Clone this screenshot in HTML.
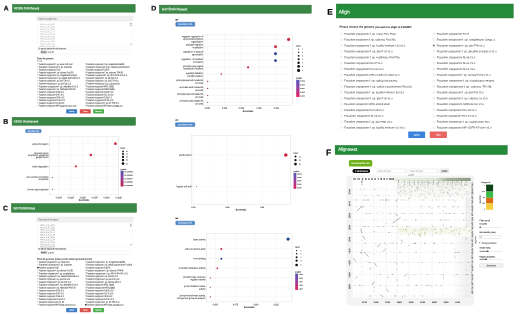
<!DOCTYPE html>
<html><head><meta charset="utf-8"><style>
html,body{margin:0;padding:0;background:#fff;width:520px;height:314px;overflow:hidden}
svg{display:block;font-family:"Liberation Sans",sans-serif;will-change:transform;text-rendering:geometricPrecision}
</style></head><body>
<svg width="520" height="314" viewBox="0 0 520 314">
<rect width="520" height="314" fill="#fff"/>
<text transform="matrix(1.0 0.0012 0 1 3.700 10.578)" font-size="6.7" fill="#0a0a0a" text-anchor="start" font-weight="bold" stroke="#0a0a0a" stroke-width="0.2">A</text>
<text transform="matrix(1.0 0.0012 0 1 3.200 123.646)" font-size="6.9" fill="#0a0a0a" text-anchor="start" font-weight="bold" stroke="#0a0a0a" stroke-width="0.2">B</text>
<text transform="matrix(1.0 0.0012 0 1 3.100 210.546)" font-size="6.9" fill="#0a0a0a" text-anchor="start" font-weight="bold" stroke="#0a0a0a" stroke-width="0.2">C</text>
<text transform="matrix(1.0 0.0012 0 1 151.300 10.596)" font-size="6.9" fill="#0a0a0a" text-anchor="start" font-weight="bold" stroke="#0a0a0a" stroke-width="0.2">D</text>
<text transform="matrix(1.0 0.0012 0 1 327.200 14.722)" font-size="8.3" fill="#0a0a0a" text-anchor="start" font-weight="bold" stroke="#0a0a0a" stroke-width="0.2">E</text>
<text transform="matrix(1.0 0.0012 0 1 325.900 155.624)" font-size="8.6" fill="#0a0a0a" text-anchor="start" font-weight="bold" stroke="#0a0a0a" stroke-width="0.2">F</text>
<rect x="12.42" y="4.32" width="122.75" height="7.85" rx="0" fill="#3a8745" stroke="#2c6d37" stroke-width="0.45"/>
<text transform="matrix(1.0 0.0012 0 1 14.200 9.354)" font-size="3.1" fill="#eef8ee" text-anchor="start" textLength="25.00" lengthAdjust="spacingAndGlyphs" stroke="#eef8ee" stroke-width="0.14">KEGG Enrichment</text>
<rect x="12.12" y="117.32" width="123.45" height="7.95" rx="0" fill="#3a8745" stroke="#2c6d37" stroke-width="0.45"/>
<text transform="matrix(1.0 0.0012 0 1 13.800 122.520)" font-size="3.0" fill="#eef8ee" text-anchor="start" textLength="24.30" lengthAdjust="spacingAndGlyphs" stroke="#eef8ee" stroke-width="0.14">KEGG Enrichment</text>
<rect x="11.42" y="203.53" width="125.15" height="8.75" rx="0" fill="#3a8745" stroke="#2c6d37" stroke-width="0.45"/>
<text transform="matrix(1.0 0.0012 0 1 13.500 209.354)" font-size="3.1" fill="#eef8ee" text-anchor="start" textLength="21.50" lengthAdjust="spacingAndGlyphs" stroke="#eef8ee" stroke-width="0.14">GO Enrichment</text>
<rect x="159.32" y="5.12" width="151.95" height="8.15" rx="0" fill="#3a8745" stroke="#2c6d37" stroke-width="0.45"/>
<text transform="matrix(1.0 0.0012 0 1 161.800 10.356)" font-size="3.4" fill="#eef8ee" text-anchor="start" textLength="25.40" lengthAdjust="spacingAndGlyphs" stroke="#eef8ee" stroke-width="0.14">GO Enrichment</text>
<rect x="336.23" y="4.02" width="177.05" height="13.95" rx="0" fill="#248b3a" stroke="#1f7030" stroke-width="0.45"/>
<text transform="matrix(1.0 0.0012 0 1 338.800 13.500)" font-size="5.0" fill="#f0faf0" text-anchor="start" textLength="11.00" lengthAdjust="spacingAndGlyphs" stroke="#f0faf0" stroke-width="0.14">Align</text>
<rect x="335.12" y="145.42" width="172.15" height="9.15" rx="0" fill="#248b3a" stroke="#1f7030" stroke-width="0.45"/>
<text transform="matrix(1.0 0.0012 0 1 338.200 150.864)" font-size="4.6" fill="#f0faf0" text-anchor="start" textLength="19.00" lengthAdjust="spacingAndGlyphs" stroke="#f0faf0" stroke-width="0.14">Alignment</text>
<rect x="36.55" y="16.35" width="96.50" height="4.60" rx="1.2" fill="#f0f0f0" stroke="#e2e2e2" stroke-width="0.3"/>
<text transform="matrix(1.0 0.0012 0 1 38.300 19.448)" font-size="2.2" fill="#555" text-anchor="start" textLength="18.20" lengthAdjust="spacingAndGlyphs" stroke="#555" stroke-width="0.02">Paste a list of genes IDs</text>
<rect x="37.42" y="21.62" width="95.15" height="24.65" rx="0" fill="#fff" stroke="#e8e8e8" stroke-width="0.25"/>
<text transform="matrix(1.0 0.0012 0 1 39.900 25.080)" font-size="2.0" fill="#9a9a9a" text-anchor="start" textLength="15.00" lengthAdjust="spacingAndGlyphs">FOXM_scaf_14227</text>
<text transform="matrix(1.0 0.0012 0 1 39.900 27.500)" font-size="2.0" fill="#9a9a9a" text-anchor="start" textLength="15.00" lengthAdjust="spacingAndGlyphs">FOXM_scaf_12283</text>
<text transform="matrix(1.0 0.0012 0 1 39.900 29.920)" font-size="2.0" fill="#9a9a9a" text-anchor="start" textLength="15.00" lengthAdjust="spacingAndGlyphs">FOXM_prot_2308</text>
<text transform="matrix(1.0 0.0012 0 1 39.900 32.340)" font-size="2.0" fill="#9a9a9a" text-anchor="start" textLength="15.00" lengthAdjust="spacingAndGlyphs">FOXM_scaf_11776</text>
<text transform="matrix(1.0 0.0012 0 1 39.900 34.760)" font-size="2.0" fill="#9a9a9a" text-anchor="start" textLength="15.00" lengthAdjust="spacingAndGlyphs">FOXM_scaf_11780</text>
<text transform="matrix(1.0 0.0012 0 1 39.900 37.180)" font-size="2.0" fill="#9a9a9a" text-anchor="start" textLength="15.00" lengthAdjust="spacingAndGlyphs">FOXM_scaf_12685</text>
<text transform="matrix(1.0 0.0012 0 1 39.900 39.600)" font-size="2.0" fill="#9a9a9a" text-anchor="start" textLength="15.00" lengthAdjust="spacingAndGlyphs">FOXM_scaf_12780</text>
<text transform="matrix(1.0 0.0012 0 1 39.900 42.020)" font-size="2.0" fill="#9a9a9a" text-anchor="start" textLength="15.00" lengthAdjust="spacingAndGlyphs">FOXM_scaf_12318</text>
<text transform="matrix(1.0 0.0012 0 1 39.900 44.440)" font-size="2.0" fill="#9a9a9a" text-anchor="start" textLength="15.00" lengthAdjust="spacingAndGlyphs">FOXM_scaf_1781</text>
<text transform="matrix(1.0 0.0012 0 1 39.900 46.860)" font-size="2.0" fill="#9a9a9a" text-anchor="start" textLength="15.00" lengthAdjust="spacingAndGlyphs">FOXM_scaf_1783</text>
<rect x="130.30" y="23.10" width="1.10" height="0.90" rx="0" fill="#777"/>
<rect x="130.30" y="24.50" width="1.10" height="1.50" rx="0" fill="#999"/>
<rect x="130.30" y="43.80" width="1.10" height="0.90" rx="0" fill="#777"/>
<text transform="matrix(1.0 0.0012 0 1 38.300 49.148)" font-size="2.2" fill="#333" text-anchor="start" textLength="27.90" lengthAdjust="spacingAndGlyphs" stroke="#333" stroke-width="0.07">Or please upload the list of genes</text>
<rect x="37.62" y="49.83" width="93.75" height="4.15" rx="0.5" fill="#fff" stroke="#e0e0e0" stroke-width="0.25"/>
<rect x="40.92" y="50.92" width="6.15" height="2.25" rx="0" fill="#d2d2d2" stroke="#999" stroke-width="0.25"/>
<text transform="matrix(1.0 0.0012 0 1 41.300 52.510)" font-size="1.5" fill="#222" text-anchor="start" textLength="5.30" lengthAdjust="spacingAndGlyphs" stroke="#222" stroke-width="0.07">Browse...</text>
<text transform="matrix(1.0 0.0012 0 1 47.900 52.544)" font-size="1.6" fill="#444" text-anchor="start" textLength="6.00" lengthAdjust="spacingAndGlyphs" stroke="#444" stroke-width="0.07">Load list</text>
<text transform="matrix(1.0 0.0012 0 1 36.900 59.282)" font-size="2.3" fill="#2a2a2a" text-anchor="start" font-weight="bold" textLength="16.90" lengthAdjust="spacingAndGlyphs" stroke="#2a2a2a" stroke-width="0.05">Chose the genomes:</text>
<rect x="37.42" y="60.68" width="1.05" height="1.05" rx="0" fill="#fff" stroke="#999" stroke-width="0.25"/>
<text transform="matrix(1.0 0.0012 0 1 39.000 61.914)" font-size="2.1" fill="#555" text-anchor="start" textLength="3.20" lengthAdjust="spacingAndGlyphs">All</text>
<rect x="37.73" y="63.57" width="1.05" height="1.05" rx="0" fill="#fff" stroke="#c4c4c4" stroke-width="0.25"/>
<text transform="matrix(1.0 0.0012 0 1 38.900 64.899)" font-size="2.35" fill="#444" text-anchor="start" textLength="33.60" lengthAdjust="spacingAndGlyphs" stroke="#444" stroke-width="0.07">Fusarium oxysporum f. sp. cepae FoC Fus2</text>
<rect x="85.33" y="63.57" width="1.05" height="1.05" rx="0" fill="#fff" stroke="#c4c4c4" stroke-width="0.25"/>
<text transform="matrix(1.0 0.0012 0 1 86.500 64.899)" font-size="2.35" fill="#444" text-anchor="start" textLength="37.70" lengthAdjust="spacingAndGlyphs" stroke="#444" stroke-width="0.07">Fusarium oxysporum f. sp. conglutinans 54008</text>
<rect x="37.73" y="66.35" width="1.05" height="1.05" rx="0" fill="#fff" stroke="#c4c4c4" stroke-width="0.25"/>
<text transform="matrix(1.0 0.0012 0 1 38.900 67.679)" font-size="2.35" fill="#444" text-anchor="start" textLength="33.10" lengthAdjust="spacingAndGlyphs" stroke="#444" stroke-width="0.07">Fusarium oxysporum f. sp. cubense</text>
<rect x="85.33" y="66.35" width="1.05" height="1.05" rx="0" fill="#fff" stroke="#c4c4c4" stroke-width="0.25"/>
<text transform="matrix(1.0 0.0012 0 1 86.500 67.679)" font-size="2.35" fill="#444" text-anchor="start" textLength="43.00" lengthAdjust="spacingAndGlyphs" stroke="#444" stroke-width="0.07">Fusarium oxysporum f. sp. radicis-cucumerinum</text>
<rect x="37.73" y="69.13" width="1.05" height="1.05" rx="0" fill="#fff" stroke="#c4c4c4" stroke-width="0.25"/>
<text transform="matrix(1.0 0.0012 0 1 38.900 70.459)" font-size="2.35" fill="#444" text-anchor="start" textLength="21.60" lengthAdjust="spacingAndGlyphs" stroke="#444" stroke-width="0.07">Fusarium oxysporum Fo47</text>
<rect x="85.33" y="69.13" width="1.05" height="1.05" rx="0" fill="#fff" stroke="#c4c4c4" stroke-width="0.25"/>
<text transform="matrix(1.0 0.0012 0 1 86.500 70.459)" font-size="2.35" fill="#444" text-anchor="start" textLength="22.80" lengthAdjust="spacingAndGlyphs" stroke="#444" stroke-width="0.07">Fusarium oxysporum Fo5176</text>
<rect x="37.73" y="71.91" width="1.05" height="1.05" rx="0" fill="#fff" stroke="#c4c4c4" stroke-width="0.25"/>
<text transform="matrix(1.0 0.0012 0 1 38.900 73.239)" font-size="2.35" fill="#444" text-anchor="start" textLength="34.60" lengthAdjust="spacingAndGlyphs" stroke="#444" stroke-width="0.07">Fusarium oxysporum f. sp. cubense Foc1-B2</text>
<rect x="85.33" y="71.91" width="1.05" height="1.05" rx="0" fill="#fff" stroke="#c4c4c4" stroke-width="0.25"/>
<text transform="matrix(1.0 0.0012 0 1 86.500 73.239)" font-size="2.35" fill="#444" text-anchor="start" textLength="36.30" lengthAdjust="spacingAndGlyphs" stroke="#444" stroke-width="0.07">Fusarium oxysporum f. sp. cubense TR4 II5</text>
<rect x="37.73" y="74.69" width="1.05" height="1.05" rx="0" fill="#fff" stroke="#c4c4c4" stroke-width="0.25"/>
<text transform="matrix(1.0 0.0012 0 1 38.900 76.019)" font-size="2.35" fill="#444" text-anchor="start" textLength="38.40" lengthAdjust="spacingAndGlyphs" stroke="#444" stroke-width="0.07">Fusarium oxysporum f. sp. conglutinans Cong1-1</text>
<rect x="85.33" y="74.69" width="1.05" height="1.05" rx="0" fill="#fff" stroke="#c4c4c4" stroke-width="0.25"/>
<text transform="matrix(1.0 0.0012 0 1 86.500 76.019)" font-size="2.35" fill="#444" text-anchor="start" textLength="40.60" lengthAdjust="spacingAndGlyphs" stroke="#444" stroke-width="0.07">Fusarium oxysporum f. sp. lilii Fol-Rh-W1 v1.0</text>
<rect x="37.73" y="77.47" width="1.05" height="1.05" rx="0" fill="#fff" stroke="#c4c4c4" stroke-width="0.25"/>
<text transform="matrix(1.0 0.0012 0 1 38.900 78.799)" font-size="2.35" fill="#444" text-anchor="start" textLength="40.80" lengthAdjust="spacingAndGlyphs" stroke="#444" stroke-width="0.07">Fusarium oxysporum f. sp. basilici Arnhem4 v1.0</text>
<rect x="85.33" y="77.47" width="1.05" height="1.05" rx="0" fill="#fff" stroke="#c4c4c4" stroke-width="0.25"/>
<text transform="matrix(1.0 0.0012 0 1 86.500 78.799)" font-size="2.35" fill="#444" text-anchor="start" textLength="31.50" lengthAdjust="spacingAndGlyphs" stroke="#444" stroke-width="0.07">Fusarium oxysporum f. sp. pisi F23 v1.0</text>
<rect x="37.73" y="80.25" width="1.05" height="1.05" rx="0" fill="#fff" stroke="#c4c4c4" stroke-width="0.25"/>
<text transform="matrix(1.0 0.0012 0 1 38.900 81.579)" font-size="2.35" fill="#444" text-anchor="start" textLength="30.70" lengthAdjust="spacingAndGlyphs" stroke="#444" stroke-width="0.07">Fusarium oxysporum f. sp. pisi F79 v1.0</text>
<rect x="85.33" y="80.25" width="1.05" height="1.05" rx="0" fill="#fff" stroke="#c4c4c4" stroke-width="0.25"/>
<text transform="matrix(1.0 0.0012 0 1 86.500 81.579)" font-size="2.35" fill="#444" text-anchor="start" textLength="32.00" lengthAdjust="spacingAndGlyphs" stroke="#444" stroke-width="0.07">Fusarium oxysporum f. sp. pisi F79 v1.0</text>
<rect x="37.73" y="83.03" width="1.05" height="1.05" rx="0" fill="#fff" stroke="#c4c4c4" stroke-width="0.25"/>
<text transform="matrix(1.0 0.0012 0 1 38.900 84.359)" font-size="2.35" fill="#444" text-anchor="start" textLength="32.00" lengthAdjust="spacingAndGlyphs" stroke="#444" stroke-width="0.07">Fusarium oxysporum f. sp. pisi F23 v1.0</text>
<rect x="85.33" y="83.03" width="1.05" height="1.05" rx="0" fill="#fff" stroke="#c4c4c4" stroke-width="0.25"/>
<text transform="matrix(1.0 0.0012 0 1 86.500 84.359)" font-size="2.35" fill="#444" text-anchor="start" textLength="33.00" lengthAdjust="spacingAndGlyphs" stroke="#444" stroke-width="0.07">Fusarium oxysporum f. sp. cubense 58</text>
<rect x="37.73" y="85.81" width="1.05" height="1.05" rx="0" fill="#fff" stroke="#c4c4c4" stroke-width="0.25"/>
<text transform="matrix(1.0 0.0012 0 1 38.900 87.139)" font-size="2.35" fill="#444" text-anchor="start" textLength="38.90" lengthAdjust="spacingAndGlyphs" stroke="#444" stroke-width="0.07">Fusarium oxysporum f. sp. albedinis 9 v1.0</text>
<rect x="85.33" y="85.81" width="1.05" height="1.05" rx="0" fill="#fff" stroke="#c4c4c4" stroke-width="0.25"/>
<text transform="matrix(1.0 0.0012 0 1 86.500 87.139)" font-size="2.35" fill="#444" text-anchor="start" textLength="27.20" lengthAdjust="spacingAndGlyphs" stroke="#444" stroke-width="0.07">Fusarium oxysporum NRRL 26365</text>
<rect x="37.73" y="88.59" width="1.05" height="1.05" rx="0" fill="#fff" stroke="#c4c4c4" stroke-width="0.25"/>
<text transform="matrix(1.0 0.0012 0 1 38.900 89.919)" font-size="2.35" fill="#444" text-anchor="start" textLength="36.50" lengthAdjust="spacingAndGlyphs" stroke="#444" stroke-width="0.07">Fusarium oxysporum f. sp. matthiolae PHW726</text>
<rect x="85.33" y="88.59" width="1.05" height="1.05" rx="0" fill="#fff" stroke="#c4c4c4" stroke-width="0.25"/>
<text transform="matrix(1.0 0.0012 0 1 86.500 89.919)" font-size="2.35" fill="#444" text-anchor="start" textLength="28.10" lengthAdjust="spacingAndGlyphs" stroke="#444" stroke-width="0.07">Fusarium oxysporum NRRL26406</text>
<rect x="37.73" y="91.37" width="1.05" height="1.05" rx="0" fill="#fff" stroke="#c4c4c4" stroke-width="0.25"/>
<text transform="matrix(1.0 0.0012 0 1 38.900 92.699)" font-size="2.35" fill="#444" text-anchor="start" textLength="24.90" lengthAdjust="spacingAndGlyphs" stroke="#444" stroke-width="0.07">Fusarium oxysporum f2-08 v1.0</text>
<rect x="85.33" y="91.37" width="1.05" height="1.05" rx="0" fill="#fff" stroke="#c4c4c4" stroke-width="0.25"/>
<text transform="matrix(1.0 0.0012 0 1 86.500 92.699)" font-size="2.35" fill="#444" text-anchor="start" textLength="26.70" lengthAdjust="spacingAndGlyphs" stroke="#444" stroke-width="0.07">Fusarium oxysporum Fo5 08 v1.0</text>
<rect x="37.73" y="94.15" width="1.05" height="1.05" rx="0" fill="#fff" stroke="#c4c4c4" stroke-width="0.25"/>
<text transform="matrix(1.0 0.0012 0 1 38.900 95.479)" font-size="2.35" fill="#444" text-anchor="start" textLength="24.90" lengthAdjust="spacingAndGlyphs" stroke="#444" stroke-width="0.07">Fusarium oxysporum f2-07 v1.0</text>
<rect x="85.33" y="94.15" width="1.05" height="1.05" rx="0" fill="#fff" stroke="#c4c4c4" stroke-width="0.25"/>
<text transform="matrix(1.0 0.0012 0 1 86.500 95.479)" font-size="2.35" fill="#444" text-anchor="start" textLength="26.70" lengthAdjust="spacingAndGlyphs" stroke="#444" stroke-width="0.07">Fusarium oxysporum FOL 10 v1.0</text>
<rect x="37.73" y="96.93" width="1.05" height="1.05" rx="0" fill="#fff" stroke="#c4c4c4" stroke-width="0.25"/>
<text transform="matrix(1.0 0.0012 0 1 38.900 98.259)" font-size="2.35" fill="#444" text-anchor="start" textLength="25.40" lengthAdjust="spacingAndGlyphs" stroke="#444" stroke-width="0.07">Fusarium oxysporum f2-06 v1.0</text>
<rect x="85.33" y="96.93" width="1.05" height="1.05" rx="0" fill="#fff" stroke="#c4c4c4" stroke-width="0.25"/>
<text transform="matrix(1.0 0.0012 0 1 86.500 98.259)" font-size="2.35" fill="#444" text-anchor="start" textLength="25.20" lengthAdjust="spacingAndGlyphs" stroke="#444" stroke-width="0.07">Fusarium oxysporum F5 05 v1.0</text>
<rect x="37.73" y="99.71" width="1.05" height="1.05" rx="0" fill="#fff" stroke="#c4c4c4" stroke-width="0.25"/>
<text transform="matrix(1.0 0.0012 0 1 38.900 101.039)" font-size="2.35" fill="#444" text-anchor="start" textLength="25.90" lengthAdjust="spacingAndGlyphs" stroke="#444" stroke-width="0.07">Fusarium oxysporum f2-61 v1.0</text>
<rect x="85.33" y="99.71" width="1.05" height="1.05" rx="0" fill="#fff" stroke="#c4c4c4" stroke-width="0.25"/>
<text transform="matrix(1.0 0.0012 0 1 86.500 101.039)" font-size="2.35" fill="#444" text-anchor="start" textLength="26.70" lengthAdjust="spacingAndGlyphs" stroke="#444" stroke-width="0.07">Fusarium oxysporum f2 02 v1.0</text>
<rect x="37.73" y="102.49" width="1.05" height="1.05" rx="0" fill="#fff" stroke="#c4c4c4" stroke-width="0.25"/>
<text transform="matrix(1.0 0.0012 0 1 38.900 103.819)" font-size="2.35" fill="#444" text-anchor="start" textLength="25.40" lengthAdjust="spacingAndGlyphs" stroke="#444" stroke-width="0.07">Fusarium oxysporum FoS 36 v1.0</text>
<rect x="85.33" y="102.49" width="1.05" height="1.05" rx="0" fill="#fff" stroke="#c4c4c4" stroke-width="0.25"/>
<text transform="matrix(1.0 0.0012 0 1 86.500 103.819)" font-size="2.35" fill="#444" text-anchor="start" textLength="32.40" lengthAdjust="spacingAndGlyphs" stroke="#444" stroke-width="0.07">Fusarium oxysporum f. sp. lini TR5 v1.0</text>
<rect x="37.73" y="105.27" width="1.05" height="1.05" rx="0" fill="#fff" stroke="#c4c4c4" stroke-width="0.25"/>
<text transform="matrix(1.0 0.0012 0 1 38.900 106.599)" font-size="2.35" fill="#444" text-anchor="start" textLength="37.40" lengthAdjust="spacingAndGlyphs" stroke="#444" stroke-width="0.07">Fusarium oxysporum MPI-CAGE-CH-0212 v1.0</text>
<rect x="85.33" y="105.27" width="1.05" height="1.05" rx="0" fill="#fff" stroke="#c4c4c4" stroke-width="0.25"/>
<text transform="matrix(1.0 0.0012 0 1 86.500 106.599)" font-size="2.35" fill="#444" text-anchor="start" textLength="36.30" lengthAdjust="spacingAndGlyphs" stroke="#444" stroke-width="0.07">Fusarium oxysporum MPI-SDFR-AT-0094 v1.0</text>
<rect x="66.20" y="109.20" width="10.90" height="4.30" rx="0.6" fill="#3d7ec4"/>
<text transform="matrix(1.0 0.0012 0 1 71.650 111.894)" font-size="1.6" fill="#fff" text-anchor="middle" stroke="#fff" stroke-width="0.07">Submit</text>
<rect x="79.80" y="109.20" width="11.00" height="4.30" rx="0.6" fill="#d9534f"/>
<text transform="matrix(1.0 0.0012 0 1 85.300 111.894)" font-size="1.6" fill="#fff" text-anchor="middle" stroke="#fff" stroke-width="0.07">Reset</text>
<rect x="93.10" y="109.20" width="10.90" height="4.30" rx="0.6" fill="#4cae4c"/>
<text transform="matrix(1.0 0.0012 0 1 98.550 111.894)" font-size="1.6" fill="#fff" text-anchor="middle" stroke="#fff" stroke-width="0.07">Example</text>
<rect x="36.55" y="217.05" width="96.50" height="4.60" rx="1.2" fill="#f0f0f0" stroke="#e2e2e2" stroke-width="0.3"/>
<text transform="matrix(1.0 0.0012 0 1 38.300 220.148)" font-size="2.2" fill="#555" text-anchor="start" textLength="20.00" lengthAdjust="spacingAndGlyphs" stroke="#555" stroke-width="0.02">Please paste the list of genes</text>
<rect x="37.42" y="222.33" width="95.15" height="24.25" rx="0" fill="#fff" stroke="#e8e8e8" stroke-width="0.25"/>
<text transform="matrix(1.0 0.0012 0 1 39.900 225.780)" font-size="2.0" fill="#777" text-anchor="start" textLength="15.00" lengthAdjust="spacingAndGlyphs">FOXM_scaf_14227</text>
<text transform="matrix(1.0 0.0012 0 1 39.900 228.200)" font-size="2.0" fill="#777" text-anchor="start" textLength="15.00" lengthAdjust="spacingAndGlyphs">FOXM_scaf_12283</text>
<text transform="matrix(1.0 0.0012 0 1 39.900 230.620)" font-size="2.0" fill="#777" text-anchor="start" textLength="15.00" lengthAdjust="spacingAndGlyphs">FOXM_prot_2308</text>
<text transform="matrix(1.0 0.0012 0 1 39.900 233.040)" font-size="2.0" fill="#777" text-anchor="start" textLength="15.00" lengthAdjust="spacingAndGlyphs">FOXM_scaf_11776</text>
<text transform="matrix(1.0 0.0012 0 1 39.900 235.460)" font-size="2.0" fill="#777" text-anchor="start" textLength="15.00" lengthAdjust="spacingAndGlyphs">FOXM_scaf_11780</text>
<text transform="matrix(1.0 0.0012 0 1 39.900 237.880)" font-size="2.0" fill="#777" text-anchor="start" textLength="15.00" lengthAdjust="spacingAndGlyphs">FOXM_scaf_12685</text>
<text transform="matrix(1.0 0.0012 0 1 39.900 240.300)" font-size="2.0" fill="#777" text-anchor="start" textLength="15.00" lengthAdjust="spacingAndGlyphs">FOXM_scaf_12780</text>
<text transform="matrix(1.0 0.0012 0 1 39.900 242.720)" font-size="2.0" fill="#777" text-anchor="start" textLength="15.00" lengthAdjust="spacingAndGlyphs">FOXM_scaf_12318</text>
<text transform="matrix(1.0 0.0012 0 1 39.900 245.140)" font-size="2.0" fill="#777" text-anchor="start" textLength="15.00" lengthAdjust="spacingAndGlyphs">FOXM_scaf_1781</text>
<text transform="matrix(1.0 0.0012 0 1 39.900 247.560)" font-size="2.0" fill="#777" text-anchor="start" textLength="15.00" lengthAdjust="spacingAndGlyphs">FOXM_scaf_1783</text>
<rect x="130.30" y="223.80" width="1.10" height="0.90" rx="0" fill="#777"/>
<rect x="130.30" y="225.20" width="1.10" height="1.50" rx="0" fill="#999"/>
<rect x="130.30" y="244.10" width="1.10" height="0.90" rx="0" fill="#777"/>
<text transform="matrix(1.0 0.0012 0 1 38.300 249.448)" font-size="2.2" fill="#333" text-anchor="start" textLength="27.90" lengthAdjust="spacingAndGlyphs" stroke="#333" stroke-width="0.07">Or please upload the list of genes</text>
<rect x="37.62" y="250.42" width="93.75" height="4.15" rx="0.5" fill="#fff" stroke="#e0e0e0" stroke-width="0.25"/>
<rect x="40.92" y="251.53" width="6.15" height="2.25" rx="0" fill="#d2d2d2" stroke="#999" stroke-width="0.25"/>
<text transform="matrix(1.0 0.0012 0 1 41.300 253.110)" font-size="1.5" fill="#222" text-anchor="start" textLength="5.30" lengthAdjust="spacingAndGlyphs" stroke="#222" stroke-width="0.07">Browse...</text>
<text transform="matrix(1.0 0.0012 0 1 47.900 253.144)" font-size="1.6" fill="#444" text-anchor="start" textLength="6.00" lengthAdjust="spacingAndGlyphs" stroke="#444" stroke-width="0.07">Load list</text>
<text transform="matrix(1.0 0.0012 0 1 36.900 259.782)" font-size="2.3" fill="#2a2a2a" text-anchor="start" font-weight="bold" textLength="55.20" lengthAdjust="spacingAndGlyphs" stroke="#2a2a2a" stroke-width="0.05">Chose the genomes. (Notice you can chose 5 genomes at most):</text>
<rect x="37.73" y="261.38" width="1.05" height="1.05" rx="0" fill="#fff" stroke="#c4c4c4" stroke-width="0.25"/>
<text transform="matrix(1.0 0.0012 0 1 38.900 262.699)" font-size="2.35" fill="#444" text-anchor="start" textLength="30.70" lengthAdjust="spacingAndGlyphs" stroke="#444" stroke-width="0.07">Fusarium oxysporum f. sp. cepae FoC</text>
<rect x="85.33" y="261.38" width="1.05" height="1.05" rx="0" fill="#fff" stroke="#c4c4c4" stroke-width="0.25"/>
<text transform="matrix(1.0 0.0012 0 1 86.500 262.699)" font-size="2.35" fill="#444" text-anchor="start" textLength="38.50" lengthAdjust="spacingAndGlyphs" stroke="#444" stroke-width="0.07">Fusarium oxysporum f. sp. conglutinans 54008</text>
<rect x="37.73" y="264.24" width="1.05" height="1.05" rx="0" fill="#fff" stroke="#c4c4c4" stroke-width="0.25"/>
<text transform="matrix(1.0 0.0012 0 1 38.900 265.559)" font-size="2.35" fill="#444" text-anchor="start" textLength="33.10" lengthAdjust="spacingAndGlyphs" stroke="#444" stroke-width="0.07">Fusarium oxysporum f. sp. cubense</text>
<rect x="85.33" y="264.24" width="1.05" height="1.05" rx="0" fill="#fff" stroke="#c4c4c4" stroke-width="0.25"/>
<text transform="matrix(1.0 0.0012 0 1 86.500 265.559)" font-size="2.35" fill="#444" text-anchor="start" textLength="45.40" lengthAdjust="spacingAndGlyphs" stroke="#444" stroke-width="0.07">Fusarium oxysporum f. sp. radicis-cucumerinum Forc016</text>
<rect x="37.73" y="267.10" width="1.05" height="1.05" rx="0" fill="#222" stroke="#222" stroke-width="0.25"/>
<text transform="matrix(1.0 0.0012 0 1 38.900 268.419)" font-size="2.35" fill="#444" text-anchor="start" textLength="20.10" lengthAdjust="spacingAndGlyphs" stroke="#444" stroke-width="0.07">Fusarium oxysporum Fo47</text>
<rect x="85.33" y="267.10" width="1.05" height="1.05" rx="0" fill="#fff" stroke="#c4c4c4" stroke-width="0.25"/>
<text transform="matrix(1.0 0.0012 0 1 86.500 268.419)" font-size="2.35" fill="#444" text-anchor="start" textLength="23.70" lengthAdjust="spacingAndGlyphs" stroke="#444" stroke-width="0.07">Fusarium oxysporum Fo5176</text>
<rect x="37.73" y="269.95" width="1.05" height="1.05" rx="0" fill="#fff" stroke="#c4c4c4" stroke-width="0.25"/>
<text transform="matrix(1.0 0.0012 0 1 38.900 271.279)" font-size="2.35" fill="#444" text-anchor="start" textLength="34.10" lengthAdjust="spacingAndGlyphs" stroke="#444" stroke-width="0.07">Fusarium oxysporum f. sp. cubense Foc1-B2</text>
<rect x="85.33" y="269.95" width="1.05" height="1.05" rx="0" fill="#fff" stroke="#c4c4c4" stroke-width="0.25"/>
<text transform="matrix(1.0 0.0012 0 1 86.500 271.279)" font-size="2.35" fill="#444" text-anchor="start" textLength="36.90" lengthAdjust="spacingAndGlyphs" stroke="#444" stroke-width="0.07">Fusarium oxysporum f. sp. cubense TR4 II5</text>
<rect x="37.73" y="272.81" width="1.05" height="1.05" rx="0" fill="#fff" stroke="#c4c4c4" stroke-width="0.25"/>
<text transform="matrix(1.0 0.0012 0 1 38.900 274.139)" font-size="2.35" fill="#444" text-anchor="start" textLength="35.50" lengthAdjust="spacingAndGlyphs" stroke="#444" stroke-width="0.07">Fusarium oxysporum f. sp. conglutinans</text>
<rect x="85.33" y="272.81" width="1.05" height="1.05" rx="0" fill="#fff" stroke="#c4c4c4" stroke-width="0.25"/>
<text transform="matrix(1.0 0.0012 0 1 86.500 274.139)" font-size="2.35" fill="#444" text-anchor="start" textLength="41.10" lengthAdjust="spacingAndGlyphs" stroke="#444" stroke-width="0.07">Fusarium oxysporum f. sp. lilii Fol-Rh-W1 v1.0</text>
<rect x="37.73" y="275.68" width="1.05" height="1.05" rx="0" fill="#fff" stroke="#c4c4c4" stroke-width="0.25"/>
<text transform="matrix(1.0 0.0012 0 1 38.900 276.999)" font-size="2.35" fill="#444" text-anchor="start" textLength="39.85" lengthAdjust="spacingAndGlyphs" stroke="#444" stroke-width="0.07">Fusarium oxysporum f. sp. basilici Arnhem4 v1.0</text>
<rect x="85.33" y="275.68" width="1.05" height="1.05" rx="0" fill="#fff" stroke="#c4c4c4" stroke-width="0.25"/>
<text transform="matrix(1.0 0.0012 0 1 86.500 276.999)" font-size="2.35" fill="#444" text-anchor="start" textLength="31.60" lengthAdjust="spacingAndGlyphs" stroke="#444" stroke-width="0.07">Fusarium oxysporum f. sp. pisi F23 v1.0</text>
<rect x="37.73" y="278.54" width="1.05" height="1.05" rx="0" fill="#fff" stroke="#c4c4c4" stroke-width="0.25"/>
<text transform="matrix(1.0 0.0012 0 1 38.900 279.859)" font-size="2.35" fill="#444" text-anchor="start" textLength="31.20" lengthAdjust="spacingAndGlyphs" stroke="#444" stroke-width="0.07">Fusarium oxysporum f. sp. pisi F79 v1.0</text>
<rect x="85.33" y="278.54" width="1.05" height="1.05" rx="0" fill="#fff" stroke="#c4c4c4" stroke-width="0.25"/>
<text transform="matrix(1.0 0.0012 0 1 86.500 279.859)" font-size="2.35" fill="#444" text-anchor="start" textLength="32.70" lengthAdjust="spacingAndGlyphs" stroke="#444" stroke-width="0.07">Fusarium oxysporum f. sp. pisi F79 v1.0</text>
<rect x="37.73" y="281.39" width="1.05" height="1.05" rx="0" fill="#fff" stroke="#c4c4c4" stroke-width="0.25"/>
<text transform="matrix(1.0 0.0012 0 1 38.900 282.719)" font-size="2.35" fill="#444" text-anchor="start" textLength="32.20" lengthAdjust="spacingAndGlyphs" stroke="#444" stroke-width="0.07">Fusarium oxysporum f. sp. pisi F23 v1.0</text>
<rect x="85.33" y="281.39" width="1.05" height="1.05" rx="0" fill="#fff" stroke="#c4c4c4" stroke-width="0.25"/>
<text transform="matrix(1.0 0.0012 0 1 86.500 282.719)" font-size="2.35" fill="#444" text-anchor="start" textLength="34.20" lengthAdjust="spacingAndGlyphs" stroke="#444" stroke-width="0.07">Fusarium oxysporum f. sp. cubense 58 v1.0</text>
<rect x="37.73" y="284.25" width="1.05" height="1.05" rx="0" fill="#fff" stroke="#c4c4c4" stroke-width="0.25"/>
<text transform="matrix(1.0 0.0012 0 1 38.900 285.579)" font-size="2.35" fill="#444" text-anchor="start" textLength="38.90" lengthAdjust="spacingAndGlyphs" stroke="#444" stroke-width="0.07">Fusarium oxysporum f. sp. albedinis 9 v1.0</text>
<rect x="85.33" y="284.25" width="1.05" height="1.05" rx="0" fill="#fff" stroke="#c4c4c4" stroke-width="0.25"/>
<text transform="matrix(1.0 0.0012 0 1 86.500 285.579)" font-size="2.35" fill="#444" text-anchor="start" textLength="27.40" lengthAdjust="spacingAndGlyphs" stroke="#444" stroke-width="0.07">Fusarium oxysporum NRRL 26365</text>
<rect x="37.73" y="287.12" width="1.05" height="1.05" rx="0" fill="#fff" stroke="#c4c4c4" stroke-width="0.25"/>
<text transform="matrix(1.0 0.0012 0 1 38.900 288.439)" font-size="2.35" fill="#444" text-anchor="start" textLength="36.50" lengthAdjust="spacingAndGlyphs" stroke="#444" stroke-width="0.07">Fusarium oxysporum f. sp. matthiolae PHW726</text>
<rect x="85.33" y="287.12" width="1.05" height="1.05" rx="0" fill="#fff" stroke="#c4c4c4" stroke-width="0.25"/>
<text transform="matrix(1.0 0.0012 0 1 86.500 288.439)" font-size="2.35" fill="#444" text-anchor="start" textLength="28.40" lengthAdjust="spacingAndGlyphs" stroke="#444" stroke-width="0.07">Fusarium oxysporum NRRL26406</text>
<rect x="37.73" y="289.98" width="1.05" height="1.05" rx="0" fill="#fff" stroke="#c4c4c4" stroke-width="0.25"/>
<text transform="matrix(1.0 0.0012 0 1 38.900 291.299)" font-size="2.35" fill="#444" text-anchor="start" textLength="24.90" lengthAdjust="spacingAndGlyphs" stroke="#444" stroke-width="0.07">Fusarium oxysporum f2-08 v1.0</text>
<rect x="85.33" y="289.98" width="1.05" height="1.05" rx="0" fill="#fff" stroke="#c4c4c4" stroke-width="0.25"/>
<text transform="matrix(1.0 0.0012 0 1 86.500 291.299)" font-size="2.35" fill="#444" text-anchor="start" textLength="26.80" lengthAdjust="spacingAndGlyphs" stroke="#444" stroke-width="0.07">Fusarium oxysporum Fo5 08 v1.0</text>
<rect x="37.73" y="292.83" width="1.05" height="1.05" rx="0" fill="#fff" stroke="#c4c4c4" stroke-width="0.25"/>
<text transform="matrix(1.0 0.0012 0 1 38.900 294.159)" font-size="2.35" fill="#444" text-anchor="start" textLength="24.90" lengthAdjust="spacingAndGlyphs" stroke="#444" stroke-width="0.07">Fusarium oxysporum f2-07 v1.0</text>
<rect x="85.33" y="292.83" width="1.05" height="1.05" rx="0" fill="#fff" stroke="#c4c4c4" stroke-width="0.25"/>
<text transform="matrix(1.0 0.0012 0 1 86.500 294.159)" font-size="2.35" fill="#444" text-anchor="start" textLength="26.80" lengthAdjust="spacingAndGlyphs" stroke="#444" stroke-width="0.07">Fusarium oxysporum FOL 10 v1.0</text>
<rect x="37.73" y="295.69" width="1.05" height="1.05" rx="0" fill="#fff" stroke="#c4c4c4" stroke-width="0.25"/>
<text transform="matrix(1.0 0.0012 0 1 38.900 297.019)" font-size="2.35" fill="#444" text-anchor="start" textLength="24.90" lengthAdjust="spacingAndGlyphs" stroke="#444" stroke-width="0.07">Fusarium oxysporum f2-06 v1.0</text>
<rect x="85.33" y="295.69" width="1.05" height="1.05" rx="0" fill="#fff" stroke="#c4c4c4" stroke-width="0.25"/>
<text transform="matrix(1.0 0.0012 0 1 86.500 297.019)" font-size="2.35" fill="#444" text-anchor="start" textLength="25.80" lengthAdjust="spacingAndGlyphs" stroke="#444" stroke-width="0.07">Fusarium oxysporum F5 05 v1.0</text>
<rect x="37.73" y="298.56" width="1.05" height="1.05" rx="0" fill="#fff" stroke="#c4c4c4" stroke-width="0.25"/>
<text transform="matrix(1.0 0.0012 0 1 38.900 299.879)" font-size="2.35" fill="#444" text-anchor="start" textLength="25.90" lengthAdjust="spacingAndGlyphs" stroke="#444" stroke-width="0.07">Fusarium oxysporum f2-61 v1.0</text>
<rect x="85.33" y="298.56" width="1.05" height="1.05" rx="0" fill="#fff" stroke="#c4c4c4" stroke-width="0.25"/>
<text transform="matrix(1.0 0.0012 0 1 86.500 299.879)" font-size="2.35" fill="#444" text-anchor="start" textLength="27.40" lengthAdjust="spacingAndGlyphs" stroke="#444" stroke-width="0.07">Fusarium oxysporum f2 02 v1.0</text>
<rect x="37.73" y="301.42" width="1.05" height="1.05" rx="0" fill="#fff" stroke="#c4c4c4" stroke-width="0.25"/>
<text transform="matrix(1.0 0.0012 0 1 38.900 302.739)" font-size="2.35" fill="#444" text-anchor="start" textLength="24.90" lengthAdjust="spacingAndGlyphs" stroke="#444" stroke-width="0.07">Fusarium oxysporum FoS 36</text>
<rect x="85.33" y="301.42" width="1.05" height="1.05" rx="0" fill="#fff" stroke="#c4c4c4" stroke-width="0.25"/>
<text transform="matrix(1.0 0.0012 0 1 86.500 302.739)" font-size="2.35" fill="#444" text-anchor="start" textLength="32.70" lengthAdjust="spacingAndGlyphs" stroke="#444" stroke-width="0.07">Fusarium oxysporum f. sp. lini TR5 v1.0</text>
<rect x="37.73" y="304.27" width="1.05" height="1.05" rx="0" fill="#fff" stroke="#c4c4c4" stroke-width="0.25"/>
<text transform="matrix(1.0 0.0012 0 1 38.900 305.599)" font-size="2.35" fill="#444" text-anchor="start" textLength="36.50" lengthAdjust="spacingAndGlyphs" stroke="#444" stroke-width="0.07">Fusarium oxysporum MPI-CAGE-CH-0212 v1.0</text>
<rect x="85.33" y="304.27" width="1.05" height="1.05" rx="0" fill="#222" stroke="#222" stroke-width="0.25"/>
<text transform="matrix(1.0 0.0012 0 1 86.500 305.599)" font-size="2.35" fill="#444" text-anchor="start" textLength="36.90" lengthAdjust="spacingAndGlyphs" stroke="#444" stroke-width="0.07">Fusarium oxysporum MPI-SDFR-AT-0094 v1.0</text>
<rect x="66.20" y="307.90" width="10.90" height="4.30" rx="0.6" fill="#3d7ec4"/>
<text transform="matrix(1.0 0.0012 0 1 71.650 310.594)" font-size="1.6" fill="#fff" text-anchor="middle" stroke="#fff" stroke-width="0.07">Submit</text>
<rect x="79.80" y="307.90" width="11.00" height="4.30" rx="0.6" fill="#d9534f"/>
<text transform="matrix(1.0 0.0012 0 1 85.300 310.594)" font-size="1.6" fill="#fff" text-anchor="middle" stroke="#fff" stroke-width="0.07">Reset</text>
<rect x="93.10" y="307.90" width="10.90" height="4.30" rx="0.6" fill="#4cae4c"/>
<text transform="matrix(1.0 0.0012 0 1 98.550 310.594)" font-size="1.6" fill="#fff" text-anchor="middle" stroke="#fff" stroke-width="0.07">Example</text>
<rect x="25.60" y="129.60" width="15.50" height="3.00" rx="0.5" fill="#4d89cb" stroke="#2e64a6" stroke-width="0.4"/>
<text transform="matrix(1.0 0.0012 0 1 33.350 131.746)" font-size="1.9" fill="#e8f0fa" text-anchor="middle" textLength="11.45" lengthAdjust="spacingAndGlyphs" stroke="#e8f0fa" stroke-width="0.07">Download SVG</text>
<rect x="49.57" y="136.68" width="68.85" height="58.25" rx="0" fill="#fff" stroke="#d4d4d4" stroke-width="0.35"/>
<line x1="52.82" y1="136.70" x2="52.82" y2="194.90" stroke="#f5f5f5" stroke-width="0.2"/>
<line x1="58.80" y1="136.70" x2="58.80" y2="194.90" stroke="#e8e8e8" stroke-width="0.3"/>
<line x1="64.78" y1="136.70" x2="64.78" y2="194.90" stroke="#f5f5f5" stroke-width="0.2"/>
<line x1="70.75" y1="136.70" x2="70.75" y2="194.90" stroke="#e8e8e8" stroke-width="0.3"/>
<line x1="76.72" y1="136.70" x2="76.72" y2="194.90" stroke="#f5f5f5" stroke-width="0.2"/>
<line x1="82.70" y1="136.70" x2="82.70" y2="194.90" stroke="#e8e8e8" stroke-width="0.3"/>
<line x1="88.67" y1="136.70" x2="88.67" y2="194.90" stroke="#f5f5f5" stroke-width="0.2"/>
<line x1="94.65" y1="136.70" x2="94.65" y2="194.90" stroke="#e8e8e8" stroke-width="0.3"/>
<line x1="100.62" y1="136.70" x2="100.62" y2="194.90" stroke="#f5f5f5" stroke-width="0.2"/>
<line x1="106.60" y1="136.70" x2="106.60" y2="194.90" stroke="#e8e8e8" stroke-width="0.3"/>
<line x1="112.58" y1="136.70" x2="112.58" y2="194.90" stroke="#f5f5f5" stroke-width="0.2"/>
<line x1="118.55" y1="136.70" x2="118.55" y2="194.90" stroke="#e8e8e8" stroke-width="0.3"/>
<line x1="49.60" y1="143.70" x2="118.40" y2="143.70" stroke="#e6e6e6" stroke-width="0.3"/>
<line x1="49.60" y1="155.10" x2="118.40" y2="155.10" stroke="#e6e6e6" stroke-width="0.3"/>
<line x1="49.60" y1="166.40" x2="118.40" y2="166.40" stroke="#e6e6e6" stroke-width="0.3"/>
<line x1="49.60" y1="177.80" x2="118.40" y2="177.80" stroke="#e6e6e6" stroke-width="0.3"/>
<line x1="49.60" y1="189.20" x2="118.40" y2="189.20" stroke="#e6e6e6" stroke-width="0.3"/>
<circle cx="115.40" cy="143.70" r="1.35" fill="#c8283f"/>
<circle cx="90.80" cy="155.10" r="1.25" fill="#c8283f"/>
<circle cx="75.80" cy="166.30" r="1.10" fill="#c8283f"/>
<circle cx="52.60" cy="177.50" r="0.50" fill="#3a2020"/>
<circle cx="52.50" cy="189.20" r="0.50" fill="#3a2020"/>
<text transform="matrix(1.0 0.0012 0 1 31.900 144.682)" font-size="2.3" fill="#2a2a2a" text-anchor="start" textLength="16.50" lengthAdjust="spacingAndGlyphs" stroke="#2a2a2a" stroke-width="0.04">Fatty acid elongation</text>
<text transform="matrix(1.0 0.0012 0 1 34.200 154.082)" font-size="2.3" fill="#2a2a2a" text-anchor="start" textLength="14.20" lengthAdjust="spacingAndGlyphs" stroke="#2a2a2a" stroke-width="0.04">Glycosaminoglycan</text>
<text transform="matrix(1.0 0.0012 0 1 28.100 156.082)" font-size="2.3" fill="#2a2a2a" text-anchor="start" textLength="20.30" lengthAdjust="spacingAndGlyphs" stroke="#2a2a2a" stroke-width="0.04">biosynthesis - ganglio and</text>
<text transform="matrix(1.0 0.0012 0 1 36.000 158.082)" font-size="2.3" fill="#2a2a2a" text-anchor="start" textLength="12.40" lengthAdjust="spacingAndGlyphs" stroke="#2a2a2a" stroke-width="0.04">ganglio series</text>
<text transform="matrix(1.0 0.0012 0 1 32.100 167.282)" font-size="2.3" fill="#2a2a2a" text-anchor="start" textLength="16.30" lengthAdjust="spacingAndGlyphs" stroke="#2a2a2a" stroke-width="0.04">Insulin degradation</text>
<text transform="matrix(1.0 0.0012 0 1 26.200 177.682)" font-size="2.3" fill="#2a2a2a" text-anchor="start" textLength="22.20" lengthAdjust="spacingAndGlyphs" stroke="#2a2a2a" stroke-width="0.04">Flavone and flavonol biosynthesis</text>
<text transform="matrix(1.0 0.0012 0 1 38.700 179.982)" font-size="2.3" fill="#2a2a2a" text-anchor="start" textLength="9.70" lengthAdjust="spacingAndGlyphs" stroke="#2a2a2a" stroke-width="0.04">biosynthesis</text>
<text transform="matrix(1.0 0.0012 0 1 27.100 190.182)" font-size="2.3" fill="#2a2a2a" text-anchor="start" textLength="21.30" lengthAdjust="spacingAndGlyphs" stroke="#2a2a2a" stroke-width="0.04">D-Amino acid metabolism</text>
<text transform="matrix(1.0 0.0012 0 1 58.800 198.164)" font-size="2.1" fill="#2a2a2a" text-anchor="middle" textLength="6.12" lengthAdjust="spacingAndGlyphs" stroke="#2a2a2a" stroke-width="0.07">0.0100</text>
<text transform="matrix(1.0 0.0012 0 1 70.750 198.164)" font-size="2.1" fill="#2a2a2a" text-anchor="middle" textLength="6.12" lengthAdjust="spacingAndGlyphs" stroke="#2a2a2a" stroke-width="0.07">0.0125</text>
<text transform="matrix(1.0 0.0012 0 1 82.700 198.164)" font-size="2.1" fill="#2a2a2a" text-anchor="middle" textLength="6.12" lengthAdjust="spacingAndGlyphs" stroke="#2a2a2a" stroke-width="0.07">0.0150</text>
<text transform="matrix(1.0 0.0012 0 1 94.650 198.164)" font-size="2.1" fill="#2a2a2a" text-anchor="middle" textLength="6.12" lengthAdjust="spacingAndGlyphs" stroke="#2a2a2a" stroke-width="0.07">0.0175</text>
<text transform="matrix(1.0 0.0012 0 1 106.600 198.164)" font-size="2.1" fill="#2a2a2a" text-anchor="middle" textLength="6.12" lengthAdjust="spacingAndGlyphs" stroke="#2a2a2a" stroke-width="0.07">0.0200</text>
<text transform="matrix(1.0 0.0012 0 1 118.550 198.164)" font-size="2.1" fill="#2a2a2a" text-anchor="middle" textLength="6.12" lengthAdjust="spacingAndGlyphs" stroke="#2a2a2a" stroke-width="0.07">0.0225</text>
<text transform="matrix(1.0 0.0012 0 1 84.000 200.682)" font-size="2.3" fill="#1a1a1a" text-anchor="middle" textLength="10.50" lengthAdjust="spacingAndGlyphs" stroke="#1a1a1a" stroke-width="0.07">GeneRatio</text>
<text transform="matrix(0.85 0.0012 0 1 120.600 148.846)" font-size="1.9" fill="#222" text-anchor="start" stroke="#222" stroke-width="0.07">Count</text>
<circle cx="123.00" cy="151.40" r="0.85" fill="#111"/>
<text transform="matrix(1.0 0.0012 0 1 125.900 151.944)" font-size="1.6" fill="#444" text-anchor="start" stroke="#444" stroke-width="0.07">10</text>
<circle cx="123.00" cy="153.90" r="1.00" fill="#111"/>
<text transform="matrix(1.0 0.0012 0 1 125.900 154.444)" font-size="1.6" fill="#444" text-anchor="start" stroke="#444" stroke-width="0.07">12</text>
<circle cx="123.00" cy="156.90" r="1.10" fill="#111"/>
<text transform="matrix(1.0 0.0012 0 1 125.900 157.444)" font-size="1.6" fill="#444" text-anchor="start" stroke="#444" stroke-width="0.07">14</text>
<circle cx="123.00" cy="160.00" r="1.20" fill="#111"/>
<text transform="matrix(1.0 0.0012 0 1 125.900 160.544)" font-size="1.6" fill="#444" text-anchor="start" stroke="#444" stroke-width="0.07">16</text>
<circle cx="123.00" cy="163.60" r="1.35" fill="#111"/>
<text transform="matrix(1.0 0.0012 0 1 125.900 164.144)" font-size="1.6" fill="#444" text-anchor="start" stroke="#444" stroke-width="0.07">18</text>
<text transform="matrix(0.85 0.0012 0 1 120.600 170.046)" font-size="1.9" fill="#222" text-anchor="start" stroke="#222" stroke-width="0.07">p.adjust</text>
<defs><linearGradient id="g1" x1="0" y1="0" x2="0" y2="1"><stop offset="0%" stop-color="#4c4ca8"/><stop offset="40%" stop-color="#8a44a8"/><stop offset="100%" stop-color="#c21f45"/></linearGradient></defs>
<rect x="120.60" y="170.80" width="2.90" height="15.70" rx="0" fill="url(#g1)"/>
<text transform="matrix(1.0 0.0012 0 1 124.300 172.310)" font-size="1.5" fill="#444" text-anchor="start" textLength="8.60" lengthAdjust="spacingAndGlyphs" stroke="#444" stroke-width="0.07">0.0089</text>
<text transform="matrix(1.0 0.0012 0 1 124.300 175.735)" font-size="1.5" fill="#444" text-anchor="start" textLength="8.60" lengthAdjust="spacingAndGlyphs" stroke="#444" stroke-width="0.07">0.0088</text>
<text transform="matrix(1.0 0.0012 0 1 124.300 179.160)" font-size="1.5" fill="#444" text-anchor="start" textLength="8.60" lengthAdjust="spacingAndGlyphs" stroke="#444" stroke-width="0.07">0.0087</text>
<text transform="matrix(1.0 0.0012 0 1 124.300 182.585)" font-size="1.5" fill="#444" text-anchor="start" textLength="8.60" lengthAdjust="spacingAndGlyphs" stroke="#444" stroke-width="0.07">0.0086</text>
<text transform="matrix(1.0 0.0012 0 1 124.300 186.010)" font-size="1.5" fill="#444" text-anchor="start" textLength="8.60" lengthAdjust="spacingAndGlyphs" stroke="#444" stroke-width="0.07">0.0085</text>
<text transform="matrix(1.0 0.0012 0 1 175.400 20.512)" font-size="1.8" fill="#222" text-anchor="start" font-weight="bold" textLength="2.80" lengthAdjust="spacingAndGlyphs" stroke="#222" stroke-width="0.12">BP</text>
<rect x="175.80" y="22.20" width="19.00" height="4.00" rx="0.5" fill="#4d89cb" stroke="#2e64a6" stroke-width="0.4"/>
<text transform="matrix(1.0 0.0012 0 1 185.300 24.846)" font-size="1.9" fill="#e8f0fa" text-anchor="middle" textLength="13.97" lengthAdjust="spacingAndGlyphs" stroke="#e8f0fa" stroke-width="0.07">Download SVG</text>
<rect x="203.68" y="34.97" width="88.75" height="70.45" rx="0" fill="#fff" stroke="#d4d4d4" stroke-width="0.35"/>
<line x1="207.20" y1="35.00" x2="207.20" y2="105.40" stroke="#e8e8e8" stroke-width="0.3"/>
<line x1="215.90" y1="35.00" x2="215.90" y2="105.40" stroke="#f5f5f5" stroke-width="0.2"/>
<line x1="224.50" y1="35.00" x2="224.50" y2="105.40" stroke="#e8e8e8" stroke-width="0.3"/>
<line x1="232.90" y1="35.00" x2="232.90" y2="105.40" stroke="#f5f5f5" stroke-width="0.2"/>
<line x1="241.30" y1="35.00" x2="241.30" y2="105.40" stroke="#e8e8e8" stroke-width="0.3"/>
<line x1="250.10" y1="35.00" x2="250.10" y2="105.40" stroke="#f5f5f5" stroke-width="0.2"/>
<line x1="259.00" y1="35.00" x2="259.00" y2="105.40" stroke="#e8e8e8" stroke-width="0.3"/>
<line x1="267.60" y1="35.00" x2="267.60" y2="105.40" stroke="#f5f5f5" stroke-width="0.2"/>
<line x1="276.30" y1="35.00" x2="276.30" y2="105.40" stroke="#e8e8e8" stroke-width="0.3"/>
<line x1="285.00" y1="35.00" x2="285.00" y2="105.40" stroke="#f5f5f5" stroke-width="0.2"/>
<line x1="203.70" y1="39.40" x2="292.40" y2="39.40" stroke="#e6e6e6" stroke-width="0.3"/>
<line x1="203.70" y1="46.40" x2="292.40" y2="46.40" stroke="#e6e6e6" stroke-width="0.3"/>
<line x1="203.70" y1="53.40" x2="292.40" y2="53.40" stroke="#e6e6e6" stroke-width="0.3"/>
<line x1="203.70" y1="60.40" x2="292.40" y2="60.40" stroke="#e6e6e6" stroke-width="0.3"/>
<line x1="203.70" y1="67.40" x2="292.40" y2="67.40" stroke="#e6e6e6" stroke-width="0.3"/>
<line x1="203.70" y1="74.40" x2="292.40" y2="74.40" stroke="#e6e6e6" stroke-width="0.3"/>
<line x1="203.70" y1="81.40" x2="292.40" y2="81.40" stroke="#e6e6e6" stroke-width="0.3"/>
<line x1="203.70" y1="88.40" x2="292.40" y2="88.40" stroke="#e6e6e6" stroke-width="0.3"/>
<line x1="203.70" y1="95.40" x2="292.40" y2="95.40" stroke="#e6e6e6" stroke-width="0.3"/>
<line x1="203.70" y1="102.40" x2="292.40" y2="102.40" stroke="#e6e6e6" stroke-width="0.3"/>
<circle cx="288.60" cy="39.40" r="1.55" fill="#c8283f"/>
<circle cx="275.50" cy="46.70" r="1.45" fill="#c8283f"/>
<circle cx="275.50" cy="53.70" r="1.45" fill="#1f438f"/>
<circle cx="275.50" cy="60.60" r="1.45" fill="#1f438f"/>
<circle cx="248.10" cy="67.30" r="1.10" fill="#c8283f"/>
<circle cx="221.30" cy="74.10" r="0.80" fill="#c8283f"/>
<circle cx="207.70" cy="81.40" r="0.55" fill="#8e1d36"/>
<circle cx="207.70" cy="88.40" r="0.55" fill="#8e1d36"/>
<circle cx="207.70" cy="95.30" r="0.55" fill="#8e1d36"/>
<circle cx="207.70" cy="102.20" r="0.55" fill="#8e1d36"/>
<text transform="matrix(1.0 0.0012 0 1 181.900 37.282)" font-size="2.3" fill="#2a2a2a" text-anchor="start" textLength="21.20" lengthAdjust="spacingAndGlyphs" stroke="#2a2a2a" stroke-width="0.04">negative regulation of</text>
<text transform="matrix(1.0 0.0012 0 1 183.300 39.682)" font-size="2.3" fill="#2a2a2a" text-anchor="start" textLength="19.80" lengthAdjust="spacingAndGlyphs" stroke="#2a2a2a" stroke-width="0.04">asymmetrical cell division</text>
<text transform="matrix(1.0 0.0012 0 1 191.100 42.382)" font-size="2.3" fill="#2a2a2a" text-anchor="start" textLength="12.00" lengthAdjust="spacingAndGlyphs" stroke="#2a2a2a" stroke-width="0.04">organization</text>
<text transform="matrix(1.0 0.0012 0 1 186.000 45.582)" font-size="2.3" fill="#2a2a2a" text-anchor="start" textLength="17.10" lengthAdjust="spacingAndGlyphs" stroke="#2a2a2a" stroke-width="0.04">peptidyl-histidine</text>
<text transform="matrix(1.0 0.0012 0 1 192.500 48.282)" font-size="2.3" fill="#2a2a2a" text-anchor="start" textLength="10.60" lengthAdjust="spacingAndGlyphs" stroke="#2a2a2a" stroke-width="0.04">modification</text>
<text transform="matrix(1.0 0.0012 0 1 183.100 52.582)" font-size="2.3" fill="#2a2a2a" text-anchor="start" textLength="20.00" lengthAdjust="spacingAndGlyphs" stroke="#2a2a2a" stroke-width="0.04">regulation of asexual</text>
<text transform="matrix(1.0 0.0012 0 1 191.900 55.182)" font-size="2.3" fill="#2a2a2a" text-anchor="start" textLength="11.20" lengthAdjust="spacingAndGlyphs" stroke="#2a2a2a" stroke-width="0.04">sporulation</text>
<text transform="matrix(1.0 0.0012 0 1 181.300 59.882)" font-size="2.3" fill="#2a2a2a" text-anchor="start" textLength="21.80" lengthAdjust="spacingAndGlyphs" stroke="#2a2a2a" stroke-width="0.04">regulation of conidium</text>
<text transform="matrix(1.0 0.0012 0 1 193.100 62.682)" font-size="2.3" fill="#2a2a2a" text-anchor="start" textLength="10.00" lengthAdjust="spacingAndGlyphs" stroke="#2a2a2a" stroke-width="0.04">formation</text>
<text transform="matrix(1.0 0.0012 0 1 183.100 67.082)" font-size="2.3" fill="#2a2a2a" text-anchor="start" textLength="20.00" lengthAdjust="spacingAndGlyphs" stroke="#2a2a2a" stroke-width="0.04">phosphorelay signal</text>
<text transform="matrix(1.0 0.0012 0 1 183.500 69.282)" font-size="2.3" fill="#2a2a2a" text-anchor="start" textLength="19.60" lengthAdjust="spacingAndGlyphs" stroke="#2a2a2a" stroke-width="0.04">transduction system</text>
<text transform="matrix(1.0 0.0012 0 1 185.900 73.882)" font-size="2.3" fill="#2a2a2a" text-anchor="start" textLength="17.20" lengthAdjust="spacingAndGlyphs" stroke="#2a2a2a" stroke-width="0.04">peptidyl-histidine</text>
<text transform="matrix(1.0 0.0012 0 1 187.500 76.682)" font-size="2.3" fill="#2a2a2a" text-anchor="start" textLength="15.60" lengthAdjust="spacingAndGlyphs" stroke="#2a2a2a" stroke-width="0.04">phosphorylation</text>
<text transform="matrix(1.0 0.0012 0 1 176.600 80.882)" font-size="2.3" fill="#2a2a2a" text-anchor="start" textLength="26.50" lengthAdjust="spacingAndGlyphs" stroke="#2a2a2a" stroke-width="0.04">phenylpropanoid metabolic</text>
<text transform="matrix(1.0 0.0012 0 1 195.400 83.782)" font-size="2.3" fill="#2a2a2a" text-anchor="start" textLength="7.70" lengthAdjust="spacingAndGlyphs" stroke="#2a2a2a" stroke-width="0.04">process</text>
<text transform="matrix(1.0 0.0012 0 1 179.600 87.882)" font-size="2.3" fill="#2a2a2a" text-anchor="start" textLength="23.50" lengthAdjust="spacingAndGlyphs" stroke="#2a2a2a" stroke-width="0.04">aromatic acid metabolic</text>
<text transform="matrix(1.0 0.0012 0 1 195.400 90.982)" font-size="2.3" fill="#2a2a2a" text-anchor="start" textLength="7.70" lengthAdjust="spacingAndGlyphs" stroke="#2a2a2a" stroke-width="0.04">process</text>
<text transform="matrix(1.0 0.0012 0 1 177.200 94.782)" font-size="2.3" fill="#2a2a2a" text-anchor="start" textLength="25.90" lengthAdjust="spacingAndGlyphs" stroke="#2a2a2a" stroke-width="0.04">phenylpropanoid catabolic</text>
<text transform="matrix(1.0 0.0012 0 1 195.400 97.782)" font-size="2.3" fill="#2a2a2a" text-anchor="start" textLength="7.70" lengthAdjust="spacingAndGlyphs" stroke="#2a2a2a" stroke-width="0.04">process</text>
<text transform="matrix(1.0 0.0012 0 1 179.600 101.482)" font-size="2.3" fill="#2a2a2a" text-anchor="start" textLength="23.50" lengthAdjust="spacingAndGlyphs" stroke="#2a2a2a" stroke-width="0.04">aromatic acid catabolic</text>
<text transform="matrix(1.0 0.0012 0 1 195.400 104.382)" font-size="2.3" fill="#2a2a2a" text-anchor="start" textLength="7.70" lengthAdjust="spacingAndGlyphs" stroke="#2a2a2a" stroke-width="0.04">process</text>
<text transform="matrix(1.0 0.0012 0 1 207.200 108.664)" font-size="2.1" fill="#2a2a2a" text-anchor="middle" textLength="5.10" lengthAdjust="spacingAndGlyphs" stroke="#2a2a2a" stroke-width="0.07">0.014</text>
<text transform="matrix(1.0 0.0012 0 1 224.500 108.664)" font-size="2.1" fill="#2a2a2a" text-anchor="middle" textLength="5.10" lengthAdjust="spacingAndGlyphs" stroke="#2a2a2a" stroke-width="0.07">0.016</text>
<text transform="matrix(1.0 0.0012 0 1 241.300 108.664)" font-size="2.1" fill="#2a2a2a" text-anchor="middle" textLength="5.10" lengthAdjust="spacingAndGlyphs" stroke="#2a2a2a" stroke-width="0.07">0.018</text>
<text transform="matrix(1.0 0.0012 0 1 259.000 108.664)" font-size="2.1" fill="#2a2a2a" text-anchor="middle" textLength="5.10" lengthAdjust="spacingAndGlyphs" stroke="#2a2a2a" stroke-width="0.07">0.020</text>
<text transform="matrix(1.0 0.0012 0 1 276.300 108.664)" font-size="2.1" fill="#2a2a2a" text-anchor="middle" textLength="5.10" lengthAdjust="spacingAndGlyphs" stroke="#2a2a2a" stroke-width="0.07">0.022</text>
<text transform="matrix(1.0 0.0012 0 1 248.050 112.082)" font-size="2.3" fill="#1a1a1a" text-anchor="middle" textLength="10.50" lengthAdjust="spacingAndGlyphs" stroke="#1a1a1a" stroke-width="0.07">GeneRatio</text>
<text transform="matrix(0.85 0.0012 0 1 296.200 46.546)" font-size="1.9" fill="#222" text-anchor="start" stroke="#222" stroke-width="0.07">Count</text>
<circle cx="298.60" cy="49.00" r="0.50" fill="#111"/>
<text transform="matrix(1.0 0.0012 0 1 301.900 49.544)" font-size="1.6" fill="#444" text-anchor="start" stroke="#444" stroke-width="0.07">1</text>
<circle cx="298.60" cy="52.20" r="0.70" fill="#111"/>
<text transform="matrix(1.0 0.0012 0 1 301.900 52.744)" font-size="1.6" fill="#444" text-anchor="start" stroke="#444" stroke-width="0.07">2</text>
<circle cx="298.60" cy="55.80" r="0.90" fill="#111"/>
<text transform="matrix(1.0 0.0012 0 1 301.900 56.344)" font-size="1.6" fill="#444" text-anchor="start" stroke="#444" stroke-width="0.07">3</text>
<circle cx="298.60" cy="59.20" r="1.05" fill="#111"/>
<text transform="matrix(1.0 0.0012 0 1 301.900 59.744)" font-size="1.6" fill="#444" text-anchor="start" stroke="#444" stroke-width="0.07">4</text>
<circle cx="298.60" cy="62.80" r="1.20" fill="#111"/>
<text transform="matrix(1.0 0.0012 0 1 301.900 63.344)" font-size="1.6" fill="#444" text-anchor="start" stroke="#444" stroke-width="0.07">5</text>
<circle cx="298.60" cy="66.40" r="1.35" fill="#111"/>
<text transform="matrix(1.0 0.0012 0 1 301.900 66.944)" font-size="1.6" fill="#444" text-anchor="start" stroke="#444" stroke-width="0.07">6</text>
<circle cx="298.60" cy="70.40" r="1.55" fill="#111"/>
<text transform="matrix(1.0 0.0012 0 1 301.900 70.944)" font-size="1.6" fill="#444" text-anchor="start" stroke="#444" stroke-width="0.07">7</text>
<text transform="matrix(0.85 0.0012 0 1 296.200 78.746)" font-size="1.9" fill="#222" text-anchor="start" stroke="#222" stroke-width="0.07">p.adjust</text>
<defs><linearGradient id="g2" x1="0" y1="0" x2="0" y2="1"><stop offset="0%" stop-color="#5656b4"/><stop offset="40%" stop-color="#8a44a8"/><stop offset="100%" stop-color="#e8205a"/></linearGradient></defs>
<rect x="296.20" y="79.90" width="3.30" height="17.10" rx="0" fill="url(#g2)"/>
<text transform="matrix(1.0 0.0012 0 1 300.300 81.410)" font-size="1.5" fill="#444" text-anchor="start" textLength="4.40" lengthAdjust="spacingAndGlyphs" stroke="#444" stroke-width="0.07">0.0089</text>
<text transform="matrix(1.0 0.0012 0 1 300.300 85.185)" font-size="1.5" fill="#444" text-anchor="start" textLength="4.40" lengthAdjust="spacingAndGlyphs" stroke="#444" stroke-width="0.07">0.0088</text>
<text transform="matrix(1.0 0.0012 0 1 300.300 88.960)" font-size="1.5" fill="#444" text-anchor="start" textLength="4.40" lengthAdjust="spacingAndGlyphs" stroke="#444" stroke-width="0.07">0.0087</text>
<text transform="matrix(1.0 0.0012 0 1 300.300 92.735)" font-size="1.5" fill="#444" text-anchor="start" textLength="4.40" lengthAdjust="spacingAndGlyphs" stroke="#444" stroke-width="0.07">0.0086</text>
<text transform="matrix(1.0 0.0012 0 1 300.300 96.510)" font-size="1.5" fill="#444" text-anchor="start" textLength="4.40" lengthAdjust="spacingAndGlyphs" stroke="#444" stroke-width="0.07">0.0085</text>
<text transform="matrix(1.0 0.0012 0 1 175.200 120.812)" font-size="1.8" fill="#222" text-anchor="start" font-weight="bold" textLength="2.90" lengthAdjust="spacingAndGlyphs" stroke="#222" stroke-width="0.12">CC</text>
<rect x="175.50" y="122.70" width="19.30" height="3.80" rx="0.5" fill="#4d89cb" stroke="#2e64a6" stroke-width="0.4"/>
<text transform="matrix(1.0 0.0012 0 1 185.150 125.246)" font-size="1.9" fill="#e8f0fa" text-anchor="middle" textLength="14.18" lengthAdjust="spacingAndGlyphs" stroke="#e8f0fa" stroke-width="0.07">Download SVG</text>
<rect x="191.78" y="135.48" width="98.45" height="69.25" rx="0" fill="#fff" stroke="#d4d4d4" stroke-width="0.35"/>
<line x1="193.30" y1="135.50" x2="193.30" y2="204.70" stroke="#e8e8e8" stroke-width="0.3"/>
<line x1="210.30" y1="135.50" x2="210.30" y2="204.70" stroke="#f5f5f5" stroke-width="0.2"/>
<line x1="227.40" y1="135.50" x2="227.40" y2="204.70" stroke="#e8e8e8" stroke-width="0.3"/>
<line x1="244.80" y1="135.50" x2="244.80" y2="204.70" stroke="#f5f5f5" stroke-width="0.2"/>
<line x1="262.20" y1="135.50" x2="262.20" y2="204.70" stroke="#e8e8e8" stroke-width="0.3"/>
<line x1="279.60" y1="135.50" x2="279.60" y2="204.70" stroke="#f5f5f5" stroke-width="0.2"/>
<line x1="191.80" y1="155.00" x2="290.20" y2="155.00" stroke="#e6e6e6" stroke-width="0.3"/>
<line x1="191.80" y1="186.70" x2="290.20" y2="186.70" stroke="#e6e6e6" stroke-width="0.3"/>
<circle cx="285.80" cy="155.00" r="1.80" fill="#c8283f"/>
<circle cx="196.60" cy="186.70" r="0.45" fill="#222"/>
<text transform="matrix(1.0 0.0012 0 1 178.900 155.682)" font-size="2.3" fill="#2a2a2a" text-anchor="start" textLength="12.50" lengthAdjust="spacingAndGlyphs" stroke="#2a2a2a" stroke-width="0.04">perithecium</text>
<text transform="matrix(1.0 0.0012 0 1 176.500 187.282)" font-size="2.3" fill="#2a2a2a" text-anchor="start" textLength="14.90" lengthAdjust="spacingAndGlyphs" stroke="#2a2a2a" stroke-width="0.04">hyphal cell wall</text>
<text transform="matrix(1.0 0.0012 0 1 193.300 207.964)" font-size="2.1" fill="#2a2a2a" text-anchor="middle" textLength="4.08" lengthAdjust="spacingAndGlyphs" stroke="#2a2a2a" stroke-width="0.07">0.00</text>
<text transform="matrix(1.0 0.0012 0 1 227.400 207.964)" font-size="2.1" fill="#2a2a2a" text-anchor="middle" textLength="4.08" lengthAdjust="spacingAndGlyphs" stroke="#2a2a2a" stroke-width="0.07">0.25</text>
<text transform="matrix(1.0 0.0012 0 1 262.200 207.964)" font-size="2.1" fill="#2a2a2a" text-anchor="middle" textLength="4.08" lengthAdjust="spacingAndGlyphs" stroke="#2a2a2a" stroke-width="0.07">0.50</text>
<text transform="matrix(1.0 0.0012 0 1 241.000 210.382)" font-size="2.3" fill="#1a1a1a" text-anchor="middle" textLength="10.50" lengthAdjust="spacingAndGlyphs" stroke="#1a1a1a" stroke-width="0.07">GeneRatio</text>
<text transform="matrix(0.85 0.0012 0 1 293.600 153.646)" font-size="1.9" fill="#222" text-anchor="start" stroke="#222" stroke-width="0.07">Count</text>
<circle cx="295.50" cy="156.60" r="1.00" fill="#111"/>
<text transform="matrix(1.0 0.0012 0 1 298.800 157.144)" font-size="1.6" fill="#444" text-anchor="start" stroke="#444" stroke-width="0.07">10</text>
<circle cx="295.50" cy="160.10" r="1.20" fill="#111"/>
<text transform="matrix(1.0 0.0012 0 1 298.800 160.644)" font-size="1.6" fill="#444" text-anchor="start" stroke="#444" stroke-width="0.07">15</text>
<circle cx="295.50" cy="164.10" r="1.40" fill="#111"/>
<text transform="matrix(1.0 0.0012 0 1 298.800 164.644)" font-size="1.6" fill="#444" text-anchor="start" stroke="#444" stroke-width="0.07">20</text>
<text transform="matrix(0.85 0.0012 0 1 293.600 171.946)" font-size="1.9" fill="#222" text-anchor="start" stroke="#222" stroke-width="0.07">p.adjust</text>
<defs><linearGradient id="g3" x1="0" y1="0" x2="0" y2="1"><stop offset="0%" stop-color="#5656b4"/><stop offset="40%" stop-color="#8a44a8"/><stop offset="100%" stop-color="#e8205a"/></linearGradient></defs>
<rect x="293.60" y="172.90" width="2.70" height="15.90" rx="0" fill="url(#g3)"/>
<text transform="matrix(1.0 0.0012 0 1 297.100 174.410)" font-size="1.5" fill="#444" text-anchor="start" textLength="4.40" lengthAdjust="spacingAndGlyphs" stroke="#444" stroke-width="0.07">0.0089</text>
<text transform="matrix(1.0 0.0012 0 1 297.100 177.885)" font-size="1.5" fill="#444" text-anchor="start" textLength="4.40" lengthAdjust="spacingAndGlyphs" stroke="#444" stroke-width="0.07">0.0088</text>
<text transform="matrix(1.0 0.0012 0 1 297.100 181.360)" font-size="1.5" fill="#444" text-anchor="start" textLength="4.40" lengthAdjust="spacingAndGlyphs" stroke="#444" stroke-width="0.07">0.0087</text>
<text transform="matrix(1.0 0.0012 0 1 297.100 184.835)" font-size="1.5" fill="#444" text-anchor="start" textLength="4.40" lengthAdjust="spacingAndGlyphs" stroke="#444" stroke-width="0.07">0.0086</text>
<text transform="matrix(1.0 0.0012 0 1 297.100 188.310)" font-size="1.5" fill="#444" text-anchor="start" textLength="4.40" lengthAdjust="spacingAndGlyphs" stroke="#444" stroke-width="0.07">0.0085</text>
<text transform="matrix(1.0 0.0012 0 1 175.400 218.912)" font-size="1.8" fill="#222" text-anchor="start" font-weight="bold" textLength="2.90" lengthAdjust="spacingAndGlyphs" stroke="#222" stroke-width="0.12">MF</text>
<rect x="175.80" y="221.20" width="18.80" height="3.50" rx="0.5" fill="#4d89cb" stroke="#2e64a6" stroke-width="0.4"/>
<text transform="matrix(1.0 0.0012 0 1 185.200 223.596)" font-size="1.9" fill="#e8f0fa" text-anchor="middle" textLength="13.82" lengthAdjust="spacingAndGlyphs" stroke="#e8f0fa" stroke-width="0.07">Download SVG</text>
<rect x="206.58" y="233.38" width="85.45" height="68.55" rx="0" fill="#fff" stroke="#d4d4d4" stroke-width="0.35"/>
<line x1="215.30" y1="233.40" x2="215.30" y2="301.90" stroke="#e8e8e8" stroke-width="0.3"/>
<line x1="225.50" y1="233.40" x2="225.50" y2="301.90" stroke="#f5f5f5" stroke-width="0.2"/>
<line x1="235.60" y1="233.40" x2="235.60" y2="301.90" stroke="#e8e8e8" stroke-width="0.3"/>
<line x1="245.70" y1="233.40" x2="245.70" y2="301.90" stroke="#f5f5f5" stroke-width="0.2"/>
<line x1="255.80" y1="233.40" x2="255.80" y2="301.90" stroke="#e8e8e8" stroke-width="0.3"/>
<line x1="265.90" y1="233.40" x2="265.90" y2="301.90" stroke="#f5f5f5" stroke-width="0.2"/>
<line x1="276.00" y1="233.40" x2="276.00" y2="301.90" stroke="#e8e8e8" stroke-width="0.3"/>
<line x1="286.10" y1="233.40" x2="286.10" y2="301.90" stroke="#f5f5f5" stroke-width="0.2"/>
<line x1="206.60" y1="239.10" x2="292.00" y2="239.10" stroke="#e6e6e6" stroke-width="0.3"/>
<line x1="206.60" y1="248.70" x2="292.00" y2="248.70" stroke="#e6e6e6" stroke-width="0.3"/>
<line x1="206.60" y1="258.30" x2="292.00" y2="258.30" stroke="#e6e6e6" stroke-width="0.3"/>
<line x1="206.60" y1="267.90" x2="292.00" y2="267.90" stroke="#e6e6e6" stroke-width="0.3"/>
<line x1="206.60" y1="277.50" x2="292.00" y2="277.50" stroke="#e6e6e6" stroke-width="0.3"/>
<line x1="206.60" y1="287.10" x2="292.00" y2="287.10" stroke="#e6e6e6" stroke-width="0.3"/>
<line x1="206.60" y1="296.70" x2="292.00" y2="296.70" stroke="#e6e6e6" stroke-width="0.3"/>
<circle cx="288.10" cy="239.10" r="1.65" fill="#1f438f"/>
<circle cx="221.30" cy="249.00" r="1.00" fill="#c8283f"/>
<circle cx="221.30" cy="258.70" r="1.00" fill="#1f438f"/>
<circle cx="217.30" cy="268.30" r="0.85" fill="#c8283f"/>
<circle cx="210.30" cy="277.90" r="0.55" fill="#8e1d36"/>
<circle cx="210.30" cy="287.30" r="0.55" fill="#8e1d36"/>
<circle cx="210.30" cy="296.90" r="0.55" fill="#8e1d36"/>
<text transform="matrix(1.0 0.0012 0 1 193.200 240.182)" font-size="2.3" fill="#2a2a2a" text-anchor="start" textLength="12.30" lengthAdjust="spacingAndGlyphs" stroke="#2a2a2a" stroke-width="0.04">lyase activity</text>
<text transform="matrix(1.0 0.0012 0 1 185.000 249.782)" font-size="2.3" fill="#2a2a2a" text-anchor="start" textLength="20.50" lengthAdjust="spacingAndGlyphs" stroke="#2a2a2a" stroke-width="0.04">sulfuric ester hydrolase activity</text>
<text transform="matrix(1.0 0.0012 0 1 193.600 259.282)" font-size="2.3" fill="#2a2a2a" text-anchor="start" textLength="11.90" lengthAdjust="spacingAndGlyphs" stroke="#2a2a2a" stroke-width="0.04">heme binding</text>
<text transform="matrix(1.0 0.0012 0 1 178.700 268.782)" font-size="2.3" fill="#2a2a2a" text-anchor="start" textLength="26.80" lengthAdjust="spacingAndGlyphs" stroke="#2a2a2a" stroke-width="0.04">molecular transducer activity</text>
<text transform="matrix(1.0 0.0012 0 1 183.200 277.682)" font-size="2.3" fill="#2a2a2a" text-anchor="start" textLength="22.30" lengthAdjust="spacingAndGlyphs" stroke="#2a2a2a" stroke-width="0.04">phosphorelay response</text>
<text transform="matrix(1.0 0.0012 0 1 190.400 280.182)" font-size="2.3" fill="#2a2a2a" text-anchor="start" textLength="15.10" lengthAdjust="spacingAndGlyphs" stroke="#2a2a2a" stroke-width="0.04">regulator activity</text>
<text transform="matrix(1.0 0.0012 0 1 184.000 286.882)" font-size="2.3" fill="#2a2a2a" text-anchor="start" textLength="21.50" lengthAdjust="spacingAndGlyphs" stroke="#2a2a2a" stroke-width="0.04">protein histidine kinase</text>
<text transform="matrix(1.0 0.0012 0 1 199.000 289.682)" font-size="2.3" fill="#2a2a2a" text-anchor="start" textLength="6.50" lengthAdjust="spacingAndGlyphs" stroke="#2a2a2a" stroke-width="0.04">activity</text>
<text transform="matrix(1.0 0.0012 0 1 179.700 296.282)" font-size="2.3" fill="#2a2a2a" text-anchor="start" textLength="25.80" lengthAdjust="spacingAndGlyphs" stroke="#2a2a2a" stroke-width="0.04">phosphotransferase activity,</text>
<text transform="matrix(1.0 0.0012 0 1 177.100 298.882)" font-size="2.3" fill="#2a2a2a" text-anchor="start" textLength="28.40" lengthAdjust="spacingAndGlyphs" stroke="#2a2a2a" stroke-width="0.04">nitrogenous group as acceptor</text>
<text transform="matrix(1.0 0.0012 0 1 215.300 305.164)" font-size="2.1" fill="#2a2a2a" text-anchor="middle" textLength="5.10" lengthAdjust="spacingAndGlyphs" stroke="#2a2a2a" stroke-width="0.07">0.050</text>
<text transform="matrix(1.0 0.0012 0 1 235.600 305.164)" font-size="2.1" fill="#2a2a2a" text-anchor="middle" textLength="5.10" lengthAdjust="spacingAndGlyphs" stroke="#2a2a2a" stroke-width="0.07">0.075</text>
<text transform="matrix(1.0 0.0012 0 1 255.800 305.164)" font-size="2.1" fill="#2a2a2a" text-anchor="middle" textLength="5.10" lengthAdjust="spacingAndGlyphs" stroke="#2a2a2a" stroke-width="0.07">0.100</text>
<text transform="matrix(1.0 0.0012 0 1 276.000 305.164)" font-size="2.1" fill="#2a2a2a" text-anchor="middle" textLength="5.10" lengthAdjust="spacingAndGlyphs" stroke="#2a2a2a" stroke-width="0.07">0.125</text>
<text transform="matrix(1.0 0.0012 0 1 249.300 307.982)" font-size="2.3" fill="#1a1a1a" text-anchor="middle" textLength="10.50" lengthAdjust="spacingAndGlyphs" stroke="#1a1a1a" stroke-width="0.07">GeneRatio</text>
<text transform="matrix(0.85 0.0012 0 1 295.200 247.846)" font-size="1.9" fill="#222" text-anchor="start" stroke="#222" stroke-width="0.07">Count</text>
<circle cx="296.60" cy="250.70" r="0.60" fill="#111"/>
<text transform="matrix(1.0 0.0012 0 1 300.400 251.244)" font-size="1.6" fill="#444" text-anchor="start" stroke="#444" stroke-width="0.07">1</text>
<circle cx="296.60" cy="253.80" r="0.80" fill="#111"/>
<text transform="matrix(1.0 0.0012 0 1 300.400 254.344)" font-size="1.6" fill="#444" text-anchor="start" stroke="#444" stroke-width="0.07">2</text>
<circle cx="296.60" cy="257.20" r="1.00" fill="#111"/>
<text transform="matrix(1.0 0.0012 0 1 300.400 257.744)" font-size="1.6" fill="#444" text-anchor="start" stroke="#444" stroke-width="0.07">3</text>
<circle cx="296.60" cy="260.70" r="1.15" fill="#111"/>
<text transform="matrix(1.0 0.0012 0 1 300.400 261.244)" font-size="1.6" fill="#444" text-anchor="start" stroke="#444" stroke-width="0.07">4</text>
<circle cx="296.60" cy="265.00" r="1.35" fill="#111"/>
<text transform="matrix(1.0 0.0012 0 1 300.400 265.544)" font-size="1.6" fill="#444" text-anchor="start" stroke="#444" stroke-width="0.07">5</text>
<text transform="matrix(0.85 0.0012 0 1 295.200 272.446)" font-size="1.9" fill="#222" text-anchor="start" stroke="#222" stroke-width="0.07">p.adjust</text>
<defs><linearGradient id="g4" x1="0" y1="0" x2="0" y2="1"><stop offset="0%" stop-color="#5656b4"/><stop offset="40%" stop-color="#8a44a8"/><stop offset="100%" stop-color="#e8205a"/></linearGradient></defs>
<rect x="295.20" y="273.60" width="2.80" height="16.30" rx="0" fill="url(#g4)"/>
<text transform="matrix(1.0 0.0012 0 1 298.800 275.110)" font-size="1.5" fill="#444" text-anchor="start" textLength="4.00" lengthAdjust="spacingAndGlyphs" stroke="#444" stroke-width="0.07">0.0089</text>
<text transform="matrix(1.0 0.0012 0 1 298.800 278.685)" font-size="1.5" fill="#444" text-anchor="start" textLength="4.00" lengthAdjust="spacingAndGlyphs" stroke="#444" stroke-width="0.07">0.0088</text>
<text transform="matrix(1.0 0.0012 0 1 298.800 282.260)" font-size="1.5" fill="#444" text-anchor="start" textLength="4.00" lengthAdjust="spacingAndGlyphs" stroke="#444" stroke-width="0.07">0.0087</text>
<text transform="matrix(1.0 0.0012 0 1 298.800 285.835)" font-size="1.5" fill="#444" text-anchor="start" textLength="4.00" lengthAdjust="spacingAndGlyphs" stroke="#444" stroke-width="0.07">0.0086</text>
<text transform="matrix(1.0 0.0012 0 1 298.800 289.410)" font-size="1.5" fill="#444" text-anchor="start" textLength="4.00" lengthAdjust="spacingAndGlyphs" stroke="#444" stroke-width="0.07">0.0085</text>
<text transform="matrix(1.0 0.0012 0 1 339.600 27.835)" font-size="2.75" fill="#1a1a1a" text-anchor="start" font-weight="bold" textLength="72.40" lengthAdjust="spacingAndGlyphs" stroke="#1a1a1a" stroke-width="0.03">Please choose the genome you want to align to Fol4287:</text>
<circle cx="341.50" cy="33.80" r="1.05" fill="#fff" stroke="#c4c4c4" stroke-width="0.3"/>
<text transform="matrix(1.0 0.0012 0 1 344.300 34.701)" font-size="2.65" fill="#505050" text-anchor="start" textLength="51.40" lengthAdjust="spacingAndGlyphs" stroke="#505050" stroke-width="0.04">Fusarium oxysporum f. sp. cepae FoC Fus2</text>
<circle cx="433.90" cy="33.80" r="1.05" fill="#fff" stroke="#c4c4c4" stroke-width="0.3"/>
<text transform="matrix(1.0 0.0012 0 1 436.700 34.701)" font-size="2.65" fill="#505050" text-anchor="start" textLength="32.20" lengthAdjust="spacingAndGlyphs" stroke="#505050" stroke-width="0.04">Fusarium oxysporum Fo47</text>
<circle cx="341.50" cy="39.66" r="1.05" fill="#fff" stroke="#c4c4c4" stroke-width="0.3"/>
<text transform="matrix(1.0 0.0012 0 1 344.300 40.561)" font-size="2.65" fill="#505050" text-anchor="start" textLength="51.40" lengthAdjust="spacingAndGlyphs" stroke="#505050" stroke-width="0.04">Fusarium oxysporum f. sp. cubense Foc1-B1</text>
<circle cx="433.90" cy="39.66" r="1.05" fill="#fff" stroke="#c4c4c4" stroke-width="0.3"/>
<text transform="matrix(1.0 0.0012 0 1 436.700 40.561)" font-size="2.65" fill="#505050" text-anchor="start" textLength="58.20" lengthAdjust="spacingAndGlyphs" stroke="#505050" stroke-width="0.04">Fusarium oxysporum f. sp. conglutinans Cong1-1</text>
<circle cx="341.50" cy="45.52" r="1.05" fill="#fff" stroke="#c4c4c4" stroke-width="0.3"/>
<text transform="matrix(1.0 0.0012 0 1 344.300 46.421)" font-size="2.65" fill="#505050" text-anchor="start" textLength="61.00" lengthAdjust="spacingAndGlyphs" stroke="#505050" stroke-width="0.04">Fusarium oxysporum f. sp. basilici Arnhem4 23 v1.0</text>
<circle cx="433.90" cy="45.52" r="1.05" fill="#fff" stroke="#c4c4c4" stroke-width="0.3"/>
<circle cx="433.90" cy="45.52" r="0.75" fill="#333"/>
<text transform="matrix(1.0 0.0012 0 1 436.700 46.421)" font-size="2.65" fill="#505050" text-anchor="start" textLength="47.80" lengthAdjust="spacingAndGlyphs" stroke="#505050" stroke-width="0.04">Fusarium oxysporum f. sp. pisi F79 v1.0</text>
<circle cx="341.50" cy="51.38" r="1.05" fill="#fff" stroke="#c4c4c4" stroke-width="0.3"/>
<text transform="matrix(1.0 0.0012 0 1 344.300 52.281)" font-size="2.65" fill="#505050" text-anchor="start" textLength="48.50" lengthAdjust="spacingAndGlyphs" stroke="#505050" stroke-width="0.04">Fusarium oxysporum f. sp. pisi F-03 v1.0</text>
<circle cx="433.90" cy="51.38" r="1.05" fill="#fff" stroke="#c4c4c4" stroke-width="0.3"/>
<text transform="matrix(1.0 0.0012 0 1 436.700 52.281)" font-size="2.65" fill="#505050" text-anchor="start" textLength="59.90" lengthAdjust="spacingAndGlyphs" stroke="#505050" stroke-width="0.04">Fusarium oxysporum f. sp. albedinis 9 isolate 9 v1.0</text>
<circle cx="341.50" cy="57.24" r="1.05" fill="#fff" stroke="#c4c4c4" stroke-width="0.3"/>
<text transform="matrix(1.0 0.0012 0 1 344.300 58.141)" font-size="2.65" fill="#505050" text-anchor="start" textLength="55.60" lengthAdjust="spacingAndGlyphs" stroke="#505050" stroke-width="0.04">Fusarium oxysporum f. sp. matthiolae PHW726</text>
<circle cx="433.90" cy="57.24" r="1.05" fill="#fff" stroke="#c4c4c4" stroke-width="0.3"/>
<text transform="matrix(1.0 0.0012 0 1 436.700 58.141)" font-size="2.65" fill="#505050" text-anchor="start" textLength="38.60" lengthAdjust="spacingAndGlyphs" stroke="#505050" stroke-width="0.04">Fusarium oxysporum f2-08 v1.0</text>
<circle cx="341.50" cy="63.10" r="1.05" fill="#fff" stroke="#c4c4c4" stroke-width="0.3"/>
<text transform="matrix(1.0 0.0012 0 1 344.300 64.001)" font-size="2.65" fill="#505050" text-anchor="start" textLength="38.30" lengthAdjust="spacingAndGlyphs" stroke="#505050" stroke-width="0.04">Fusarium oxysporum f2-07 v1.0</text>
<circle cx="433.90" cy="63.10" r="1.05" fill="#fff" stroke="#c4c4c4" stroke-width="0.3"/>
<text transform="matrix(1.0 0.0012 0 1 436.700 64.001)" font-size="2.65" fill="#505050" text-anchor="start" textLength="38.60" lengthAdjust="spacingAndGlyphs" stroke="#505050" stroke-width="0.04">Fusarium oxysporum f2-06 v1.0</text>
<circle cx="341.50" cy="68.96" r="1.05" fill="#fff" stroke="#c4c4c4" stroke-width="0.3"/>
<text transform="matrix(1.0 0.0012 0 1 344.300 69.861)" font-size="2.65" fill="#505050" text-anchor="start" textLength="39.50" lengthAdjust="spacingAndGlyphs" stroke="#505050" stroke-width="0.04">Fusarium oxysporum FoS 36 v1.0</text>
<circle cx="433.90" cy="68.96" r="1.05" fill="#fff" stroke="#c4c4c4" stroke-width="0.3"/>
<text transform="matrix(1.0 0.0012 0 1 436.700 69.861)" font-size="2.65" fill="#505050" text-anchor="start" textLength="38.60" lengthAdjust="spacingAndGlyphs" stroke="#505050" stroke-width="0.04">Fusarium oxysporum f2-61 v1.0</text>
<circle cx="341.50" cy="74.82" r="1.05" fill="#fff" stroke="#c4c4c4" stroke-width="0.3"/>
<text transform="matrix(1.0 0.0012 0 1 344.300 75.721)" font-size="2.65" fill="#505050" text-anchor="start" textLength="55.20" lengthAdjust="spacingAndGlyphs" stroke="#505050" stroke-width="0.04">Fusarium oxysporum MPI-CAGE-CH-0212 v1.0</text>
<circle cx="433.90" cy="74.82" r="1.05" fill="#fff" stroke="#c4c4c4" stroke-width="0.3"/>
<text transform="matrix(1.0 0.0012 0 1 436.700 75.721)" font-size="2.65" fill="#505050" text-anchor="start" textLength="53.90" lengthAdjust="spacingAndGlyphs" stroke="#505050" stroke-width="0.04">Fusarium oxysporum f. sp. narcissi FON 3 v1.0</text>
<circle cx="341.50" cy="80.68" r="1.05" fill="#fff" stroke="#c4c4c4" stroke-width="0.3"/>
<text transform="matrix(1.0 0.0012 0 1 344.300 81.581)" font-size="2.65" fill="#505050" text-anchor="start" textLength="53.30" lengthAdjust="spacingAndGlyphs" stroke="#505050" stroke-width="0.04">Fusarium oxysporum f. sp. raphani 54005 Foc</text>
<circle cx="433.90" cy="80.68" r="1.05" fill="#fff" stroke="#c4c4c4" stroke-width="0.3"/>
<text transform="matrix(1.0 0.0012 0 1 436.700 81.581)" font-size="2.65" fill="#505050" text-anchor="start" textLength="57.70" lengthAdjust="spacingAndGlyphs" stroke="#505050" stroke-width="0.04">Fusarium oxysporum f. sp. vasinfectum TF1176</text>
<circle cx="341.50" cy="86.54" r="1.05" fill="#fff" stroke="#c4c4c4" stroke-width="0.3"/>
<text transform="matrix(1.0 0.0012 0 1 344.300 87.441)" font-size="2.65" fill="#505050" text-anchor="start" textLength="67.70" lengthAdjust="spacingAndGlyphs" stroke="#505050" stroke-width="0.04">Fusarium oxysporum f. sp. radicis-cucumerinum Forc016</text>
<circle cx="433.90" cy="86.54" r="1.05" fill="#fff" stroke="#c4c4c4" stroke-width="0.3"/>
<text transform="matrix(1.0 0.0012 0 1 436.700 87.441)" font-size="2.65" fill="#505050" text-anchor="start" textLength="54.70" lengthAdjust="spacingAndGlyphs" stroke="#505050" stroke-width="0.04">Fusarium oxysporum f. sp. cubense TR4 58</text>
<circle cx="341.50" cy="92.40" r="1.05" fill="#fff" stroke="#c4c4c4" stroke-width="0.3"/>
<text transform="matrix(1.0 0.0012 0 1 344.300 93.301)" font-size="2.65" fill="#505050" text-anchor="start" textLength="60.00" lengthAdjust="spacingAndGlyphs" stroke="#505050" stroke-width="0.04">Fusarium oxysporum f. sp. basilici Arnhem4 22 v1.0</text>
<circle cx="433.90" cy="92.40" r="1.05" fill="#fff" stroke="#c4c4c4" stroke-width="0.3"/>
<text transform="matrix(1.0 0.0012 0 1 436.700 93.301)" font-size="2.65" fill="#505050" text-anchor="start" textLength="47.30" lengthAdjust="spacingAndGlyphs" stroke="#505050" stroke-width="0.04">Fusarium oxysporum f. sp. pisi F23 v1.0</text>
<circle cx="341.50" cy="98.26" r="1.05" fill="#fff" stroke="#c4c4c4" stroke-width="0.3"/>
<text transform="matrix(1.0 0.0012 0 1 344.300 99.161)" font-size="2.65" fill="#505050" text-anchor="start" textLength="48.50" lengthAdjust="spacingAndGlyphs" stroke="#505050" stroke-width="0.04">Fusarium oxysporum f. sp. pisi F-09 v1.0</text>
<circle cx="433.90" cy="98.26" r="1.05" fill="#fff" stroke="#c4c4c4" stroke-width="0.3"/>
<text transform="matrix(1.0 0.0012 0 1 436.700 99.161)" font-size="2.65" fill="#505050" text-anchor="start" textLength="51.30" lengthAdjust="spacingAndGlyphs" stroke="#505050" stroke-width="0.04">Fusarium oxysporum f. sp. cubense 16 v1.0</text>
<circle cx="341.50" cy="104.12" r="1.05" fill="#fff" stroke="#c4c4c4" stroke-width="0.3"/>
<text transform="matrix(1.0 0.0012 0 1 344.300 105.021)" font-size="2.65" fill="#505050" text-anchor="start" textLength="45.60" lengthAdjust="spacingAndGlyphs" stroke="#505050" stroke-width="0.04">Fusarium oxysporum NRRL 26365 strain</text>
<circle cx="433.90" cy="104.12" r="1.05" fill="#fff" stroke="#c4c4c4" stroke-width="0.3"/>
<text transform="matrix(1.0 0.0012 0 1 436.700 105.021)" font-size="2.65" fill="#505050" text-anchor="start" textLength="47.30" lengthAdjust="spacingAndGlyphs" stroke="#505050" stroke-width="0.04">Fusarium oxysporum NRRL26406 v1.0</text>
<circle cx="341.50" cy="109.98" r="1.05" fill="#fff" stroke="#c4c4c4" stroke-width="0.3"/>
<text transform="matrix(1.0 0.0012 0 1 344.300 110.881)" font-size="2.65" fill="#505050" text-anchor="start" textLength="39.50" lengthAdjust="spacingAndGlyphs" stroke="#505050" stroke-width="0.04">Fusarium oxysporum FoS 08 v1.0</text>
<circle cx="433.90" cy="109.98" r="1.05" fill="#fff" stroke="#c4c4c4" stroke-width="0.3"/>
<text transform="matrix(1.0 0.0012 0 1 436.700 110.881)" font-size="2.65" fill="#505050" text-anchor="start" textLength="39.70" lengthAdjust="spacingAndGlyphs" stroke="#505050" stroke-width="0.04">Fusarium oxysporum FoS 05 v1.0</text>
<circle cx="341.50" cy="115.84" r="1.05" fill="#fff" stroke="#c4c4c4" stroke-width="0.3"/>
<text transform="matrix(1.0 0.0012 0 1 344.300 116.741)" font-size="2.65" fill="#505050" text-anchor="start" textLength="38.90" lengthAdjust="spacingAndGlyphs" stroke="#505050" stroke-width="0.04">Fusarium oxysporum f2 02 v1.0</text>
<circle cx="433.90" cy="115.84" r="1.05" fill="#fff" stroke="#c4c4c4" stroke-width="0.3"/>
<text transform="matrix(1.0 0.0012 0 1 436.700 116.741)" font-size="2.65" fill="#505050" text-anchor="start" textLength="39.70" lengthAdjust="spacingAndGlyphs" stroke="#505050" stroke-width="0.04">Fusarium oxysporum FOS 10 v1.0</text>
<circle cx="341.50" cy="121.70" r="1.05" fill="#fff" stroke="#c4c4c4" stroke-width="0.3"/>
<text transform="matrix(1.0 0.0012 0 1 344.300 122.601)" font-size="2.65" fill="#505050" text-anchor="start" textLength="47.90" lengthAdjust="spacingAndGlyphs" stroke="#505050" stroke-width="0.04">Fusarium oxysporum f. sp. pisi TR11 v1.0</text>
<circle cx="433.90" cy="121.70" r="1.05" fill="#fff" stroke="#c4c4c4" stroke-width="0.3"/>
<text transform="matrix(1.0 0.0012 0 1 436.700 122.601)" font-size="2.65" fill="#505050" text-anchor="start" textLength="53.00" lengthAdjust="spacingAndGlyphs" stroke="#505050" stroke-width="0.04">Fusarium oxysporum f. sp. vasinfectum TxI1</text>
<circle cx="341.50" cy="127.56" r="1.05" fill="#fff" stroke="#c4c4c4" stroke-width="0.3"/>
<text transform="matrix(1.0 0.0012 0 1 344.300 128.461)" font-size="2.65" fill="#505050" text-anchor="start" textLength="60.60" lengthAdjust="spacingAndGlyphs" stroke="#505050" stroke-width="0.04">Fusarium oxysporum f. sp. basilici Arnhem4 10 v1.0</text>
<circle cx="433.90" cy="127.56" r="1.05" fill="#fff" stroke="#c4c4c4" stroke-width="0.3"/>
<text transform="matrix(1.0 0.0012 0 1 436.700 128.461)" font-size="2.65" fill="#505050" text-anchor="start" textLength="54.70" lengthAdjust="spacingAndGlyphs" stroke="#505050" stroke-width="0.04">Fusarium oxysporum MPI-SDFR-AT-0094 v1.0</text>
<rect x="408.20" y="131.50" width="16.90" height="6.50" rx="0.8" fill="#3b82dc"/>
<text transform="matrix(1.0 0.0012 0 1 416.650 135.430)" font-size="2.0" fill="#fff" text-anchor="middle" stroke="#fff" stroke-width="0.07">submit</text>
<rect x="429.70" y="131.50" width="17.20" height="6.50" rx="0.8" fill="#e76664"/>
<text transform="matrix(1.0 0.0012 0 1 438.300 135.430)" font-size="2.0" fill="#fff" text-anchor="middle" stroke="#fff" stroke-width="0.07">reset</text>
<rect x="348.90" y="160.00" width="23.40" height="6.50" rx="1.6" fill="#6fb21e"/>
<text transform="matrix(1.0 0.0012 0 1 360.600 164.082)" font-size="2.3" fill="#f4fbe8" text-anchor="middle" textLength="18.00" lengthAdjust="spacingAndGlyphs" stroke="#f4fbe8" stroke-width="0.07">Download the csv</text>
<rect x="352.40" y="169.10" width="17.80" height="4.00" rx="2" fill="#111"/>
<text transform="matrix(1.0 0.0012 0 1 361.600 171.780)" font-size="2.0" fill="#fff" text-anchor="middle" textLength="13.00" lengthAdjust="spacingAndGlyphs" stroke="#fff" stroke-width="0.07">&lt; all domains</text>
<rect x="376.65" y="168.95" width="30.50" height="4.00" rx="0.6" fill="#fff" stroke="#d6d6d6" stroke-width="0.3"/>
<text transform="matrix(1.0 0.0012 0 1 378.200 171.494)" font-size="1.6" fill="#999" text-anchor="start" textLength="13.00" lengthAdjust="spacingAndGlyphs" stroke="#999" stroke-width="0.07">Select a chromosome</text>
<text transform="matrix(1.0 0.0012 0 1 405.200 171.494)" font-size="1.6" fill="#999" text-anchor="start" stroke="#999" stroke-width="0.07">▾</text>
<rect x="408.85" y="168.95" width="30.00" height="4.00" rx="0.6" fill="#fff" stroke="#d6d6d6" stroke-width="0.3"/>
<text transform="matrix(1.0 0.0012 0 1 410.200 171.494)" font-size="1.6" fill="#999" text-anchor="start" textLength="13.00" lengthAdjust="spacingAndGlyphs" stroke="#999" stroke-width="0.07">Select a chromosome</text>
<text transform="matrix(1.0 0.0012 0 1 436.800 171.494)" font-size="1.6" fill="#999" text-anchor="start" stroke="#999" stroke-width="0.07">▾</text>
<rect x="440.45" y="168.95" width="8.20" height="4.00" rx="0.6" fill="#f2f2f2" stroke="#bbb" stroke-width="0.3"/>
<text transform="matrix(1.0 0.0012 0 1 444.550 171.596)" font-size="1.9" fill="#333" text-anchor="middle" textLength="6.00" lengthAdjust="spacingAndGlyphs" stroke="#333" stroke-width="0.07">Apply</text>
<text transform="matrix(1.0 0.0012 0 1 411.000 176.080)" font-size="2.0" fill="#333" text-anchor="middle" textLength="5.50" lengthAdjust="spacingAndGlyphs" stroke="#333" stroke-width="0.07">Apl79</text>
<rect x="346.50" y="175.60" width="127.80" height="129.90" rx="3.5" fill="#f3f3f3"/>
<rect x="352.50" y="177.60" width="118.30" height="120.20" rx="0" fill="#fff"/>
<defs><linearGradient id="g5" x1="0" y1="0" x2="1" y2="0"><stop offset="0%" stop-color="#e9ede4"/><stop offset="55%" stop-color="#dfe6d8"/><stop offset="70%" stop-color="#a9b5a0"/><stop offset="100%" stop-color="#8f9c86"/></linearGradient></defs>
<rect x="393.50" y="177.80" width="77.30" height="3.40" rx="0" fill="url(#g5)"/>
<rect x="465.50" y="181.20" width="5.30" height="52.00" rx="0" fill="#f1f1f1"/>
<defs><linearGradient id="g6" x1="0" y1="0" x2="1" y2="0"><stop offset="0%" stop-color="#fbfbfb"/><stop offset="100%" stop-color="#eeeeee"/></linearGradient></defs>
<rect x="456.00" y="236.00" width="14.80" height="61.80" rx="0" fill="url(#g6)"/>
<line x1="353.00" y1="181.20" x2="353.00" y2="297.80" stroke="#dadada" stroke-width="0.25" stroke-dasharray="0.45 0.8"/>
<line x1="356.60" y1="181.20" x2="356.60" y2="297.80" stroke="#dadada" stroke-width="0.25" stroke-dasharray="0.45 0.8"/>
<line x1="360.60" y1="181.20" x2="360.60" y2="297.80" stroke="#dadada" stroke-width="0.25" stroke-dasharray="0.45 0.8"/>
<line x1="364.20" y1="181.20" x2="364.20" y2="297.80" stroke="#dadada" stroke-width="0.25" stroke-dasharray="0.45 0.8"/>
<line x1="367.30" y1="181.20" x2="367.30" y2="297.80" stroke="#dadada" stroke-width="0.25" stroke-dasharray="0.45 0.8"/>
<line x1="370.50" y1="181.20" x2="370.50" y2="297.80" stroke="#dadada" stroke-width="0.25" stroke-dasharray="0.45 0.8"/>
<line x1="373.60" y1="181.20" x2="373.60" y2="297.80" stroke="#dadada" stroke-width="0.25" stroke-dasharray="0.45 0.8"/>
<line x1="376.70" y1="181.20" x2="376.70" y2="297.80" stroke="#dadada" stroke-width="0.25" stroke-dasharray="0.45 0.8"/>
<line x1="379.80" y1="181.20" x2="379.80" y2="297.80" stroke="#dadada" stroke-width="0.25" stroke-dasharray="0.45 0.8"/>
<line x1="382.80" y1="181.20" x2="382.80" y2="297.80" stroke="#dadada" stroke-width="0.25" stroke-dasharray="0.45 0.8"/>
<line x1="385.70" y1="181.20" x2="385.70" y2="297.80" stroke="#dadada" stroke-width="0.25" stroke-dasharray="0.45 0.8"/>
<line x1="388.60" y1="181.20" x2="388.60" y2="297.80" stroke="#dadada" stroke-width="0.25" stroke-dasharray="0.45 0.8"/>
<line x1="391.30" y1="181.20" x2="391.30" y2="297.80" stroke="#dadada" stroke-width="0.25" stroke-dasharray="0.45 0.8"/>
<line x1="394.00" y1="181.20" x2="394.00" y2="297.80" stroke="#dadada" stroke-width="0.25" stroke-dasharray="0.45 0.8"/>
<line x1="362.00" y1="181.20" x2="362.00" y2="297.80" stroke="#d0d0d0" stroke-width="0.3" stroke-dasharray="0.5 0.6"/>
<line x1="374.00" y1="181.20" x2="374.00" y2="297.80" stroke="#d0d0d0" stroke-width="0.3" stroke-dasharray="0.5 0.6"/>
<line x1="386.00" y1="181.20" x2="386.00" y2="297.80" stroke="#d0d0d0" stroke-width="0.3" stroke-dasharray="0.5 0.6"/>
<line x1="408.90" y1="181.20" x2="408.90" y2="297.80" stroke="#d0d0d0" stroke-width="0.3" stroke-dasharray="0.5 0.6"/>
<line x1="420.50" y1="181.20" x2="420.50" y2="297.80" stroke="#d0d0d0" stroke-width="0.3" stroke-dasharray="0.5 0.6"/>
<line x1="432.00" y1="181.20" x2="432.00" y2="297.80" stroke="#d0d0d0" stroke-width="0.3" stroke-dasharray="0.5 0.6"/>
<line x1="443.50" y1="181.20" x2="443.50" y2="297.80" stroke="#d0d0d0" stroke-width="0.3" stroke-dasharray="0.5 0.6"/>
<line x1="455.00" y1="181.20" x2="455.00" y2="297.80" stroke="#d0d0d0" stroke-width="0.3" stroke-dasharray="0.5 0.6"/>
<line x1="466.00" y1="181.20" x2="466.00" y2="297.80" stroke="#d0d0d0" stroke-width="0.3" stroke-dasharray="0.5 0.6"/>
<line x1="396.90" y1="181.20" x2="396.90" y2="297.80" stroke="#b8b8b8" stroke-width="0.4" stroke-dasharray="0.6 0.5"/>
<line x1="352.50" y1="189.20" x2="470.80" y2="189.20" stroke="#c8c8c8" stroke-width="0.35" stroke-dasharray="0.5 0.9"/>
<line x1="352.50" y1="195.20" x2="470.80" y2="195.20" stroke="#c8c8c8" stroke-width="0.35" stroke-dasharray="0.5 0.9"/>
<line x1="352.50" y1="200.00" x2="470.80" y2="200.00" stroke="#c8c8c8" stroke-width="0.35" stroke-dasharray="0.5 0.9"/>
<line x1="352.50" y1="206.80" x2="470.80" y2="206.80" stroke="#c8c8c8" stroke-width="0.35" stroke-dasharray="0.5 0.9"/>
<line x1="352.50" y1="213.30" x2="470.80" y2="213.30" stroke="#c8c8c8" stroke-width="0.35" stroke-dasharray="0.5 0.9"/>
<line x1="352.50" y1="220.00" x2="470.80" y2="220.00" stroke="#c8c8c8" stroke-width="0.35" stroke-dasharray="0.5 0.9"/>
<line x1="352.50" y1="226.50" x2="470.80" y2="226.50" stroke="#c8c8c8" stroke-width="0.35" stroke-dasharray="0.5 0.9"/>
<line x1="352.50" y1="232.50" x2="470.80" y2="232.50" stroke="#c8c8c8" stroke-width="0.35" stroke-dasharray="0.5 0.9"/>
<line x1="352.50" y1="243.20" x2="470.80" y2="243.20" stroke="#c8c8c8" stroke-width="0.35" stroke-dasharray="0.5 0.9"/>
<line x1="352.50" y1="252.30" x2="470.80" y2="252.30" stroke="#c8c8c8" stroke-width="0.35" stroke-dasharray="0.5 0.9"/>
<line x1="352.50" y1="262.40" x2="470.80" y2="262.40" stroke="#c8c8c8" stroke-width="0.35" stroke-dasharray="0.5 0.9"/>
<line x1="352.50" y1="274.50" x2="470.80" y2="274.50" stroke="#c8c8c8" stroke-width="0.35" stroke-dasharray="0.5 0.9"/>
<line x1="352.50" y1="285.30" x2="470.80" y2="285.30" stroke="#c8c8c8" stroke-width="0.35" stroke-dasharray="0.5 0.9"/>
<line x1="352.50" y1="296.00" x2="470.80" y2="296.00" stroke="#c8c8c8" stroke-width="0.35" stroke-dasharray="0.5 0.9"/>
<rect x="452.56" y="188.85" width="1.27" height="0.70" rx="0" fill="#b4b4b4"/>
<rect x="404.96" y="188.85" width="1.27" height="0.70" rx="0" fill="#888"/>
<rect x="374.24" y="188.85" width="0.96" height="0.70" rx="0" fill="#888"/>
<rect x="363.82" y="188.85" width="0.77" height="0.70" rx="0" fill="#9a9a9a"/>
<rect x="414.95" y="188.85" width="1.30" height="0.70" rx="0" fill="#9a9a9a"/>
<rect x="421.48" y="188.85" width="0.86" height="0.70" rx="0" fill="#b4b4b4"/>
<rect x="428.20" y="188.85" width="1.05" height="0.70" rx="0" fill="#888"/>
<rect x="424.66" y="188.85" width="1.25" height="0.70" rx="0" fill="#9a9a9a"/>
<rect x="359.85" y="188.85" width="0.67" height="0.70" rx="0" fill="#888"/>
<rect x="421.96" y="188.85" width="1.20" height="0.70" rx="0" fill="#aaa"/>
<rect x="403.66" y="188.85" width="1.26" height="0.70" rx="0" fill="#888"/>
<rect x="426.63" y="188.85" width="0.95" height="0.70" rx="0" fill="#9a9a9a"/>
<rect x="405.59" y="188.85" width="0.75" height="0.70" rx="0" fill="#9a9a9a"/>
<rect x="434.40" y="188.85" width="0.78" height="0.70" rx="0" fill="#888"/>
<rect x="411.98" y="188.85" width="0.53" height="0.70" rx="0" fill="#9a9a9a"/>
<rect x="365.40" y="194.85" width="0.76" height="0.70" rx="0" fill="#9a9a9a"/>
<rect x="463.17" y="194.85" width="1.26" height="0.70" rx="0" fill="#9a9a9a"/>
<rect x="377.55" y="194.85" width="1.33" height="0.70" rx="0" fill="#9a9a9a"/>
<rect x="407.05" y="194.85" width="1.38" height="0.70" rx="0" fill="#b4b4b4"/>
<rect x="401.28" y="194.85" width="1.01" height="0.70" rx="0" fill="#888"/>
<rect x="442.53" y="194.85" width="0.74" height="0.70" rx="0" fill="#9a9a9a"/>
<rect x="388.79" y="194.85" width="0.51" height="0.70" rx="0" fill="#b4b4b4"/>
<rect x="440.17" y="194.85" width="0.61" height="0.70" rx="0" fill="#888"/>
<rect x="434.31" y="194.85" width="0.51" height="0.70" rx="0" fill="#b4b4b4"/>
<rect x="444.66" y="194.85" width="0.66" height="0.70" rx="0" fill="#888"/>
<rect x="404.45" y="194.85" width="0.67" height="0.70" rx="0" fill="#888"/>
<rect x="401.21" y="194.85" width="0.85" height="0.70" rx="0" fill="#b4b4b4"/>
<rect x="401.39" y="194.85" width="0.69" height="0.70" rx="0" fill="#aaa"/>
<rect x="452.40" y="194.85" width="1.38" height="0.70" rx="0" fill="#aaa"/>
<rect x="355.26" y="199.65" width="0.67" height="0.70" rx="0" fill="#9a9a9a"/>
<rect x="357.84" y="199.65" width="0.63" height="0.70" rx="0" fill="#b4b4b4"/>
<rect x="382.70" y="199.65" width="1.20" height="0.70" rx="0" fill="#aaa"/>
<rect x="448.48" y="199.65" width="0.85" height="0.70" rx="0" fill="#9a9a9a"/>
<rect x="363.36" y="199.65" width="1.02" height="0.70" rx="0" fill="#888"/>
<rect x="354.78" y="199.65" width="0.83" height="0.70" rx="0" fill="#b4b4b4"/>
<rect x="367.63" y="199.65" width="1.03" height="0.70" rx="0" fill="#888"/>
<rect x="452.65" y="199.65" width="0.66" height="0.70" rx="0" fill="#888"/>
<rect x="388.74" y="199.65" width="0.71" height="0.70" rx="0" fill="#888"/>
<rect x="436.42" y="199.65" width="0.64" height="0.70" rx="0" fill="#888"/>
<rect x="432.00" y="199.65" width="0.85" height="0.70" rx="0" fill="#b4b4b4"/>
<rect x="422.41" y="199.65" width="0.88" height="0.70" rx="0" fill="#9a9a9a"/>
<rect x="365.54" y="199.65" width="0.96" height="0.70" rx="0" fill="#aaa"/>
<rect x="380.42" y="199.65" width="1.13" height="0.70" rx="0" fill="#aaa"/>
<rect x="401.39" y="199.65" width="1.31" height="0.70" rx="0" fill="#b4b4b4"/>
<rect x="386.75" y="199.65" width="0.66" height="0.70" rx="0" fill="#9a9a9a"/>
<rect x="367.54" y="199.65" width="0.93" height="0.70" rx="0" fill="#9a9a9a"/>
<rect x="385.23" y="199.65" width="1.33" height="0.70" rx="0" fill="#888"/>
<rect x="439.13" y="199.65" width="0.56" height="0.70" rx="0" fill="#b4b4b4"/>
<rect x="404.26" y="199.65" width="0.55" height="0.70" rx="0" fill="#888"/>
<rect x="385.43" y="199.65" width="0.98" height="0.70" rx="0" fill="#888"/>
<rect x="363.60" y="199.65" width="0.62" height="0.70" rx="0" fill="#b4b4b4"/>
<rect x="428.55" y="206.45" width="1.12" height="0.70" rx="0" fill="#888"/>
<rect x="420.84" y="206.45" width="1.33" height="0.70" rx="0" fill="#b4b4b4"/>
<rect x="457.67" y="206.45" width="1.13" height="0.70" rx="0" fill="#9a9a9a"/>
<rect x="355.44" y="206.45" width="1.07" height="0.70" rx="0" fill="#b4b4b4"/>
<rect x="360.74" y="206.45" width="0.78" height="0.70" rx="0" fill="#888"/>
<rect x="467.93" y="206.45" width="0.57" height="0.70" rx="0" fill="#aaa"/>
<rect x="437.76" y="206.45" width="1.31" height="0.70" rx="0" fill="#888"/>
<rect x="444.23" y="206.45" width="1.32" height="0.70" rx="0" fill="#aaa"/>
<rect x="362.77" y="206.45" width="0.93" height="0.70" rx="0" fill="#9a9a9a"/>
<rect x="453.18" y="206.45" width="0.88" height="0.70" rx="0" fill="#9a9a9a"/>
<rect x="452.30" y="206.45" width="1.02" height="0.70" rx="0" fill="#b4b4b4"/>
<rect x="396.61" y="206.45" width="0.51" height="0.70" rx="0" fill="#9a9a9a"/>
<rect x="362.22" y="206.45" width="1.08" height="0.70" rx="0" fill="#aaa"/>
<rect x="400.87" y="212.95" width="0.80" height="0.70" rx="0" fill="#b4b4b4"/>
<rect x="403.66" y="212.95" width="1.25" height="0.70" rx="0" fill="#9a9a9a"/>
<rect x="412.65" y="212.95" width="0.96" height="0.70" rx="0" fill="#aaa"/>
<rect x="422.15" y="212.95" width="0.93" height="0.70" rx="0" fill="#888"/>
<rect x="463.10" y="212.95" width="0.60" height="0.70" rx="0" fill="#b4b4b4"/>
<rect x="382.42" y="212.95" width="0.51" height="0.70" rx="0" fill="#aaa"/>
<rect x="369.47" y="212.95" width="1.05" height="0.70" rx="0" fill="#888"/>
<rect x="439.68" y="212.95" width="0.81" height="0.70" rx="0" fill="#b4b4b4"/>
<rect x="410.31" y="212.95" width="0.72" height="0.70" rx="0" fill="#b4b4b4"/>
<rect x="429.58" y="212.95" width="0.68" height="0.70" rx="0" fill="#b4b4b4"/>
<rect x="445.43" y="212.95" width="1.18" height="0.70" rx="0" fill="#888"/>
<rect x="454.23" y="212.95" width="0.85" height="0.70" rx="0" fill="#aaa"/>
<rect x="377.14" y="212.95" width="0.62" height="0.70" rx="0" fill="#aaa"/>
<rect x="449.27" y="212.95" width="1.26" height="0.70" rx="0" fill="#9a9a9a"/>
<rect x="462.25" y="212.95" width="0.75" height="0.70" rx="0" fill="#888"/>
<rect x="365.98" y="212.95" width="0.92" height="0.70" rx="0" fill="#888"/>
<rect x="448.55" y="212.95" width="0.84" height="0.70" rx="0" fill="#b4b4b4"/>
<rect x="430.30" y="212.95" width="1.14" height="0.70" rx="0" fill="#b4b4b4"/>
<rect x="389.84" y="212.95" width="1.25" height="0.70" rx="0" fill="#aaa"/>
<rect x="453.38" y="212.95" width="0.54" height="0.70" rx="0" fill="#aaa"/>
<rect x="418.62" y="212.95" width="0.78" height="0.70" rx="0" fill="#9a9a9a"/>
<rect x="426.71" y="212.95" width="0.86" height="0.70" rx="0" fill="#888"/>
<rect x="441.46" y="219.65" width="0.74" height="0.70" rx="0" fill="#888"/>
<rect x="444.64" y="219.65" width="1.39" height="0.70" rx="0" fill="#9a9a9a"/>
<rect x="404.35" y="219.65" width="1.07" height="0.70" rx="0" fill="#aaa"/>
<rect x="463.22" y="219.65" width="1.12" height="0.70" rx="0" fill="#888"/>
<rect x="447.74" y="219.65" width="0.73" height="0.70" rx="0" fill="#9a9a9a"/>
<rect x="439.83" y="219.65" width="0.98" height="0.70" rx="0" fill="#9a9a9a"/>
<rect x="373.60" y="219.65" width="0.75" height="0.70" rx="0" fill="#aaa"/>
<rect x="415.06" y="219.65" width="1.35" height="0.70" rx="0" fill="#888"/>
<rect x="450.61" y="226.15" width="1.13" height="0.70" rx="0" fill="#888"/>
<rect x="363.03" y="226.15" width="1.34" height="0.70" rx="0" fill="#b4b4b4"/>
<rect x="367.94" y="226.15" width="0.91" height="0.70" rx="0" fill="#9a9a9a"/>
<rect x="396.33" y="226.15" width="1.01" height="0.70" rx="0" fill="#aaa"/>
<rect x="406.33" y="226.15" width="1.09" height="0.70" rx="0" fill="#888"/>
<rect x="364.38" y="226.15" width="1.28" height="0.70" rx="0" fill="#9a9a9a"/>
<rect x="377.53" y="226.15" width="1.31" height="0.70" rx="0" fill="#9a9a9a"/>
<rect x="465.40" y="226.15" width="0.98" height="0.70" rx="0" fill="#aaa"/>
<rect x="383.12" y="226.15" width="1.15" height="0.70" rx="0" fill="#9a9a9a"/>
<rect x="393.08" y="226.15" width="0.57" height="0.70" rx="0" fill="#b4b4b4"/>
<rect x="392.34" y="226.15" width="0.88" height="0.70" rx="0" fill="#aaa"/>
<rect x="409.06" y="226.15" width="0.53" height="0.70" rx="0" fill="#9a9a9a"/>
<rect x="402.33" y="226.15" width="0.53" height="0.70" rx="0" fill="#aaa"/>
<rect x="431.96" y="226.15" width="1.32" height="0.70" rx="0" fill="#b4b4b4"/>
<rect x="467.98" y="232.15" width="1.31" height="0.70" rx="0" fill="#b4b4b4"/>
<rect x="461.76" y="232.15" width="0.94" height="0.70" rx="0" fill="#9a9a9a"/>
<rect x="440.15" y="232.15" width="0.90" height="0.70" rx="0" fill="#aaa"/>
<rect x="448.58" y="232.15" width="1.01" height="0.70" rx="0" fill="#888"/>
<rect x="413.12" y="232.15" width="1.26" height="0.70" rx="0" fill="#aaa"/>
<rect x="388.85" y="232.15" width="0.84" height="0.70" rx="0" fill="#888"/>
<rect x="388.01" y="232.15" width="0.63" height="0.70" rx="0" fill="#aaa"/>
<rect x="418.89" y="232.15" width="0.68" height="0.70" rx="0" fill="#9a9a9a"/>
<rect x="410.87" y="232.15" width="1.04" height="0.70" rx="0" fill="#9a9a9a"/>
<rect x="414.91" y="232.15" width="0.54" height="0.70" rx="0" fill="#b4b4b4"/>
<rect x="445.12" y="242.85" width="1.01" height="0.70" rx="0" fill="#b4b4b4"/>
<rect x="363.72" y="242.85" width="0.65" height="0.70" rx="0" fill="#b4b4b4"/>
<rect x="400.58" y="242.85" width="1.36" height="0.70" rx="0" fill="#b4b4b4"/>
<rect x="383.96" y="242.85" width="0.93" height="0.70" rx="0" fill="#888"/>
<rect x="392.06" y="242.85" width="1.31" height="0.70" rx="0" fill="#b4b4b4"/>
<rect x="413.37" y="242.85" width="0.60" height="0.70" rx="0" fill="#b4b4b4"/>
<rect x="424.06" y="242.85" width="1.33" height="0.70" rx="0" fill="#888"/>
<rect x="433.74" y="242.85" width="1.38" height="0.70" rx="0" fill="#9a9a9a"/>
<rect x="375.32" y="242.85" width="0.70" height="0.70" rx="0" fill="#aaa"/>
<rect x="390.04" y="242.85" width="0.82" height="0.70" rx="0" fill="#b4b4b4"/>
<rect x="365.06" y="242.85" width="1.16" height="0.70" rx="0" fill="#9a9a9a"/>
<rect x="450.97" y="242.85" width="1.06" height="0.70" rx="0" fill="#888"/>
<rect x="433.66" y="242.85" width="1.29" height="0.70" rx="0" fill="#9a9a9a"/>
<rect x="396.21" y="242.85" width="0.87" height="0.70" rx="0" fill="#888"/>
<rect x="414.89" y="242.85" width="1.28" height="0.70" rx="0" fill="#888"/>
<rect x="413.91" y="242.85" width="1.27" height="0.70" rx="0" fill="#888"/>
<rect x="458.20" y="251.95" width="1.07" height="0.70" rx="0" fill="#aaa"/>
<rect x="456.81" y="251.95" width="0.78" height="0.70" rx="0" fill="#aaa"/>
<rect x="455.42" y="251.95" width="0.68" height="0.70" rx="0" fill="#888"/>
<rect x="455.07" y="251.95" width="0.62" height="0.70" rx="0" fill="#888"/>
<rect x="368.24" y="251.95" width="0.58" height="0.70" rx="0" fill="#b4b4b4"/>
<rect x="364.16" y="251.95" width="1.25" height="0.70" rx="0" fill="#b4b4b4"/>
<rect x="415.48" y="251.95" width="1.13" height="0.70" rx="0" fill="#888"/>
<rect x="399.32" y="251.95" width="1.12" height="0.70" rx="0" fill="#9a9a9a"/>
<rect x="364.05" y="251.95" width="1.01" height="0.70" rx="0" fill="#aaa"/>
<rect x="457.81" y="251.95" width="1.37" height="0.70" rx="0" fill="#9a9a9a"/>
<rect x="434.04" y="251.95" width="1.07" height="0.70" rx="0" fill="#aaa"/>
<rect x="467.84" y="262.05" width="1.25" height="0.70" rx="0" fill="#9a9a9a"/>
<rect x="408.44" y="262.05" width="0.52" height="0.70" rx="0" fill="#b4b4b4"/>
<rect x="369.85" y="262.05" width="0.67" height="0.70" rx="0" fill="#888"/>
<rect x="372.84" y="262.05" width="0.64" height="0.70" rx="0" fill="#aaa"/>
<rect x="459.59" y="262.05" width="0.59" height="0.70" rx="0" fill="#9a9a9a"/>
<rect x="368.46" y="262.05" width="1.11" height="0.70" rx="0" fill="#9a9a9a"/>
<rect x="440.94" y="262.05" width="0.79" height="0.70" rx="0" fill="#b4b4b4"/>
<rect x="402.04" y="262.05" width="0.82" height="0.70" rx="0" fill="#888"/>
<rect x="422.11" y="262.05" width="0.51" height="0.70" rx="0" fill="#9a9a9a"/>
<rect x="450.09" y="262.05" width="0.66" height="0.70" rx="0" fill="#b4b4b4"/>
<rect x="394.35" y="262.05" width="0.83" height="0.70" rx="0" fill="#888"/>
<rect x="422.56" y="262.05" width="0.59" height="0.70" rx="0" fill="#9a9a9a"/>
<rect x="390.23" y="262.05" width="0.58" height="0.70" rx="0" fill="#b4b4b4"/>
<rect x="418.51" y="262.05" width="0.67" height="0.70" rx="0" fill="#aaa"/>
<rect x="445.55" y="262.05" width="0.73" height="0.70" rx="0" fill="#9a9a9a"/>
<rect x="438.61" y="262.05" width="1.20" height="0.70" rx="0" fill="#b4b4b4"/>
<rect x="456.10" y="274.15" width="1.29" height="0.70" rx="0" fill="#aaa"/>
<rect x="441.24" y="274.15" width="1.19" height="0.70" rx="0" fill="#b4b4b4"/>
<rect x="376.79" y="274.15" width="0.67" height="0.70" rx="0" fill="#aaa"/>
<rect x="387.69" y="274.15" width="0.59" height="0.70" rx="0" fill="#aaa"/>
<rect x="466.92" y="274.15" width="1.31" height="0.70" rx="0" fill="#9a9a9a"/>
<rect x="379.69" y="274.15" width="1.35" height="0.70" rx="0" fill="#aaa"/>
<rect x="391.85" y="274.15" width="1.09" height="0.70" rx="0" fill="#888"/>
<rect x="414.30" y="274.15" width="0.85" height="0.70" rx="0" fill="#b4b4b4"/>
<rect x="426.86" y="274.15" width="1.13" height="0.70" rx="0" fill="#b4b4b4"/>
<rect x="465.71" y="274.15" width="0.52" height="0.70" rx="0" fill="#9a9a9a"/>
<rect x="380.26" y="284.95" width="0.90" height="0.70" rx="0" fill="#9a9a9a"/>
<rect x="440.55" y="284.95" width="1.08" height="0.70" rx="0" fill="#9a9a9a"/>
<rect x="364.32" y="284.95" width="0.73" height="0.70" rx="0" fill="#aaa"/>
<rect x="416.26" y="284.95" width="0.96" height="0.70" rx="0" fill="#9a9a9a"/>
<rect x="426.37" y="284.95" width="1.23" height="0.70" rx="0" fill="#9a9a9a"/>
<rect x="416.18" y="284.95" width="1.10" height="0.70" rx="0" fill="#9a9a9a"/>
<rect x="397.44" y="284.95" width="1.34" height="0.70" rx="0" fill="#b4b4b4"/>
<rect x="407.25" y="284.95" width="0.65" height="0.70" rx="0" fill="#b4b4b4"/>
<rect x="415.32" y="284.95" width="1.04" height="0.70" rx="0" fill="#b4b4b4"/>
<rect x="461.71" y="284.95" width="0.88" height="0.70" rx="0" fill="#b4b4b4"/>
<rect x="421.75" y="284.95" width="0.83" height="0.70" rx="0" fill="#aaa"/>
<rect x="408.57" y="284.95" width="0.74" height="0.70" rx="0" fill="#aaa"/>
<rect x="429.31" y="284.95" width="1.17" height="0.70" rx="0" fill="#9a9a9a"/>
<rect x="354.61" y="284.95" width="0.72" height="0.70" rx="0" fill="#9a9a9a"/>
<rect x="425.79" y="284.95" width="0.87" height="0.70" rx="0" fill="#b4b4b4"/>
<rect x="359.07" y="284.95" width="0.78" height="0.70" rx="0" fill="#b4b4b4"/>
<rect x="358.77" y="284.95" width="1.39" height="0.70" rx="0" fill="#aaa"/>
<rect x="361.45" y="284.95" width="1.31" height="0.70" rx="0" fill="#b4b4b4"/>
<rect x="435.70" y="284.95" width="0.73" height="0.70" rx="0" fill="#888"/>
<rect x="413.19" y="295.65" width="1.34" height="0.70" rx="0" fill="#b4b4b4"/>
<rect x="369.60" y="295.65" width="1.36" height="0.70" rx="0" fill="#888"/>
<rect x="422.42" y="295.65" width="0.60" height="0.70" rx="0" fill="#b4b4b4"/>
<rect x="405.40" y="295.65" width="0.68" height="0.70" rx="0" fill="#9a9a9a"/>
<rect x="394.02" y="295.65" width="0.64" height="0.70" rx="0" fill="#aaa"/>
<rect x="403.93" y="295.65" width="1.10" height="0.70" rx="0" fill="#b4b4b4"/>
<rect x="422.12" y="295.65" width="1.08" height="0.70" rx="0" fill="#b4b4b4"/>
<rect x="394.86" y="295.65" width="1.17" height="0.70" rx="0" fill="#888"/>
<rect x="361.65" y="265.97" width="0.70" height="0.67" rx="0" fill="#9a9a9a"/>
<rect x="361.65" y="239.83" width="0.70" height="0.72" rx="0" fill="#b4b4b4"/>
<rect x="361.65" y="253.62" width="0.70" height="0.75" rx="0" fill="#aaa"/>
<rect x="361.65" y="251.91" width="0.70" height="1.01" rx="0" fill="#b4b4b4"/>
<rect x="361.65" y="249.86" width="0.70" height="0.94" rx="0" fill="#9a9a9a"/>
<rect x="373.65" y="290.56" width="0.70" height="0.85" rx="0" fill="#b4b4b4"/>
<rect x="373.65" y="286.48" width="0.70" height="1.12" rx="0" fill="#9a9a9a"/>
<rect x="373.65" y="254.01" width="0.70" height="0.51" rx="0" fill="#aaa"/>
<rect x="373.65" y="231.05" width="0.70" height="0.94" rx="0" fill="#9a9a9a"/>
<rect x="385.65" y="244.21" width="0.70" height="0.55" rx="0" fill="#9a9a9a"/>
<rect x="385.65" y="286.16" width="0.70" height="0.61" rx="0" fill="#9a9a9a"/>
<rect x="385.65" y="254.31" width="0.70" height="0.76" rx="0" fill="#aaa"/>
<rect x="385.65" y="223.01" width="0.70" height="0.74" rx="0" fill="#aaa"/>
<rect x="408.55" y="198.07" width="0.70" height="1.11" rx="0" fill="#9a9a9a"/>
<rect x="408.55" y="233.55" width="0.70" height="1.08" rx="0" fill="#9a9a9a"/>
<rect x="408.55" y="233.21" width="0.70" height="1.02" rx="0" fill="#aaa"/>
<rect x="408.55" y="274.52" width="0.70" height="0.76" rx="0" fill="#b4b4b4"/>
<rect x="408.55" y="277.51" width="0.70" height="0.92" rx="0" fill="#aaa"/>
<rect x="408.55" y="244.99" width="0.70" height="1.02" rx="0" fill="#9a9a9a"/>
<rect x="408.55" y="231.32" width="0.70" height="0.76" rx="0" fill="#9a9a9a"/>
<rect x="408.55" y="235.21" width="0.70" height="0.73" rx="0" fill="#b4b4b4"/>
<rect x="420.15" y="231.81" width="0.70" height="0.90" rx="0" fill="#b4b4b4"/>
<rect x="420.15" y="235.38" width="0.70" height="1.08" rx="0" fill="#9a9a9a"/>
<rect x="420.15" y="191.60" width="0.70" height="0.65" rx="0" fill="#b4b4b4"/>
<rect x="431.65" y="192.23" width="0.70" height="0.71" rx="0" fill="#b4b4b4"/>
<rect x="431.65" y="269.35" width="0.70" height="0.73" rx="0" fill="#9a9a9a"/>
<rect x="431.65" y="207.72" width="0.70" height="0.96" rx="0" fill="#aaa"/>
<rect x="431.65" y="224.40" width="0.70" height="0.58" rx="0" fill="#b4b4b4"/>
<rect x="431.65" y="232.83" width="0.70" height="0.92" rx="0" fill="#b4b4b4"/>
<rect x="431.65" y="286.21" width="0.70" height="0.81" rx="0" fill="#aaa"/>
<rect x="431.65" y="234.79" width="0.70" height="0.65" rx="0" fill="#b4b4b4"/>
<rect x="443.15" y="211.06" width="0.70" height="0.75" rx="0" fill="#aaa"/>
<rect x="443.15" y="185.73" width="0.70" height="0.97" rx="0" fill="#b4b4b4"/>
<rect x="443.15" y="226.80" width="0.70" height="0.64" rx="0" fill="#b4b4b4"/>
<rect x="443.15" y="224.61" width="0.70" height="0.77" rx="0" fill="#9a9a9a"/>
<rect x="443.15" y="277.51" width="0.70" height="0.89" rx="0" fill="#9a9a9a"/>
<rect x="443.15" y="193.14" width="0.70" height="0.82" rx="0" fill="#aaa"/>
<rect x="443.15" y="274.74" width="0.70" height="0.65" rx="0" fill="#9a9a9a"/>
<rect x="454.65" y="200.93" width="0.70" height="0.71" rx="0" fill="#9a9a9a"/>
<rect x="454.65" y="256.59" width="0.70" height="1.06" rx="0" fill="#9a9a9a"/>
<rect x="454.65" y="248.76" width="0.70" height="0.71" rx="0" fill="#b4b4b4"/>
<rect x="454.65" y="192.50" width="0.70" height="0.56" rx="0" fill="#b4b4b4"/>
<rect x="454.65" y="194.91" width="0.70" height="0.72" rx="0" fill="#9a9a9a"/>
<rect x="454.65" y="254.66" width="0.70" height="0.60" rx="0" fill="#b4b4b4"/>
<rect x="454.65" y="275.24" width="0.70" height="0.80" rx="0" fill="#b4b4b4"/>
<rect x="465.65" y="238.26" width="0.70" height="1.14" rx="0" fill="#aaa"/>
<rect x="465.65" y="269.41" width="0.70" height="0.78" rx="0" fill="#aaa"/>
<rect x="465.65" y="274.22" width="0.70" height="0.73" rx="0" fill="#9a9a9a"/>
<rect x="465.65" y="238.78" width="0.70" height="0.88" rx="0" fill="#b4b4b4"/>
<rect x="396.55" y="263.02" width="0.70" height="1.14" rx="0" fill="#aaa"/>
<rect x="396.55" y="268.55" width="0.70" height="1.19" rx="0" fill="#aaa"/>
<rect x="396.55" y="279.45" width="0.70" height="1.06" rx="0" fill="#9a9a9a"/>
<text transform="matrix(1.0 0.0012 0 1 354.500 179.848)" font-size="2.2" fill="#3a3a3a" text-anchor="middle" font-weight="bold" textLength="2.70" lengthAdjust="spacingAndGlyphs" stroke="#3a3a3a" stroke-width="0.15">10</text>
<text transform="matrix(1.0 0.0012 0 1 358.600 179.848)" font-size="2.2" fill="#3a3a3a" text-anchor="middle" font-weight="bold" textLength="2.70" lengthAdjust="spacingAndGlyphs" stroke="#3a3a3a" stroke-width="0.15">11</text>
<text transform="matrix(1.0 0.0012 0 1 362.600 179.848)" font-size="2.2" fill="#3a3a3a" text-anchor="middle" font-weight="bold" textLength="1.60" lengthAdjust="spacingAndGlyphs" stroke="#3a3a3a" stroke-width="0.15">2</text>
<text transform="matrix(1.0 0.0012 0 1 365.700 179.848)" font-size="2.2" fill="#3a3a3a" text-anchor="middle" font-weight="bold" textLength="1.60" lengthAdjust="spacingAndGlyphs" stroke="#3a3a3a" stroke-width="0.15">3</text>
<text transform="matrix(1.0 0.0012 0 1 368.900 179.848)" font-size="2.2" fill="#3a3a3a" text-anchor="middle" font-weight="bold" textLength="1.60" lengthAdjust="spacingAndGlyphs" stroke="#3a3a3a" stroke-width="0.15">4</text>
<text transform="matrix(1.0 0.0012 0 1 372.000 179.848)" font-size="2.2" fill="#3a3a3a" text-anchor="middle" font-weight="bold" textLength="1.60" lengthAdjust="spacingAndGlyphs" stroke="#3a3a3a" stroke-width="0.15">5</text>
<text transform="matrix(1.0 0.0012 0 1 375.100 179.848)" font-size="2.2" fill="#3a3a3a" text-anchor="middle" font-weight="bold" textLength="1.60" lengthAdjust="spacingAndGlyphs" stroke="#3a3a3a" stroke-width="0.15">6</text>
<text transform="matrix(1.0 0.0012 0 1 378.300 179.848)" font-size="2.2" fill="#3a3a3a" text-anchor="middle" font-weight="bold" textLength="1.60" lengthAdjust="spacingAndGlyphs" stroke="#3a3a3a" stroke-width="0.15">7</text>
<text transform="matrix(1.0 0.0012 0 1 381.300 179.848)" font-size="2.2" fill="#3a3a3a" text-anchor="middle" font-weight="bold" textLength="1.60" lengthAdjust="spacingAndGlyphs" stroke="#3a3a3a" stroke-width="0.15">8</text>
<text transform="matrix(1.0 0.0012 0 1 384.200 179.848)" font-size="2.2" fill="#3a3a3a" text-anchor="middle" font-weight="bold" textLength="1.60" lengthAdjust="spacingAndGlyphs" stroke="#3a3a3a" stroke-width="0.15">9</text>
<text transform="matrix(1.0 0.0012 0 1 387.100 179.848)" font-size="2.2" fill="#3a3a3a" text-anchor="middle" font-weight="bold" textLength="1.60" lengthAdjust="spacingAndGlyphs" stroke="#3a3a3a" stroke-width="0.15">1</text>
<text transform="matrix(1.0 0.0012 0 1 390.000 179.848)" font-size="2.2" fill="#3a3a3a" text-anchor="middle" font-weight="bold" textLength="2.70" lengthAdjust="spacingAndGlyphs" stroke="#3a3a3a" stroke-width="0.15">12</text>
<text transform="matrix(1.0 0.0012 0 1 392.600 179.848)" font-size="2.2" fill="#3a3a3a" text-anchor="middle" font-weight="bold" textLength="2.70" lengthAdjust="spacingAndGlyphs" stroke="#3a3a3a" stroke-width="0.15">13</text>
<text transform="matrix(1.0 0.0012 0 1 398.500 181.612)" font-size="1.8" fill="#667060" text-anchor="middle" font-weight="bold" textLength="1.20" lengthAdjust="spacingAndGlyphs" stroke="#667060" stroke-width="0.07">c</text>
<text transform="matrix(1.0 0.0012 0 1 404.300 181.612)" font-size="1.8" fill="#667060" text-anchor="middle" font-weight="bold" textLength="1.20" lengthAdjust="spacingAndGlyphs" stroke="#667060" stroke-width="0.07">c</text>
<text transform="matrix(1.0 0.0012 0 1 409.700 181.612)" font-size="1.8" fill="#667060" text-anchor="middle" font-weight="bold" textLength="1.20" lengthAdjust="spacingAndGlyphs" stroke="#667060" stroke-width="0.07">c</text>
<text transform="matrix(1.0 0.0012 0 1 414.300 181.612)" font-size="1.8" fill="#667060" text-anchor="middle" font-weight="bold" textLength="1.20" lengthAdjust="spacingAndGlyphs" stroke="#667060" stroke-width="0.07">c</text>
<text transform="matrix(1.0 0.0012 0 1 418.200 181.612)" font-size="1.8" fill="#667060" text-anchor="middle" font-weight="bold" textLength="1.20" lengthAdjust="spacingAndGlyphs" stroke="#667060" stroke-width="0.07">c</text>
<text transform="matrix(1.0 0.0012 0 1 422.000 181.612)" font-size="1.8" fill="#667060" text-anchor="middle" font-weight="bold" textLength="1.20" lengthAdjust="spacingAndGlyphs" stroke="#667060" stroke-width="0.07">c</text>
<text transform="matrix(1.0 0.0012 0 1 428.200 181.612)" font-size="1.8" fill="#667060" text-anchor="middle" font-weight="bold" textLength="1.20" lengthAdjust="spacingAndGlyphs" stroke="#667060" stroke-width="0.07">c</text>
<text transform="matrix(1.0 0.0012 0 1 433.500 181.612)" font-size="1.8" fill="#667060" text-anchor="middle" font-weight="bold" textLength="1.20" lengthAdjust="spacingAndGlyphs" stroke="#667060" stroke-width="0.07">c</text>
<text transform="matrix(1.0 0.0012 0 1 438.600 181.612)" font-size="1.8" fill="#667060" text-anchor="middle" font-weight="bold" textLength="1.20" lengthAdjust="spacingAndGlyphs" stroke="#667060" stroke-width="0.07">c</text>
<text transform="matrix(1.0 0.0012 0 1 443.200 181.612)" font-size="1.8" fill="#667060" text-anchor="middle" font-weight="bold" textLength="1.20" lengthAdjust="spacingAndGlyphs" stroke="#667060" stroke-width="0.07">c</text>
<text transform="matrix(1.0 0.0012 0 1 448.000 181.612)" font-size="1.8" fill="#667060" text-anchor="middle" font-weight="bold" textLength="1.20" lengthAdjust="spacingAndGlyphs" stroke="#667060" stroke-width="0.07">c</text>
<text transform="matrix(1.0 0.0012 0 1 452.500 181.612)" font-size="1.8" fill="#667060" text-anchor="middle" font-weight="bold" textLength="1.20" lengthAdjust="spacingAndGlyphs" stroke="#667060" stroke-width="0.07">c</text>
<text transform="matrix(1.0 0.0012 0 1 457.000 181.612)" font-size="1.8" fill="#667060" text-anchor="middle" font-weight="bold" textLength="1.20" lengthAdjust="spacingAndGlyphs" stroke="#667060" stroke-width="0.07">c</text>
<text transform="matrix(1.0 0.0012 0 1 461.500 181.612)" font-size="1.8" fill="#667060" text-anchor="middle" font-weight="bold" textLength="1.20" lengthAdjust="spacingAndGlyphs" stroke="#667060" stroke-width="0.07">c</text>
<text transform="matrix(1.0 0.0012 0 1 466.000 181.612)" font-size="1.8" fill="#667060" text-anchor="middle" font-weight="bold" textLength="1.20" lengthAdjust="spacingAndGlyphs" stroke="#667060" stroke-width="0.07">c</text>
<rect x="361.50" y="180.60" width="0.80" height="2.20" rx="0" fill="#555"/>
<rect x="361.60" y="183.50" width="0.60" height="1.80" rx="0" fill="#888"/>
<rect x="397.90" y="180.60" width="0.80" height="2.00" rx="0" fill="#555"/>
<defs><linearGradient id="g7" x1="0" y1="0" x2="0" y2="1"><stop offset="0%" stop-color="#f1f3ee"/><stop offset="100%" stop-color="#fafbf8"/></linearGradient></defs>
<rect x="397.20" y="181.20" width="73.60" height="16.00" rx="0" fill="url(#g7)"/>
<rect x="442.97" y="191.53" width="0.70" height="1.53" rx="0" fill="#b0b8a8"/>
<rect x="445.10" y="187.28" width="0.72" height="1.33" rx="0" fill="#c0c8b4"/>
<rect x="444.88" y="195.26" width="0.36" height="0.96" rx="0" fill="#c0c8b4"/>
<rect x="425.30" y="181.73" width="0.42" height="1.28" rx="0" fill="#bcbcbc"/>
<rect x="417.90" y="195.65" width="0.68" height="0.59" rx="0" fill="#aaaaaa"/>
<rect x="402.75" y="188.94" width="0.52" height="0.56" rx="0" fill="#aaaaaa"/>
<rect x="397.89" y="192.24" width="0.78" height="0.60" rx="0" fill="#c0c8b4"/>
<rect x="418.62" y="196.79" width="0.57" height="1.21" rx="0" fill="#c0c8b4"/>
<rect x="410.76" y="196.98" width="0.40" height="1.56" rx="0" fill="#bcbcbc"/>
<rect x="419.31" y="184.53" width="0.38" height="0.57" rx="0" fill="#ccd4c0"/>
<rect x="421.73" y="193.25" width="0.59" height="1.12" rx="0" fill="#b0b8a8"/>
<rect x="422.17" y="183.83" width="0.71" height="0.98" rx="0" fill="#d4dacc"/>
<rect x="410.99" y="186.27" width="0.39" height="0.71" rx="0" fill="#ccd4c0"/>
<rect x="466.79" y="184.48" width="0.50" height="1.06" rx="0" fill="#bcbcbc"/>
<rect x="424.23" y="188.17" width="0.30" height="0.46" rx="0" fill="#c0c8b4"/>
<rect x="443.03" y="196.61" width="0.36" height="0.70" rx="0" fill="#aaaaaa"/>
<rect x="466.27" y="184.30" width="0.48" height="1.03" rx="0" fill="#aaaaaa"/>
<rect x="431.29" y="188.39" width="0.69" height="0.84" rx="0" fill="#d4dacc"/>
<rect x="400.17" y="196.39" width="0.35" height="0.81" rx="0" fill="#c8c8c8"/>
<rect x="423.97" y="182.08" width="0.44" height="1.24" rx="0" fill="#ccd4c0"/>
<rect x="420.31" y="183.92" width="0.39" height="0.49" rx="0" fill="#c0c8b4"/>
<rect x="450.14" y="183.82" width="0.54" height="1.26" rx="0" fill="#ccd4c0"/>
<rect x="469.53" y="187.34" width="0.50" height="0.68" rx="0" fill="#c8c8c8"/>
<rect x="422.60" y="183.10" width="0.63" height="0.57" rx="0" fill="#b0b8a8"/>
<rect x="399.89" y="186.63" width="0.72" height="0.56" rx="0" fill="#b0b8a8"/>
<rect x="438.68" y="181.95" width="0.75" height="0.90" rx="0" fill="#c0c8b4"/>
<rect x="429.22" y="182.09" width="0.72" height="0.75" rx="0" fill="#bcbcbc"/>
<rect x="464.81" y="188.99" width="0.38" height="1.03" rx="0" fill="#bcbcbc"/>
<rect x="447.79" y="183.93" width="0.44" height="0.96" rx="0" fill="#c0c8b4"/>
<rect x="405.72" y="193.36" width="0.57" height="0.62" rx="0" fill="#bcbcbc"/>
<rect x="460.85" y="182.36" width="0.55" height="1.02" rx="0" fill="#c8c8c8"/>
<rect x="460.82" y="184.54" width="0.69" height="1.33" rx="0" fill="#b0b8a8"/>
<rect x="440.39" y="181.37" width="0.45" height="1.07" rx="0" fill="#b0b8a8"/>
<rect x="418.00" y="186.50" width="0.68" height="1.23" rx="0" fill="#d4dacc"/>
<rect x="467.35" y="184.24" width="0.39" height="1.42" rx="0" fill="#bcbcbc"/>
<rect x="437.43" y="183.10" width="0.64" height="0.96" rx="0" fill="#aaaaaa"/>
<rect x="434.03" y="190.07" width="0.48" height="0.73" rx="0" fill="#d4dacc"/>
<rect x="451.36" y="193.50" width="0.48" height="1.41" rx="0" fill="#aaaaaa"/>
<rect x="460.79" y="185.90" width="0.48" height="0.80" rx="0" fill="#c0c8b4"/>
<rect x="436.14" y="182.23" width="0.72" height="1.52" rx="0" fill="#bcbcbc"/>
<rect x="418.15" y="181.58" width="0.64" height="0.90" rx="0" fill="#c8c8c8"/>
<rect x="454.47" y="188.22" width="0.63" height="0.90" rx="0" fill="#c8c8c8"/>
<rect x="437.88" y="194.43" width="0.44" height="1.60" rx="0" fill="#c0c8b4"/>
<rect x="409.18" y="185.75" width="0.63" height="0.66" rx="0" fill="#b0b8a8"/>
<rect x="410.68" y="191.02" width="0.79" height="1.58" rx="0" fill="#c0c8b4"/>
<rect x="401.45" y="181.96" width="0.46" height="0.62" rx="0" fill="#c0c8b4"/>
<rect x="437.53" y="185.35" width="0.48" height="1.20" rx="0" fill="#ccd4c0"/>
<rect x="440.58" y="182.96" width="0.75" height="0.40" rx="0" fill="#bcbcbc"/>
<rect x="467.00" y="194.16" width="0.73" height="1.23" rx="0" fill="#c8c8c8"/>
<rect x="424.79" y="181.38" width="0.61" height="0.51" rx="0" fill="#c8c8c8"/>
<rect x="434.92" y="196.53" width="0.45" height="0.82" rx="0" fill="#c0c8b4"/>
<rect x="428.09" y="193.15" width="0.62" height="0.84" rx="0" fill="#c0c8b4"/>
<rect x="408.94" y="184.85" width="0.54" height="0.64" rx="0" fill="#c0c8b4"/>
<rect x="441.93" y="184.39" width="0.75" height="0.40" rx="0" fill="#ccd4c0"/>
<rect x="421.30" y="195.65" width="0.57" height="0.79" rx="0" fill="#c8c8c8"/>
<rect x="424.94" y="185.60" width="0.41" height="0.75" rx="0" fill="#b0b8a8"/>
<rect x="425.22" y="196.79" width="0.76" height="1.11" rx="0" fill="#d4dacc"/>
<rect x="451.59" y="183.71" width="0.43" height="0.42" rx="0" fill="#d4dacc"/>
<rect x="433.40" y="183.53" width="0.54" height="0.55" rx="0" fill="#c8c8c8"/>
<rect x="467.64" y="183.04" width="0.32" height="0.56" rx="0" fill="#bcbcbc"/>
<rect x="398.46" y="187.32" width="0.44" height="1.52" rx="0" fill="#aaaaaa"/>
<rect x="400.18" y="186.57" width="0.72" height="1.27" rx="0" fill="#d4dacc"/>
<rect x="418.90" y="188.74" width="0.54" height="1.17" rx="0" fill="#c8c8c8"/>
<rect x="461.79" y="195.12" width="0.31" height="0.55" rx="0" fill="#d4dacc"/>
<rect x="436.45" y="184.18" width="0.45" height="1.04" rx="0" fill="#bcbcbc"/>
<rect x="423.03" y="190.24" width="0.71" height="0.56" rx="0" fill="#ccd4c0"/>
<rect x="415.93" y="185.99" width="0.76" height="1.47" rx="0" fill="#c8c8c8"/>
<rect x="411.46" y="185.57" width="0.70" height="1.11" rx="0" fill="#b0b8a8"/>
<rect x="449.20" y="189.22" width="0.54" height="1.49" rx="0" fill="#bcbcbc"/>
<rect x="432.23" y="190.25" width="0.66" height="1.48" rx="0" fill="#bcbcbc"/>
<rect x="458.09" y="181.51" width="0.72" height="1.23" rx="0" fill="#bcbcbc"/>
<rect x="439.99" y="189.55" width="0.54" height="0.77" rx="0" fill="#c0c8b4"/>
<rect x="432.42" y="187.62" width="0.55" height="0.80" rx="0" fill="#c0c8b4"/>
<rect x="428.57" y="187.48" width="0.32" height="1.28" rx="0" fill="#d4dacc"/>
<rect x="457.33" y="192.66" width="0.63" height="0.43" rx="0" fill="#b0b8a8"/>
<rect x="428.84" y="181.53" width="0.50" height="0.98" rx="0" fill="#ccd4c0"/>
<rect x="458.97" y="182.76" width="0.62" height="1.54" rx="0" fill="#b0b8a8"/>
<rect x="462.82" y="197.64" width="0.65" height="0.93" rx="0" fill="#c0c8b4"/>
<rect x="442.07" y="185.32" width="0.38" height="1.15" rx="0" fill="#ccd4c0"/>
<rect x="438.05" y="189.79" width="0.67" height="0.74" rx="0" fill="#c8c8c8"/>
<rect x="439.49" y="191.54" width="0.74" height="0.56" rx="0" fill="#bcbcbc"/>
<rect x="404.17" y="190.32" width="0.54" height="0.82" rx="0" fill="#b0b8a8"/>
<rect x="424.82" y="181.46" width="0.65" height="0.58" rx="0" fill="#b0b8a8"/>
<rect x="446.99" y="183.58" width="0.77" height="1.06" rx="0" fill="#c0c8b4"/>
<rect x="416.72" y="187.67" width="0.43" height="1.30" rx="0" fill="#c8c8c8"/>
<rect x="468.68" y="193.03" width="0.73" height="0.94" rx="0" fill="#bcbcbc"/>
<rect x="410.59" y="190.91" width="0.63" height="0.50" rx="0" fill="#b0b8a8"/>
<rect x="400.12" y="194.34" width="0.55" height="0.94" rx="0" fill="#bcbcbc"/>
<rect x="461.52" y="186.41" width="0.46" height="1.36" rx="0" fill="#ccd4c0"/>
<rect x="437.07" y="184.88" width="0.72" height="1.53" rx="0" fill="#bcbcbc"/>
<rect x="447.22" y="182.80" width="0.36" height="1.57" rx="0" fill="#b0b8a8"/>
<rect x="433.38" y="182.67" width="0.65" height="0.85" rx="0" fill="#aaaaaa"/>
<rect x="414.66" y="184.14" width="0.61" height="0.82" rx="0" fill="#bcbcbc"/>
<rect x="425.10" y="191.11" width="0.48" height="0.76" rx="0" fill="#b0b8a8"/>
<rect x="429.14" y="194.06" width="0.56" height="1.11" rx="0" fill="#c8c8c8"/>
<rect x="413.19" y="182.37" width="0.33" height="0.44" rx="0" fill="#c0c8b4"/>
<rect x="412.28" y="181.39" width="0.74" height="0.98" rx="0" fill="#aaaaaa"/>
<rect x="422.94" y="185.53" width="0.45" height="1.52" rx="0" fill="#bcbcbc"/>
<rect x="421.10" y="186.09" width="0.40" height="1.18" rx="0" fill="#ccd4c0"/>
<rect x="424.85" y="184.89" width="0.74" height="0.58" rx="0" fill="#d4dacc"/>
<rect x="405.55" y="193.27" width="0.68" height="1.21" rx="0" fill="#ccd4c0"/>
<rect x="432.69" y="181.37" width="0.76" height="0.84" rx="0" fill="#ccd4c0"/>
<rect x="447.70" y="190.07" width="0.54" height="1.53" rx="0" fill="#ccd4c0"/>
<rect x="454.83" y="184.02" width="0.53" height="0.69" rx="0" fill="#c0c8b4"/>
<rect x="399.95" y="190.94" width="0.59" height="1.19" rx="0" fill="#c8c8c8"/>
<rect x="426.78" y="197.11" width="0.48" height="0.77" rx="0" fill="#bcbcbc"/>
<rect x="423.89" y="181.52" width="0.80" height="0.96" rx="0" fill="#aaaaaa"/>
<rect x="415.06" y="190.04" width="0.77" height="1.18" rx="0" fill="#bcbcbc"/>
<rect x="450.53" y="183.34" width="0.53" height="0.94" rx="0" fill="#b0b8a8"/>
<rect x="427.44" y="181.42" width="0.57" height="1.59" rx="0" fill="#c8c8c8"/>
<rect x="438.76" y="196.23" width="0.66" height="0.68" rx="0" fill="#aaaaaa"/>
<rect x="433.35" y="196.14" width="0.33" height="0.69" rx="0" fill="#ccd4c0"/>
<rect x="433.81" y="192.42" width="0.32" height="1.40" rx="0" fill="#bcbcbc"/>
<rect x="419.83" y="181.44" width="0.32" height="1.57" rx="0" fill="#c0c8b4"/>
<rect x="448.29" y="189.39" width="0.39" height="0.68" rx="0" fill="#d4dacc"/>
<rect x="455.23" y="181.63" width="0.79" height="0.59" rx="0" fill="#ccd4c0"/>
<rect x="460.04" y="182.70" width="0.31" height="1.05" rx="0" fill="#bcbcbc"/>
<rect x="428.39" y="192.12" width="0.56" height="0.56" rx="0" fill="#ccd4c0"/>
<rect x="464.15" y="183.80" width="0.52" height="1.39" rx="0" fill="#c0c8b4"/>
<rect x="437.98" y="182.00" width="0.54" height="1.34" rx="0" fill="#d4dacc"/>
<rect x="457.32" y="183.87" width="0.36" height="0.50" rx="0" fill="#c0c8b4"/>
<rect x="448.39" y="192.82" width="0.78" height="1.20" rx="0" fill="#d4dacc"/>
<rect x="401.99" y="190.64" width="0.32" height="0.64" rx="0" fill="#d4dacc"/>
<rect x="461.93" y="194.88" width="0.34" height="1.32" rx="0" fill="#bcbcbc"/>
<rect x="452.42" y="187.75" width="0.75" height="1.18" rx="0" fill="#aaaaaa"/>
<rect x="407.10" y="181.36" width="0.37" height="1.23" rx="0" fill="#aaaaaa"/>
<rect x="467.20" y="191.23" width="0.65" height="0.72" rx="0" fill="#aaaaaa"/>
<rect x="456.28" y="187.86" width="0.46" height="0.77" rx="0" fill="#c0c8b4"/>
<rect x="416.67" y="190.12" width="0.44" height="0.48" rx="0" fill="#aaaaaa"/>
<rect x="451.44" y="181.35" width="0.36" height="1.56" rx="0" fill="#aaaaaa"/>
<rect x="423.57" y="194.26" width="0.77" height="1.13" rx="0" fill="#c0c8b4"/>
<rect x="436.00" y="181.89" width="0.40" height="0.83" rx="0" fill="#c0c8b4"/>
<rect x="440.16" y="193.47" width="0.66" height="0.51" rx="0" fill="#c8c8c8"/>
<rect x="441.73" y="189.19" width="0.37" height="1.32" rx="0" fill="#bcbcbc"/>
<rect x="455.52" y="181.84" width="0.46" height="1.50" rx="0" fill="#bcbcbc"/>
<rect x="441.02" y="182.28" width="0.32" height="1.20" rx="0" fill="#c0c8b4"/>
<rect x="436.38" y="197.01" width="0.60" height="0.52" rx="0" fill="#aaaaaa"/>
<rect x="459.59" y="190.32" width="0.40" height="0.40" rx="0" fill="#c8c8c8"/>
<rect x="414.72" y="190.73" width="0.48" height="0.96" rx="0" fill="#c0c8b4"/>
<rect x="417.72" y="182.57" width="0.58" height="0.83" rx="0" fill="#aaaaaa"/>
<rect x="454.82" y="184.61" width="0.70" height="1.38" rx="0" fill="#b0b8a8"/>
<rect x="458.84" y="194.02" width="0.61" height="0.88" rx="0" fill="#c0c8b4"/>
<rect x="407.93" y="182.96" width="0.49" height="0.51" rx="0" fill="#bcbcbc"/>
<rect x="404.71" y="191.00" width="0.75" height="0.64" rx="0" fill="#aaaaaa"/>
<rect x="452.62" y="186.35" width="0.54" height="1.04" rx="0" fill="#ccd4c0"/>
<rect x="455.93" y="184.76" width="0.31" height="1.01" rx="0" fill="#c8c8c8"/>
<rect x="442.83" y="193.15" width="0.31" height="1.21" rx="0" fill="#c8c8c8"/>
<rect x="420.28" y="184.85" width="0.54" height="1.24" rx="0" fill="#bcbcbc"/>
<rect x="430.33" y="192.56" width="0.59" height="1.52" rx="0" fill="#c8c8c8"/>
<rect x="446.42" y="187.40" width="0.70" height="0.84" rx="0" fill="#c8c8c8"/>
<rect x="398.97" y="192.16" width="0.40" height="0.74" rx="0" fill="#ccd4c0"/>
<rect x="403.87" y="184.46" width="0.59" height="1.31" rx="0" fill="#b0b8a8"/>
<rect x="427.66" y="196.98" width="0.31" height="1.52" rx="0" fill="#c0c8b4"/>
<rect x="402.76" y="191.79" width="0.63" height="1.55" rx="0" fill="#d4dacc"/>
<rect x="447.70" y="193.74" width="0.67" height="1.13" rx="0" fill="#c0c8b4"/>
<rect x="432.77" y="181.66" width="0.36" height="0.81" rx="0" fill="#aaaaaa"/>
<rect x="437.21" y="185.01" width="0.30" height="0.87" rx="0" fill="#c0c8b4"/>
<rect x="452.31" y="187.24" width="0.40" height="1.21" rx="0" fill="#d4dacc"/>
<rect x="425.73" y="181.78" width="0.64" height="1.06" rx="0" fill="#b0b8a8"/>
<rect x="469.32" y="183.08" width="0.35" height="0.75" rx="0" fill="#aaaaaa"/>
<rect x="417.04" y="189.02" width="0.75" height="0.60" rx="0" fill="#b0b8a8"/>
<rect x="427.65" y="182.41" width="0.63" height="1.08" rx="0" fill="#b0b8a8"/>
<rect x="458.11" y="194.71" width="0.66" height="0.90" rx="0" fill="#bcbcbc"/>
<rect x="432.78" y="188.51" width="0.42" height="0.90" rx="0" fill="#ccd4c0"/>
<rect x="441.69" y="196.93" width="0.39" height="0.44" rx="0" fill="#ccd4c0"/>
<rect x="419.08" y="187.73" width="0.58" height="0.92" rx="0" fill="#d4dacc"/>
<rect x="440.90" y="189.51" width="0.65" height="1.27" rx="0" fill="#ccd4c0"/>
<rect x="467.02" y="181.99" width="0.56" height="0.49" rx="0" fill="#c0c8b4"/>
<rect x="459.57" y="189.48" width="0.76" height="0.67" rx="0" fill="#b0b8a8"/>
<rect x="442.42" y="192.80" width="0.72" height="0.40" rx="0" fill="#b0b8a8"/>
<rect x="408.94" y="181.67" width="0.38" height="1.14" rx="0" fill="#ccd4c0"/>
<rect x="439.47" y="185.75" width="0.46" height="1.32" rx="0" fill="#c0c8b4"/>
<rect x="449.56" y="195.84" width="0.78" height="1.15" rx="0" fill="#aaaaaa"/>
<rect x="405.04" y="181.73" width="0.33" height="0.65" rx="0" fill="#d4dacc"/>
<rect x="410.12" y="195.02" width="0.79" height="1.32" rx="0" fill="#c0c8b4"/>
<rect x="426.94" y="187.52" width="0.49" height="0.54" rx="0" fill="#c8c8c8"/>
<rect x="467.73" y="181.95" width="0.30" height="0.86" rx="0" fill="#d4dacc"/>
<rect x="466.49" y="181.55" width="0.68" height="1.27" rx="0" fill="#d4dacc"/>
<rect x="398.66" y="193.07" width="0.80" height="1.30" rx="0" fill="#c0c8b4"/>
<rect x="464.54" y="184.84" width="0.45" height="1.00" rx="0" fill="#b0b8a8"/>
<rect x="453.43" y="181.64" width="0.35" height="0.89" rx="0" fill="#aaaaaa"/>
<rect x="402.12" y="185.61" width="0.41" height="1.58" rx="0" fill="#d4dacc"/>
<rect x="446.13" y="181.55" width="0.44" height="0.52" rx="0" fill="#bcbcbc"/>
<rect x="429.07" y="182.36" width="0.72" height="1.43" rx="0" fill="#c0c8b4"/>
<rect x="404.20" y="184.46" width="0.71" height="0.41" rx="0" fill="#aaaaaa"/>
<rect x="407.78" y="193.09" width="0.31" height="1.07" rx="0" fill="#bcbcbc"/>
<rect x="460.88" y="181.58" width="0.79" height="0.63" rx="0" fill="#aaaaaa"/>
<rect x="429.81" y="186.26" width="0.34" height="0.73" rx="0" fill="#aaaaaa"/>
<rect x="447.66" y="186.88" width="0.33" height="0.87" rx="0" fill="#aaaaaa"/>
<rect x="434.01" y="194.27" width="0.77" height="1.19" rx="0" fill="#c8c8c8"/>
<rect x="443.92" y="181.38" width="0.31" height="1.32" rx="0" fill="#bcbcbc"/>
<rect x="456.81" y="193.40" width="0.52" height="1.48" rx="0" fill="#ccd4c0"/>
<rect x="470.43" y="191.85" width="0.75" height="0.58" rx="0" fill="#aaaaaa"/>
<rect x="411.42" y="193.65" width="0.34" height="0.84" rx="0" fill="#bcbcbc"/>
<rect x="428.26" y="183.34" width="0.53" height="0.74" rx="0" fill="#b0b8a8"/>
<rect x="443.74" y="192.14" width="0.68" height="0.49" rx="0" fill="#b0b8a8"/>
<rect x="425.33" y="195.18" width="0.74" height="0.64" rx="0" fill="#ccd4c0"/>
<rect x="452.06" y="186.64" width="0.46" height="0.95" rx="0" fill="#bcbcbc"/>
<rect x="414.77" y="195.74" width="0.77" height="0.44" rx="0" fill="#c0c8b4"/>
<rect x="456.80" y="181.62" width="0.37" height="1.18" rx="0" fill="#d4dacc"/>
<rect x="454.09" y="182.11" width="0.56" height="1.57" rx="0" fill="#b0b8a8"/>
<rect x="438.20" y="183.50" width="0.35" height="0.88" rx="0" fill="#d4dacc"/>
<rect x="424.41" y="186.36" width="0.59" height="1.56" rx="0" fill="#c0c8b4"/>
<rect x="467.95" y="182.01" width="0.31" height="0.42" rx="0" fill="#bcbcbc"/>
<rect x="407.25" y="186.42" width="0.65" height="0.41" rx="0" fill="#aaaaaa"/>
<rect x="412.93" y="182.90" width="0.66" height="0.68" rx="0" fill="#d4dacc"/>
<rect x="401.59" y="186.75" width="0.32" height="0.86" rx="0" fill="#d4dacc"/>
<rect x="454.19" y="187.78" width="0.52" height="0.52" rx="0" fill="#ccd4c0"/>
<rect x="465.01" y="184.67" width="0.57" height="1.26" rx="0" fill="#c8c8c8"/>
<rect x="466.82" y="197.49" width="0.45" height="0.60" rx="0" fill="#b0b8a8"/>
<rect x="403.15" y="185.88" width="0.67" height="1.03" rx="0" fill="#bcbcbc"/>
<rect x="404.69" y="186.98" width="0.71" height="0.85" rx="0" fill="#bcbcbc"/>
<rect x="407.57" y="184.39" width="0.55" height="1.08" rx="0" fill="#c0c8b4"/>
<rect x="438.88" y="181.40" width="0.67" height="0.54" rx="0" fill="#c0c8b4"/>
<rect x="424.81" y="184.25" width="0.71" height="0.98" rx="0" fill="#c0c8b4"/>
<rect x="451.60" y="183.24" width="0.71" height="1.15" rx="0" fill="#bcbcbc"/>
<rect x="409.63" y="192.60" width="0.65" height="1.11" rx="0" fill="#bcbcbc"/>
<rect x="464.31" y="193.70" width="0.60" height="1.08" rx="0" fill="#b0b8a8"/>
<rect x="423.42" y="181.88" width="0.53" height="1.23" rx="0" fill="#c8c8c8"/>
<rect x="433.59" y="194.54" width="0.32" height="1.11" rx="0" fill="#ccd4c0"/>
<rect x="427.62" y="187.30" width="0.52" height="1.09" rx="0" fill="#c8c8c8"/>
<rect x="466.78" y="181.79" width="0.33" height="1.22" rx="0" fill="#ccd4c0"/>
<rect x="400.61" y="190.96" width="0.45" height="1.03" rx="0" fill="#c8c8c8"/>
<rect x="450.12" y="181.53" width="0.62" height="1.41" rx="0" fill="#ccd4c0"/>
<rect x="427.07" y="183.77" width="0.53" height="0.76" rx="0" fill="#aaaaaa"/>
<rect x="421.06" y="189.74" width="0.55" height="0.86" rx="0" fill="#b0b8a8"/>
<rect x="413.30" y="183.25" width="0.77" height="0.65" rx="0" fill="#ccd4c0"/>
<rect x="408.47" y="197.64" width="0.62" height="0.93" rx="0" fill="#c8c8c8"/>
<rect x="445.00" y="182.31" width="0.37" height="0.99" rx="0" fill="#b0b8a8"/>
<rect x="434.16" y="196.13" width="0.47" height="0.42" rx="0" fill="#bcbcbc"/>
<rect x="417.05" y="186.63" width="0.57" height="1.48" rx="0" fill="#c8c8c8"/>
<rect x="415.00" y="182.25" width="0.58" height="0.70" rx="0" fill="#d4dacc"/>
<rect x="418.93" y="181.77" width="0.43" height="0.83" rx="0" fill="#c8c8c8"/>
<rect x="416.82" y="189.17" width="0.62" height="1.55" rx="0" fill="#ccd4c0"/>
<rect x="447.85" y="181.79" width="0.35" height="1.44" rx="0" fill="#d4dacc"/>
<rect x="459.14" y="188.25" width="0.32" height="1.57" rx="0" fill="#bcbcbc"/>
<rect x="410.07" y="184.16" width="0.68" height="0.52" rx="0" fill="#aaaaaa"/>
<rect x="421.54" y="181.69" width="0.33" height="1.26" rx="0" fill="#bcbcbc"/>
<rect x="470.42" y="185.24" width="0.33" height="0.48" rx="0" fill="#ccd4c0"/>
<rect x="466.37" y="192.63" width="0.75" height="1.01" rx="0" fill="#ccd4c0"/>
<rect x="431.21" y="181.54" width="0.51" height="1.53" rx="0" fill="#c8c8c8"/>
<rect x="418.67" y="181.77" width="0.56" height="1.52" rx="0" fill="#ccd4c0"/>
<rect x="431.53" y="181.73" width="0.68" height="0.54" rx="0" fill="#c8c8c8"/>
<rect x="404.44" y="189.68" width="0.63" height="0.86" rx="0" fill="#ccd4c0"/>
<rect x="417.37" y="187.66" width="0.79" height="0.91" rx="0" fill="#c0c8b4"/>
<rect x="461.88" y="197.31" width="0.37" height="1.19" rx="0" fill="#c0c8b4"/>
<rect x="464.57" y="184.04" width="0.71" height="1.03" rx="0" fill="#c0c8b4"/>
<rect x="419.85" y="194.17" width="0.62" height="0.77" rx="0" fill="#c8c8c8"/>
<rect x="464.48" y="188.09" width="0.55" height="0.74" rx="0" fill="#b0b8a8"/>
<rect x="443.39" y="186.01" width="0.50" height="1.25" rx="0" fill="#ccd4c0"/>
<rect x="407.30" y="182.58" width="0.65" height="1.27" rx="0" fill="#ccd4c0"/>
<rect x="430.00" y="182.92" width="0.42" height="1.17" rx="0" fill="#b0b8a8"/>
<rect x="430.09" y="188.97" width="0.73" height="0.60" rx="0" fill="#b0b8a8"/>
<rect x="432.67" y="183.68" width="0.74" height="1.15" rx="0" fill="#b0b8a8"/>
<rect x="401.33" y="191.07" width="0.36" height="1.32" rx="0" fill="#d4dacc"/>
<rect x="439.67" y="186.42" width="0.72" height="1.45" rx="0" fill="#c8c8c8"/>
<rect x="464.62" y="183.48" width="0.47" height="1.45" rx="0" fill="#c0c8b4"/>
<rect x="435.75" y="183.63" width="0.49" height="1.33" rx="0" fill="#d4dacc"/>
<rect x="445.32" y="191.87" width="0.66" height="0.40" rx="0" fill="#c0c8b4"/>
<rect x="420.31" y="194.10" width="0.63" height="0.90" rx="0" fill="#aaaaaa"/>
<rect x="440.68" y="186.08" width="0.76" height="1.03" rx="0" fill="#d4dacc"/>
<rect x="449.44" y="188.87" width="0.70" height="0.59" rx="0" fill="#bcbcbc"/>
<rect x="445.09" y="187.44" width="0.54" height="0.96" rx="0" fill="#d4dacc"/>
<rect x="400.65" y="187.37" width="0.54" height="0.54" rx="0" fill="#c0c8b4"/>
<rect x="409.84" y="182.28" width="0.55" height="1.20" rx="0" fill="#bcbcbc"/>
<rect x="445.02" y="184.88" width="0.62" height="0.67" rx="0" fill="#d4dacc"/>
<rect x="464.67" y="182.61" width="0.42" height="0.48" rx="0" fill="#c8c8c8"/>
<rect x="424.74" y="188.24" width="0.41" height="0.51" rx="0" fill="#c8c8c8"/>
<rect x="441.06" y="191.88" width="0.52" height="1.22" rx="0" fill="#ccd4c0"/>
<rect x="462.60" y="187.29" width="0.30" height="0.91" rx="0" fill="#bcbcbc"/>
<rect x="398.56" y="192.07" width="0.35" height="0.95" rx="0" fill="#bcbcbc"/>
<rect x="463.12" y="186.22" width="0.44" height="0.49" rx="0" fill="#aaaaaa"/>
<rect x="455.55" y="192.10" width="0.61" height="1.40" rx="0" fill="#c8c8c8"/>
<rect x="441.61" y="195.45" width="0.73" height="0.65" rx="0" fill="#b0b8a8"/>
<rect x="462.07" y="197.52" width="0.40" height="0.48" rx="0" fill="#d4dacc"/>
<rect x="412.17" y="187.35" width="0.74" height="0.61" rx="0" fill="#bcbcbc"/>
<rect x="397.74" y="185.55" width="0.45" height="1.27" rx="0" fill="#bcbcbc"/>
<rect x="426.08" y="192.20" width="0.36" height="0.86" rx="0" fill="#c0c8b4"/>
<rect x="413.34" y="185.15" width="0.53" height="0.89" rx="0" fill="#ccd4c0"/>
<rect x="417.50" y="187.18" width="0.40" height="1.23" rx="0" fill="#aaaaaa"/>
<rect x="447.35" y="192.00" width="0.74" height="1.50" rx="0" fill="#aaaaaa"/>
<rect x="456.81" y="193.40" width="0.75" height="1.07" rx="0" fill="#aaaaaa"/>
<rect x="449.59" y="185.79" width="0.40" height="0.79" rx="0" fill="#d4dacc"/>
<rect x="449.77" y="194.43" width="0.32" height="1.39" rx="0" fill="#aaaaaa"/>
<rect x="409.26" y="189.24" width="0.65" height="0.92" rx="0" fill="#aaaaaa"/>
<rect x="408.00" y="183.55" width="0.30" height="0.58" rx="0" fill="#bcbcbc"/>
<rect x="466.71" y="191.55" width="0.65" height="0.96" rx="0" fill="#aaaaaa"/>
<rect x="458.38" y="184.05" width="0.76" height="0.50" rx="0" fill="#c0c8b4"/>
<rect x="424.33" y="197.49" width="0.66" height="0.84" rx="0" fill="#bcbcbc"/>
<rect x="416.82" y="188.04" width="0.74" height="0.80" rx="0" fill="#c8c8c8"/>
<rect x="427.61" y="185.01" width="0.58" height="1.57" rx="0" fill="#ccd4c0"/>
<rect x="414.26" y="183.64" width="0.71" height="0.49" rx="0" fill="#c8c8c8"/>
<rect x="432.84" y="181.61" width="0.63" height="0.78" rx="0" fill="#ccd4c0"/>
<rect x="450.81" y="185.22" width="0.46" height="1.43" rx="0" fill="#aaaaaa"/>
<rect x="400.54" y="189.17" width="0.69" height="1.51" rx="0" fill="#ccd4c0"/>
<rect x="453.31" y="194.53" width="0.64" height="0.50" rx="0" fill="#bcbcbc"/>
<rect x="434.96" y="186.22" width="0.52" height="0.58" rx="0" fill="#d4dacc"/>
<rect x="442.47" y="188.06" width="0.78" height="1.02" rx="0" fill="#d4dacc"/>
<rect x="458.20" y="188.39" width="0.34" height="0.85" rx="0" fill="#bcbcbc"/>
<rect x="404.50" y="184.32" width="0.77" height="0.51" rx="0" fill="#d4dacc"/>
<rect x="398.15" y="181.60" width="0.70" height="1.60" rx="0" fill="#8e9a86"/>
<rect x="398.20" y="184.00" width="0.60" height="1.20" rx="0" fill="#b2bda8"/>
<rect x="403.95" y="181.60" width="0.70" height="1.60" rx="0" fill="#8e9a86"/>
<rect x="404.00" y="184.00" width="0.60" height="1.20" rx="0" fill="#b2bda8"/>
<rect x="409.35" y="181.60" width="0.70" height="1.60" rx="0" fill="#8e9a86"/>
<rect x="409.40" y="184.00" width="0.60" height="1.20" rx="0" fill="#b2bda8"/>
<rect x="413.95" y="181.60" width="0.70" height="1.60" rx="0" fill="#8e9a86"/>
<rect x="414.00" y="184.00" width="0.60" height="1.20" rx="0" fill="#b2bda8"/>
<rect x="417.85" y="181.60" width="0.70" height="1.60" rx="0" fill="#8e9a86"/>
<rect x="417.90" y="184.00" width="0.60" height="1.20" rx="0" fill="#b2bda8"/>
<rect x="421.65" y="181.60" width="0.70" height="1.60" rx="0" fill="#8e9a86"/>
<rect x="421.70" y="184.00" width="0.60" height="1.20" rx="0" fill="#b2bda8"/>
<rect x="427.85" y="181.60" width="0.70" height="1.60" rx="0" fill="#8e9a86"/>
<rect x="427.90" y="184.00" width="0.60" height="1.20" rx="0" fill="#b2bda8"/>
<rect x="433.15" y="181.60" width="0.70" height="1.60" rx="0" fill="#8e9a86"/>
<rect x="433.20" y="184.00" width="0.60" height="1.20" rx="0" fill="#b2bda8"/>
<rect x="438.25" y="181.60" width="0.70" height="1.60" rx="0" fill="#8e9a86"/>
<rect x="438.30" y="184.00" width="0.60" height="1.20" rx="0" fill="#b2bda8"/>
<rect x="442.85" y="181.60" width="0.70" height="1.60" rx="0" fill="#8e9a86"/>
<rect x="442.90" y="184.00" width="0.60" height="1.20" rx="0" fill="#b2bda8"/>
<rect x="447.65" y="181.60" width="0.70" height="1.60" rx="0" fill="#8e9a86"/>
<rect x="447.70" y="184.00" width="0.60" height="1.20" rx="0" fill="#b2bda8"/>
<rect x="452.15" y="181.60" width="0.70" height="1.60" rx="0" fill="#8e9a86"/>
<rect x="452.20" y="184.00" width="0.60" height="1.20" rx="0" fill="#b2bda8"/>
<rect x="456.65" y="181.60" width="0.70" height="1.60" rx="0" fill="#8e9a86"/>
<rect x="456.70" y="184.00" width="0.60" height="1.20" rx="0" fill="#b2bda8"/>
<rect x="461.15" y="181.60" width="0.70" height="1.60" rx="0" fill="#8e9a86"/>
<rect x="461.20" y="184.00" width="0.60" height="1.20" rx="0" fill="#b2bda8"/>
<rect x="465.65" y="181.60" width="0.70" height="1.60" rx="0" fill="#8e9a86"/>
<rect x="465.70" y="184.00" width="0.60" height="1.20" rx="0" fill="#b2bda8"/>
<rect x="397.50" y="227.20" width="73.00" height="7.20" rx="0" fill="#f7f9f1"/>
<rect x="460.70" y="229.69" width="0.35" height="1.05" rx="0" fill="#b9c78e"/>
<rect x="421.62" y="232.00" width="0.53" height="1.98" rx="0" fill="#d2dcb0"/>
<rect x="440.83" y="233.43" width="0.45" height="1.28" rx="0" fill="#dfe6c6"/>
<rect x="434.96" y="227.85" width="0.56" height="2.00" rx="0" fill="#b9c78e"/>
<rect x="445.29" y="231.51" width="0.50" height="1.22" rx="0" fill="#c4d09c"/>
<rect x="402.56" y="229.46" width="0.32" height="1.84" rx="0" fill="#b9c78e"/>
<rect x="441.44" y="231.33" width="0.39" height="1.26" rx="0" fill="#dfe6c6"/>
<rect x="400.98" y="227.96" width="0.68" height="2.04" rx="0" fill="#d2dcb0"/>
<rect x="464.40" y="229.26" width="0.45" height="1.23" rx="0" fill="#c4d09c"/>
<rect x="400.46" y="230.40" width="0.38" height="1.06" rx="0" fill="#b9c78e"/>
<rect x="458.60" y="231.54" width="0.72" height="0.80" rx="0" fill="#b9c78e"/>
<rect x="469.77" y="233.15" width="0.34" height="1.24" rx="0" fill="#dfe6c6"/>
<rect x="424.68" y="232.69" width="0.77" height="2.10" rx="0" fill="#b9c78e"/>
<rect x="426.94" y="230.35" width="0.43" height="0.75" rx="0" fill="#b9c78e"/>
<rect x="423.73" y="228.47" width="0.79" height="0.52" rx="0" fill="#b9c78e"/>
<rect x="420.71" y="228.56" width="0.38" height="2.05" rx="0" fill="#b9c78e"/>
<rect x="406.52" y="229.85" width="0.40" height="0.83" rx="0" fill="#b9c78e"/>
<rect x="415.55" y="230.70" width="0.59" height="1.36" rx="0" fill="#d2dcb0"/>
<rect x="454.06" y="229.34" width="0.47" height="1.54" rx="0" fill="#c4d09c"/>
<rect x="458.98" y="227.29" width="0.40" height="0.56" rx="0" fill="#b9c78e"/>
<rect x="435.88" y="227.52" width="0.41" height="2.18" rx="0" fill="#dfe6c6"/>
<rect x="413.91" y="230.39" width="0.32" height="0.71" rx="0" fill="#c4d09c"/>
<rect x="405.82" y="232.05" width="0.36" height="2.03" rx="0" fill="#d2dcb0"/>
<rect x="453.60" y="233.47" width="0.59" height="2.07" rx="0" fill="#dfe6c6"/>
<rect x="454.35" y="228.99" width="0.38" height="0.96" rx="0" fill="#d2dcb0"/>
<rect x="426.17" y="228.89" width="0.78" height="1.93" rx="0" fill="#dfe6c6"/>
<rect x="431.83" y="228.83" width="0.33" height="1.77" rx="0" fill="#c4d09c"/>
<rect x="425.60" y="231.21" width="0.44" height="0.56" rx="0" fill="#dfe6c6"/>
<rect x="398.26" y="228.23" width="0.67" height="2.07" rx="0" fill="#dfe6c6"/>
<rect x="424.51" y="233.90" width="0.54" height="1.92" rx="0" fill="#d2dcb0"/>
<rect x="440.65" y="229.46" width="0.50" height="1.04" rx="0" fill="#c4d09c"/>
<rect x="459.56" y="232.73" width="0.45" height="0.75" rx="0" fill="#d2dcb0"/>
<rect x="440.61" y="228.59" width="0.76" height="1.46" rx="0" fill="#d2dcb0"/>
<rect x="414.45" y="228.64" width="0.63" height="1.49" rx="0" fill="#dfe6c6"/>
<rect x="458.60" y="228.17" width="0.68" height="0.79" rx="0" fill="#b9c78e"/>
<rect x="413.97" y="230.27" width="0.45" height="0.93" rx="0" fill="#c4d09c"/>
<rect x="440.47" y="232.80" width="0.63" height="1.65" rx="0" fill="#dfe6c6"/>
<rect x="438.87" y="233.81" width="0.80" height="0.52" rx="0" fill="#d2dcb0"/>
<rect x="438.30" y="231.44" width="0.63" height="1.03" rx="0" fill="#dfe6c6"/>
<rect x="458.35" y="233.16" width="0.60" height="1.07" rx="0" fill="#c4d09c"/>
<rect x="430.12" y="231.12" width="0.40" height="0.67" rx="0" fill="#d2dcb0"/>
<rect x="463.76" y="228.46" width="0.57" height="0.84" rx="0" fill="#c4d09c"/>
<rect x="417.96" y="232.99" width="0.44" height="1.59" rx="0" fill="#dfe6c6"/>
<rect x="448.04" y="231.57" width="0.31" height="0.89" rx="0" fill="#dfe6c6"/>
<rect x="456.04" y="229.85" width="0.70" height="0.61" rx="0" fill="#b9c78e"/>
<rect x="432.93" y="228.25" width="0.63" height="1.73" rx="0" fill="#b9c78e"/>
<rect x="465.59" y="227.63" width="0.79" height="1.18" rx="0" fill="#d2dcb0"/>
<rect x="412.49" y="232.60" width="0.43" height="1.36" rx="0" fill="#c4d09c"/>
<rect x="424.48" y="231.52" width="0.61" height="1.64" rx="0" fill="#b9c78e"/>
<rect x="448.96" y="232.17" width="0.65" height="0.89" rx="0" fill="#d2dcb0"/>
<rect x="418.38" y="234.06" width="0.51" height="1.32" rx="0" fill="#c4d09c"/>
<rect x="453.10" y="230.48" width="0.77" height="1.25" rx="0" fill="#c4d09c"/>
<rect x="469.39" y="229.47" width="0.66" height="2.13" rx="0" fill="#d2dcb0"/>
<rect x="406.84" y="230.32" width="0.53" height="1.61" rx="0" fill="#d2dcb0"/>
<rect x="459.92" y="228.23" width="0.54" height="1.55" rx="0" fill="#c4d09c"/>
<rect x="467.01" y="232.82" width="0.71" height="0.61" rx="0" fill="#b9c78e"/>
<rect x="429.76" y="228.49" width="0.36" height="0.53" rx="0" fill="#b9c78e"/>
<rect x="436.28" y="231.87" width="0.62" height="1.97" rx="0" fill="#c4d09c"/>
<rect x="467.87" y="230.65" width="0.55" height="1.62" rx="0" fill="#dfe6c6"/>
<rect x="401.53" y="233.91" width="0.46" height="1.35" rx="0" fill="#d2dcb0"/>
<rect x="412.65" y="231.04" width="0.43" height="2.15" rx="0" fill="#c4d09c"/>
<rect x="456.46" y="228.89" width="0.63" height="1.47" rx="0" fill="#b9c78e"/>
<rect x="414.80" y="230.10" width="0.41" height="1.24" rx="0" fill="#dfe6c6"/>
<rect x="406.60" y="228.24" width="0.46" height="1.81" rx="0" fill="#dfe6c6"/>
<rect x="453.09" y="234.15" width="0.35" height="1.45" rx="0" fill="#dfe6c6"/>
<rect x="406.46" y="230.87" width="0.43" height="0.74" rx="0" fill="#d2dcb0"/>
<rect x="405.28" y="229.30" width="0.37" height="2.08" rx="0" fill="#c4d09c"/>
<rect x="420.84" y="233.82" width="0.32" height="2.02" rx="0" fill="#b9c78e"/>
<rect x="425.58" y="228.00" width="0.72" height="1.39" rx="0" fill="#b9c78e"/>
<rect x="451.08" y="232.88" width="0.30" height="1.02" rx="0" fill="#b9c78e"/>
<rect x="407.98" y="232.24" width="0.61" height="1.12" rx="0" fill="#dfe6c6"/>
<rect x="418.02" y="230.26" width="0.78" height="0.51" rx="0" fill="#b9c78e"/>
<rect x="420.35" y="233.83" width="0.54" height="1.02" rx="0" fill="#d2dcb0"/>
<rect x="415.59" y="230.16" width="0.35" height="0.90" rx="0" fill="#b9c78e"/>
<rect x="435.70" y="231.91" width="0.64" height="1.39" rx="0" fill="#dfe6c6"/>
<rect x="412.54" y="232.18" width="0.31" height="1.55" rx="0" fill="#b9c78e"/>
<rect x="398.74" y="231.92" width="0.47" height="0.90" rx="0" fill="#dfe6c6"/>
<rect x="463.24" y="229.01" width="0.41" height="1.33" rx="0" fill="#dfe6c6"/>
<rect x="402.94" y="227.80" width="0.75" height="1.48" rx="0" fill="#dfe6c6"/>
<rect x="469.10" y="230.23" width="0.64" height="1.30" rx="0" fill="#d2dcb0"/>
<rect x="445.83" y="227.55" width="0.51" height="1.92" rx="0" fill="#c4d09c"/>
<rect x="413.05" y="228.84" width="0.33" height="1.39" rx="0" fill="#c4d09c"/>
<rect x="414.05" y="233.82" width="0.78" height="1.60" rx="0" fill="#c4d09c"/>
<rect x="430.02" y="228.34" width="0.48" height="0.70" rx="0" fill="#b9c78e"/>
<rect x="419.40" y="234.06" width="0.46" height="2.07" rx="0" fill="#c4d09c"/>
<rect x="403.28" y="229.16" width="0.63" height="2.04" rx="0" fill="#d2dcb0"/>
<rect x="451.52" y="229.80" width="0.69" height="1.94" rx="0" fill="#b9c78e"/>
<rect x="435.16" y="229.81" width="0.43" height="1.20" rx="0" fill="#c4d09c"/>
<rect x="440.97" y="232.46" width="0.77" height="0.55" rx="0" fill="#d2dcb0"/>
<rect x="404.85" y="228.57" width="0.67" height="1.78" rx="0" fill="#b9c78e"/>
<rect x="446.37" y="228.00" width="0.80" height="1.13" rx="0" fill="#b9c78e"/>
<rect x="406.11" y="227.46" width="0.78" height="2.12" rx="0" fill="#dfe6c6"/>
<rect x="409.30" y="229.53" width="0.72" height="1.03" rx="0" fill="#dfe6c6"/>
<rect x="410.27" y="233.39" width="0.76" height="0.58" rx="0" fill="#b9c78e"/>
<rect x="421.62" y="227.81" width="0.55" height="2.14" rx="0" fill="#d2dcb0"/>
<rect x="419.77" y="231.45" width="0.55" height="1.33" rx="0" fill="#c4d09c"/>
<rect x="432.07" y="233.83" width="0.52" height="1.85" rx="0" fill="#d2dcb0"/>
<rect x="454.86" y="232.18" width="0.40" height="1.21" rx="0" fill="#c4d09c"/>
<rect x="434.98" y="232.15" width="0.59" height="1.69" rx="0" fill="#d2dcb0"/>
<rect x="459.03" y="233.25" width="0.58" height="2.10" rx="0" fill="#d2dcb0"/>
<rect x="448.47" y="228.73" width="0.79" height="0.81" rx="0" fill="#dfe6c6"/>
<rect x="418.69" y="233.42" width="0.60" height="1.71" rx="0" fill="#c4d09c"/>
<rect x="441.57" y="230.59" width="0.80" height="1.18" rx="0" fill="#b9c78e"/>
<rect x="421.20" y="229.06" width="0.47" height="2.16" rx="0" fill="#b9c78e"/>
<rect x="431.93" y="231.13" width="0.63" height="0.95" rx="0" fill="#d2dcb0"/>
<rect x="455.42" y="227.78" width="0.35" height="1.19" rx="0" fill="#d2dcb0"/>
<rect x="459.42" y="234.11" width="0.55" height="1.22" rx="0" fill="#b9c78e"/>
<rect x="441.31" y="229.45" width="0.63" height="0.94" rx="0" fill="#c4d09c"/>
<rect x="440.37" y="231.23" width="0.36" height="0.72" rx="0" fill="#d2dcb0"/>
<rect x="423.17" y="228.10" width="0.71" height="1.77" rx="0" fill="#d2dcb0"/>
<rect x="397.90" y="198.01" width="0.53" height="0.36" rx="0" fill="#c4c4c4"/>
<rect x="430.51" y="262.39" width="0.38" height="0.30" rx="0" fill="#c4c4c4"/>
<rect x="421.48" y="273.10" width="0.48" height="0.60" rx="0" fill="#c4c4c4"/>
<rect x="379.50" y="266.34" width="0.43" height="0.47" rx="0" fill="#c4c4c4"/>
<rect x="388.06" y="209.27" width="0.46" height="0.48" rx="0" fill="#c4c4c4"/>
<rect x="458.51" y="251.85" width="0.45" height="0.50" rx="0" fill="#c4c4c4"/>
<rect x="425.84" y="229.50" width="0.38" height="0.50" rx="0" fill="#c4c4c4"/>
<rect x="397.88" y="187.25" width="0.35" height="0.41" rx="0" fill="#c4c4c4"/>
<rect x="432.64" y="257.80" width="0.45" height="0.54" rx="0" fill="#c4c4c4"/>
<rect x="390.87" y="223.02" width="0.53" height="0.50" rx="0" fill="#c4c4c4"/>
<rect x="402.40" y="284.39" width="0.31" height="0.46" rx="0" fill="#c4c4c4"/>
<rect x="452.56" y="283.21" width="0.36" height="0.54" rx="0" fill="#c4c4c4"/>
<rect x="414.84" y="289.61" width="0.40" height="0.50" rx="0" fill="#c4c4c4"/>
<rect x="427.46" y="295.92" width="0.40" height="0.42" rx="0" fill="#c4c4c4"/>
<rect x="367.47" y="260.94" width="0.32" height="0.55" rx="0" fill="#c4c4c4"/>
<rect x="369.95" y="204.73" width="0.58" height="0.45" rx="0" fill="#c4c4c4"/>
<rect x="440.55" y="222.40" width="0.37" height="0.41" rx="0" fill="#c4c4c4"/>
<rect x="467.00" y="204.88" width="0.57" height="0.56" rx="0" fill="#c4c4c4"/>
<rect x="431.94" y="213.29" width="0.52" height="0.57" rx="0" fill="#c4c4c4"/>
<rect x="421.78" y="208.09" width="0.48" height="0.59" rx="0" fill="#c4c4c4"/>
<rect x="421.53" y="200.03" width="0.36" height="0.49" rx="0" fill="#c4c4c4"/>
<rect x="358.56" y="183.15" width="0.41" height="0.38" rx="0" fill="#c4c4c4"/>
<rect x="410.25" y="191.37" width="0.47" height="0.50" rx="0" fill="#c4c4c4"/>
<rect x="389.77" y="249.31" width="0.46" height="0.54" rx="0" fill="#c4c4c4"/>
<rect x="419.85" y="255.75" width="0.47" height="0.55" rx="0" fill="#c4c4c4"/>
<rect x="364.19" y="195.99" width="0.56" height="0.55" rx="0" fill="#c4c4c4"/>
<rect x="353.93" y="284.93" width="0.48" height="0.56" rx="0" fill="#c4c4c4"/>
<rect x="434.33" y="225.89" width="0.33" height="0.53" rx="0" fill="#c4c4c4"/>
<rect x="435.36" y="236.61" width="0.38" height="0.41" rx="0" fill="#c4c4c4"/>
<rect x="461.57" y="235.81" width="0.36" height="0.60" rx="0" fill="#c4c4c4"/>
<rect x="466.49" y="203.15" width="0.36" height="0.52" rx="0" fill="#c4c4c4"/>
<rect x="397.88" y="237.04" width="0.51" height="0.38" rx="0" fill="#c4c4c4"/>
<rect x="421.95" y="206.27" width="0.37" height="0.46" rx="0" fill="#c4c4c4"/>
<rect x="402.62" y="284.98" width="0.34" height="0.57" rx="0" fill="#c4c4c4"/>
<rect x="383.38" y="222.09" width="0.33" height="0.39" rx="0" fill="#c4c4c4"/>
<rect x="466.77" y="224.27" width="0.55" height="0.59" rx="0" fill="#c4c4c4"/>
<rect x="433.68" y="204.01" width="0.43" height="0.35" rx="0" fill="#c4c4c4"/>
<rect x="381.96" y="221.18" width="0.35" height="0.50" rx="0" fill="#c4c4c4"/>
<rect x="413.64" y="216.16" width="0.38" height="0.34" rx="0" fill="#c4c4c4"/>
<rect x="366.27" y="233.01" width="0.32" height="0.46" rx="0" fill="#c4c4c4"/>
<rect x="382.62" y="271.03" width="0.38" height="0.56" rx="0" fill="#c4c4c4"/>
<rect x="462.66" y="288.98" width="0.37" height="0.58" rx="0" fill="#c4c4c4"/>
<rect x="407.73" y="283.85" width="0.44" height="0.46" rx="0" fill="#c4c4c4"/>
<rect x="383.01" y="269.35" width="0.41" height="0.57" rx="0" fill="#c4c4c4"/>
<rect x="435.07" y="231.90" width="0.31" height="0.38" rx="0" fill="#c4c4c4"/>
<rect x="401.40" y="225.22" width="0.47" height="0.30" rx="0" fill="#c4c4c4"/>
<rect x="407.24" y="284.75" width="0.59" height="0.51" rx="0" fill="#c4c4c4"/>
<rect x="432.64" y="251.72" width="0.60" height="0.54" rx="0" fill="#c4c4c4"/>
<rect x="406.39" y="239.50" width="0.58" height="0.47" rx="0" fill="#c4c4c4"/>
<rect x="422.40" y="218.06" width="0.50" height="0.45" rx="0" fill="#c4c4c4"/>
<rect x="462.44" y="296.97" width="0.60" height="0.59" rx="0" fill="#c4c4c4"/>
<rect x="358.05" y="191.30" width="0.40" height="0.55" rx="0" fill="#c4c4c4"/>
<rect x="417.76" y="212.27" width="0.33" height="0.38" rx="0" fill="#c4c4c4"/>
<rect x="367.77" y="199.37" width="0.52" height="0.36" rx="0" fill="#c4c4c4"/>
<rect x="372.36" y="253.67" width="0.34" height="0.55" rx="0" fill="#c4c4c4"/>
<rect x="428.42" y="283.07" width="0.52" height="0.52" rx="0" fill="#c4c4c4"/>
<rect x="384.02" y="231.20" width="0.41" height="0.42" rx="0" fill="#c4c4c4"/>
<rect x="458.83" y="232.71" width="0.54" height="0.49" rx="0" fill="#c4c4c4"/>
<rect x="362.59" y="207.00" width="0.47" height="0.54" rx="0" fill="#c4c4c4"/>
<rect x="380.04" y="211.47" width="0.41" height="0.44" rx="0" fill="#c4c4c4"/>
<rect x="401.72" y="288.44" width="0.48" height="0.38" rx="0" fill="#c4c4c4"/>
<rect x="392.92" y="240.88" width="0.35" height="0.42" rx="0" fill="#c4c4c4"/>
<rect x="360.53" y="257.83" width="0.56" height="0.57" rx="0" fill="#c4c4c4"/>
<rect x="422.27" y="226.85" width="0.47" height="0.47" rx="0" fill="#c4c4c4"/>
<rect x="373.47" y="244.60" width="0.45" height="0.36" rx="0" fill="#c4c4c4"/>
<rect x="404.37" y="278.32" width="0.49" height="0.40" rx="0" fill="#c4c4c4"/>
<rect x="380.67" y="254.85" width="0.47" height="0.39" rx="0" fill="#c4c4c4"/>
<rect x="407.65" y="229.37" width="0.49" height="0.56" rx="0" fill="#c4c4c4"/>
<rect x="396.24" y="244.34" width="0.47" height="0.50" rx="0" fill="#c4c4c4"/>
<rect x="381.25" y="211.15" width="0.58" height="0.34" rx="0" fill="#c4c4c4"/>
<rect x="432.00" y="212.66" width="0.45" height="0.44" rx="0" fill="#c4c4c4"/>
<rect x="380.73" y="203.08" width="0.59" height="0.31" rx="0" fill="#c4c4c4"/>
<rect x="369.54" y="267.23" width="0.41" height="0.36" rx="0" fill="#c4c4c4"/>
<rect x="443.05" y="294.90" width="0.36" height="0.51" rx="0" fill="#c4c4c4"/>
<rect x="398.99" y="296.74" width="0.48" height="0.57" rx="0" fill="#c4c4c4"/>
<rect x="429.92" y="198.01" width="0.43" height="0.51" rx="0" fill="#c4c4c4"/>
<rect x="370.74" y="193.04" width="0.60" height="0.58" rx="0" fill="#c4c4c4"/>
<rect x="428.49" y="190.24" width="0.51" height="0.60" rx="0" fill="#c4c4c4"/>
<rect x="443.76" y="264.55" width="0.43" height="0.49" rx="0" fill="#c4c4c4"/>
<rect x="460.46" y="239.94" width="0.32" height="0.34" rx="0" fill="#c4c4c4"/>
<rect x="463.47" y="263.88" width="0.58" height="0.34" rx="0" fill="#c4c4c4"/>
<rect x="365.22" y="260.88" width="0.43" height="0.44" rx="0" fill="#c4c4c4"/>
<rect x="379.99" y="270.01" width="0.53" height="0.52" rx="0" fill="#c4c4c4"/>
<rect x="402.86" y="238.96" width="0.42" height="0.44" rx="0" fill="#c4c4c4"/>
<rect x="390.79" y="236.46" width="0.59" height="0.54" rx="0" fill="#c4c4c4"/>
<rect x="368.69" y="259.45" width="0.55" height="0.40" rx="0" fill="#c4c4c4"/>
<rect x="456.12" y="290.20" width="0.32" height="0.49" rx="0" fill="#c4c4c4"/>
<rect x="397.16" y="236.18" width="0.46" height="0.56" rx="0" fill="#c4c4c4"/>
<rect x="426.17" y="284.27" width="0.37" height="0.54" rx="0" fill="#c4c4c4"/>
<rect x="398.45" y="203.80" width="0.54" height="0.47" rx="0" fill="#c4c4c4"/>
<line x1="356.90" y1="211.10" x2="361.70" y2="206.40" stroke="#707070" stroke-width="0.5"/>
<line x1="392.70" y1="223.00" x2="400.60" y2="217.50" stroke="#707070" stroke-width="0.5"/>
<line x1="395.00" y1="213.50" x2="397.50" y2="216.00" stroke="#707070" stroke-width="0.5"/>
<line x1="360.90" y1="228.60" x2="361.70" y2="233.40" stroke="#707070" stroke-width="0.5"/>
<line x1="362.50" y1="235.80" x2="365.30" y2="239.70" stroke="#707070" stroke-width="0.5"/>
<line x1="377.20" y1="247.20" x2="380.60" y2="243.60" stroke="#707070" stroke-width="0.5"/>
<line x1="383.00" y1="251.50" x2="386.10" y2="248.40" stroke="#707070" stroke-width="0.5"/>
<line x1="400.60" y1="239.70" x2="403.00" y2="242.10" stroke="#707070" stroke-width="0.5"/>
<line x1="353.30" y1="258.10" x2="355.70" y2="261.50" stroke="#707070" stroke-width="0.5"/>
<line x1="365.30" y1="253.40" x2="368.60" y2="256.70" stroke="#707070" stroke-width="0.5"/>
<line x1="360.00" y1="252.20" x2="361.90" y2="252.60" stroke="#707070" stroke-width="0.5"/>
<line x1="374.40" y1="262.90" x2="376.70" y2="266.30" stroke="#707070" stroke-width="0.5"/>
<line x1="369.60" y1="269.60" x2="371.50" y2="267.70" stroke="#707070" stroke-width="0.5"/>
<line x1="355.50" y1="278.50" x2="357.40" y2="276.50" stroke="#707070" stroke-width="0.5"/>
<line x1="371.80" y1="285.20" x2="374.60" y2="281.30" stroke="#707070" stroke-width="0.5"/>
<line x1="380.40" y1="294.70" x2="383.20" y2="297.00" stroke="#707070" stroke-width="0.5"/>
<line x1="386.10" y1="289.00" x2="389.00" y2="291.80" stroke="#707070" stroke-width="0.5"/>
<line x1="404.30" y1="276.50" x2="407.10" y2="273.70" stroke="#707070" stroke-width="0.5"/>
<line x1="387.50" y1="276.80" x2="388.60" y2="278.00" stroke="#707070" stroke-width="0.5"/>
<line x1="401.80" y1="296.20" x2="403.00" y2="297.20" stroke="#707070" stroke-width="0.5"/>
<line x1="395.50" y1="201.50" x2="397.80" y2="199.40" stroke="#707070" stroke-width="0.5"/>
<text transform="matrix(0.00087 -1.00000 1.00000 0.00087 349.600 191.900)" x="0" y="0.714" font-size="2.1" fill="#333" text-anchor="middle" textLength="4.80" lengthAdjust="spacingAndGlyphs" stroke="#333" stroke-width="0.07">67M</text>
<text transform="matrix(0.00087 -1.00000 1.00000 0.00087 349.600 203.750)" x="0" y="0.714" font-size="2.1" fill="#333" text-anchor="middle" textLength="4.80" lengthAdjust="spacingAndGlyphs" stroke="#333" stroke-width="0.07">134M</text>
<text transform="matrix(0.00087 -1.00000 1.00000 0.00087 349.600 215.600)" x="0" y="0.714" font-size="2.1" fill="#333" text-anchor="middle" textLength="4.80" lengthAdjust="spacingAndGlyphs" stroke="#333" stroke-width="0.07">201M</text>
<text transform="matrix(0.00087 -1.00000 1.00000 0.00087 349.600 227.450)" x="0" y="0.714" font-size="2.1" fill="#333" text-anchor="middle" textLength="4.80" lengthAdjust="spacingAndGlyphs" stroke="#333" stroke-width="0.07">268M</text>
<text transform="matrix(0.00087 -1.00000 1.00000 0.00087 349.600 239.300)" x="0" y="0.714" font-size="2.1" fill="#333" text-anchor="middle" textLength="4.80" lengthAdjust="spacingAndGlyphs" stroke="#333" stroke-width="0.07">335M</text>
<text transform="matrix(0.00087 -1.00000 1.00000 0.00087 349.600 251.150)" x="0" y="0.714" font-size="2.1" fill="#333" text-anchor="middle" textLength="4.80" lengthAdjust="spacingAndGlyphs" stroke="#333" stroke-width="0.07">402M</text>
<text transform="matrix(0.00087 -1.00000 1.00000 0.00087 349.600 263.000)" x="0" y="0.714" font-size="2.1" fill="#333" text-anchor="middle" textLength="4.80" lengthAdjust="spacingAndGlyphs" stroke="#333" stroke-width="0.07">469M</text>
<text transform="matrix(0.00087 -1.00000 1.00000 0.00087 349.600 274.850)" x="0" y="0.714" font-size="2.1" fill="#333" text-anchor="middle" textLength="4.80" lengthAdjust="spacingAndGlyphs" stroke="#333" stroke-width="0.07">536M</text>
<text transform="matrix(0.00087 -1.00000 1.00000 0.00087 349.600 286.700)" x="0" y="0.714" font-size="2.1" fill="#333" text-anchor="middle" textLength="4.80" lengthAdjust="spacingAndGlyphs" stroke="#333" stroke-width="0.07">603M</text>
<text transform="matrix(1.0 0.0012 0 1 364.300 303.014)" font-size="2.1" fill="#333" text-anchor="middle" textLength="4.80" lengthAdjust="spacingAndGlyphs" stroke="#333" stroke-width="0.07">67M</text>
<text transform="matrix(1.0 0.0012 0 1 375.980 303.014)" font-size="2.1" fill="#333" text-anchor="middle" textLength="4.80" lengthAdjust="spacingAndGlyphs" stroke="#333" stroke-width="0.07">134M</text>
<text transform="matrix(1.0 0.0012 0 1 387.660 303.014)" font-size="2.1" fill="#333" text-anchor="middle" textLength="4.80" lengthAdjust="spacingAndGlyphs" stroke="#333" stroke-width="0.07">201M</text>
<text transform="matrix(1.0 0.0012 0 1 399.340 303.014)" font-size="2.1" fill="#333" text-anchor="middle" textLength="4.80" lengthAdjust="spacingAndGlyphs" stroke="#333" stroke-width="0.07">268M</text>
<text transform="matrix(1.0 0.0012 0 1 411.020 303.014)" font-size="2.1" fill="#333" text-anchor="middle" textLength="4.80" lengthAdjust="spacingAndGlyphs" stroke="#333" stroke-width="0.07">335M</text>
<text transform="matrix(1.0 0.0012 0 1 422.700 303.014)" font-size="2.1" fill="#333" text-anchor="middle" textLength="4.80" lengthAdjust="spacingAndGlyphs" stroke="#333" stroke-width="0.07">402M</text>
<text transform="matrix(1.0 0.0012 0 1 434.380 303.014)" font-size="2.1" fill="#333" text-anchor="middle" textLength="4.80" lengthAdjust="spacingAndGlyphs" stroke="#333" stroke-width="0.07">469M</text>
<text transform="matrix(1.0 0.0012 0 1 446.060 303.014)" font-size="2.1" fill="#333" text-anchor="middle" textLength="4.80" lengthAdjust="spacingAndGlyphs" stroke="#333" stroke-width="0.07">536M</text>
<text transform="matrix(1.0 0.0012 0 1 457.740 303.014)" font-size="2.1" fill="#333" text-anchor="middle" textLength="4.80" lengthAdjust="spacingAndGlyphs" stroke="#333" stroke-width="0.07">603M</text>
<text transform="matrix(-0.00087 1.00000 -1.00000 -0.00087 472.300 186.500)" x="0" y="0.646" font-size="1.9" fill="#555" text-anchor="middle" textLength="7.80" lengthAdjust="spacingAndGlyphs" stroke="#555" stroke-width="0.07">Chr1_Apl</text>
<text transform="matrix(-0.00087 1.00000 -1.00000 -0.00087 472.300 195.100)" x="0" y="0.646" font-size="1.9" fill="#555" text-anchor="middle" textLength="7.80" lengthAdjust="spacingAndGlyphs" stroke="#555" stroke-width="0.07">Chr2_Apl</text>
<text transform="matrix(-0.00087 1.00000 -1.00000 -0.00087 472.300 203.700)" x="0" y="0.646" font-size="1.9" fill="#555" text-anchor="middle" textLength="7.80" lengthAdjust="spacingAndGlyphs" stroke="#555" stroke-width="0.07">Chr3_Apl</text>
<text transform="matrix(-0.00087 1.00000 -1.00000 -0.00087 472.300 212.300)" x="0" y="0.646" font-size="1.9" fill="#555" text-anchor="middle" textLength="7.80" lengthAdjust="spacingAndGlyphs" stroke="#555" stroke-width="0.07">Chr4_Apl</text>
<text transform="matrix(-0.00087 1.00000 -1.00000 -0.00087 472.300 220.900)" x="0" y="0.646" font-size="1.9" fill="#555" text-anchor="middle" textLength="7.80" lengthAdjust="spacingAndGlyphs" stroke="#555" stroke-width="0.07">Chr5_Apl</text>
<text transform="matrix(-0.00087 1.00000 -1.00000 -0.00087 472.300 229.500)" x="0" y="0.646" font-size="1.9" fill="#555" text-anchor="middle" textLength="7.80" lengthAdjust="spacingAndGlyphs" stroke="#555" stroke-width="0.07">Chr6_Apl</text>
<text transform="matrix(-0.00087 1.00000 -1.00000 -0.00087 472.300 238.100)" x="0" y="0.646" font-size="1.9" fill="#555" text-anchor="middle" textLength="7.80" lengthAdjust="spacingAndGlyphs" stroke="#555" stroke-width="0.07">Chr7_Apl</text>
<text transform="matrix(-0.00087 1.00000 -1.00000 -0.00087 472.300 246.700)" x="0" y="0.646" font-size="1.9" fill="#555" text-anchor="middle" textLength="7.80" lengthAdjust="spacingAndGlyphs" stroke="#555" stroke-width="0.07">Chr8_Apl</text>
<text transform="matrix(-0.00087 1.00000 -1.00000 -0.00087 472.300 255.300)" x="0" y="0.646" font-size="1.9" fill="#555" text-anchor="middle" textLength="7.80" lengthAdjust="spacingAndGlyphs" stroke="#555" stroke-width="0.07">Chr9_Apl</text>
<text transform="matrix(-0.00087 1.00000 -1.00000 -0.00087 472.300 263.900)" x="0" y="0.646" font-size="1.9" fill="#555" text-anchor="middle" textLength="7.80" lengthAdjust="spacingAndGlyphs" stroke="#555" stroke-width="0.07">Chr10_Apl</text>
<text transform="matrix(-0.00087 1.00000 -1.00000 -0.00087 472.300 272.500)" x="0" y="0.646" font-size="1.9" fill="#555" text-anchor="middle" textLength="7.80" lengthAdjust="spacingAndGlyphs" stroke="#555" stroke-width="0.07">Chr11_Apl</text>
<text transform="matrix(-0.00087 1.00000 -1.00000 -0.00087 472.300 281.100)" x="0" y="0.646" font-size="1.9" fill="#555" text-anchor="middle" textLength="7.80" lengthAdjust="spacingAndGlyphs" stroke="#555" stroke-width="0.07">Chr12_Apl</text>
<text transform="matrix(-0.00087 1.00000 -1.00000 -0.00087 472.300 289.700)" x="0" y="0.646" font-size="1.9" fill="#555" text-anchor="middle" textLength="7.80" lengthAdjust="spacingAndGlyphs" stroke="#555" stroke-width="0.07">Chr13_Apl</text>
<text transform="matrix(-0.00087 1.00000 -1.00000 -0.00087 475.700 239.800)" x="0" y="0.646" font-size="1.9" fill="#555" text-anchor="middle" textLength="7.00" lengthAdjust="spacingAndGlyphs" stroke="#555" stroke-width="0.07">Apl79</text>
<text transform="matrix(1.0 0.0012 0 1 481.200 183.080)" font-size="2.0" fill="#333" text-anchor="start" textLength="9.00" lengthAdjust="spacingAndGlyphs" stroke="#333" stroke-width="0.07">Legend</text>
<rect x="486.10" y="184.60" width="7.00" height="7.00" rx="0" fill="#0d4314"/>
<rect x="486.10" y="191.60" width="7.00" height="6.20" rx="0" fill="#3cbb46"/>
<rect x="486.10" y="197.80" width="7.00" height="5.70" rx="0" fill="#dc6a10"/>
<rect x="486.10" y="203.50" width="7.00" height="6.30" rx="0" fill="#f7cf3e"/>
<text transform="matrix(1.0 0.0012 0 1 485.000 186.110)" font-size="1.5" fill="#444" text-anchor="end" stroke="#444" stroke-width="0.07">1</text>
<text transform="matrix(1.0 0.0012 0 1 485.000 192.010)" font-size="1.5" fill="#444" text-anchor="end" stroke="#444" stroke-width="0.07">0.75</text>
<text transform="matrix(1.0 0.0012 0 1 485.000 197.910)" font-size="1.5" fill="#444" text-anchor="end" stroke="#444" stroke-width="0.07">0.5</text>
<text transform="matrix(1.0 0.0012 0 1 485.000 203.810)" font-size="1.5" fill="#444" text-anchor="end" stroke="#444" stroke-width="0.07">0.25</text>
<text transform="matrix(1.0 0.0012 0 1 485.000 209.710)" font-size="1.5" fill="#444" text-anchor="end" stroke="#444" stroke-width="0.07">0</text>
<text transform="matrix(0.00087 -1.00000 1.00000 0.00087 480.100 199.500)" x="0" y="0.646" font-size="1.9" fill="#333" text-anchor="middle" textLength="8.50" lengthAdjust="spacingAndGlyphs" stroke="#333" stroke-width="0.07">Identity</text>
<text transform="matrix(1.0 0.0012 0 1 479.600 221.314)" font-size="2.1" fill="#333" text-anchor="start" textLength="10.50" lengthAdjust="spacingAndGlyphs" stroke="#333" stroke-width="0.07">Filter small</text>
<text transform="matrix(1.0 0.0012 0 1 479.600 224.614)" font-size="2.1" fill="#333" text-anchor="start" textLength="7.50" lengthAdjust="spacingAndGlyphs" stroke="#333" stroke-width="0.07">matches</text>
<rect x="479.60" y="227.00" width="22.50" height="0.50" rx="0" fill="#dcdcdc"/>
<circle cx="480.20" cy="227.25" r="0.75" fill="#222"/>
<text transform="matrix(1.0 0.0012 0 1 479.600 232.914)" font-size="2.1" fill="#333" text-anchor="start" textLength="16.00" lengthAdjust="spacingAndGlyphs" stroke="#333" stroke-width="0.07">Min identity (abs)</text>
<rect x="479.55" y="235.15" width="21.30" height="3.70" rx="0" fill="#fff" stroke="#bbb" stroke-width="0.3"/>
<text transform="matrix(1.0 0.0012 0 1 480.400 237.612)" font-size="1.8" fill="#333" text-anchor="start" stroke="#333" stroke-width="0.07">0</text>
<rect x="479.73" y="242.53" width="1.05" height="1.05" rx="0" fill="#fff" stroke="#888" stroke-width="0.25"/>
<text transform="matrix(1.0 0.0012 0 1 481.600 243.714)" font-size="2.1" fill="#555" text-anchor="start" textLength="15.00" lengthAdjust="spacingAndGlyphs" stroke="#555" stroke-width="0.07">Strong precision</text>
<text transform="matrix(1.0 0.0012 0 1 479.600 248.614)" font-size="2.1" fill="#333" text-anchor="start" textLength="11.00" lengthAdjust="spacingAndGlyphs" stroke="#333" stroke-width="0.07">Stroke width</text>
<rect x="479.60" y="250.90" width="22.50" height="0.60" rx="0" fill="#dcdcdc"/>
<rect x="479.60" y="250.90" width="8.20" height="0.60" rx="0" fill="#444"/>
<circle cx="487.80" cy="251.20" r="0.75" fill="#222"/>
<text transform="matrix(1.0 0.0012 0 1 479.600 257.514)" font-size="2.1" fill="#333" text-anchor="start" textLength="15.50" lengthAdjust="spacingAndGlyphs" stroke="#333" stroke-width="0.07">Regions dots/lines</text>
<rect x="479.60" y="258.90" width="22.50" height="0.60" rx="0" fill="#dcdcdc"/>
<rect x="479.60" y="258.90" width="6.40" height="0.60" rx="0" fill="#444"/>
<circle cx="486.00" cy="259.20" r="0.75" fill="#222"/>
<rect x="479.55" y="263.65" width="23.30" height="3.70" rx="0.5" fill="#f4f4f4" stroke="#bbb" stroke-width="0.3"/>
<text transform="matrix(1.0 0.0012 0 1 491.200 266.214)" font-size="2.1" fill="#333" text-anchor="middle" textLength="9.50" lengthAdjust="spacingAndGlyphs" stroke="#333" stroke-width="0.07">Summary</text>
</svg>
</body></html>
